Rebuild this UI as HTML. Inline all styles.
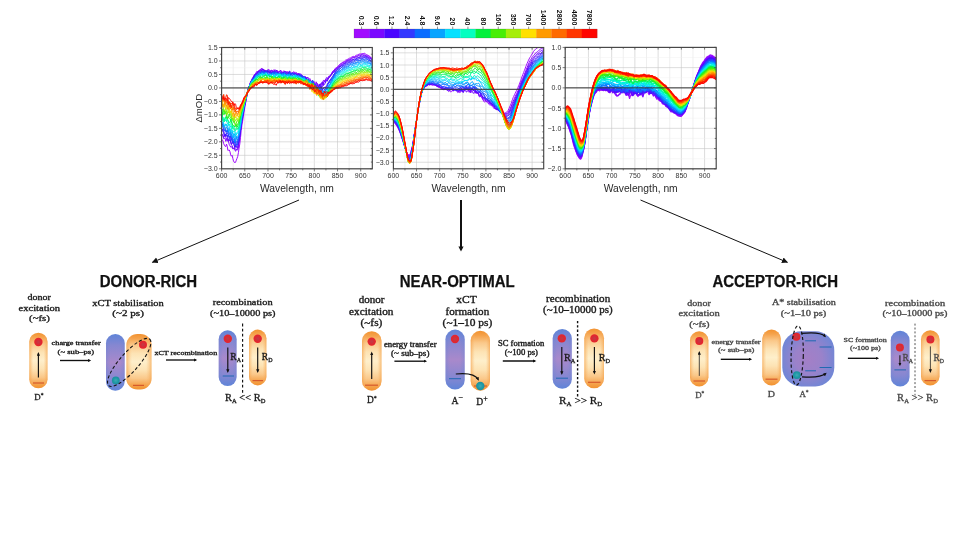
<!DOCTYPE html>
<html><head><meta charset="utf-8"><title>Transient absorption spectra</title>
<style>html,body{margin:0;padding:0;background:#fff;}body{width:964px;height:542px;overflow:hidden;}svg{display:block;filter:blur(0.4px);}text{white-space:pre;}</style>
</head><body>
<svg width="964" height="542" viewBox="0 0 964 542">
<rect width="964" height="542" fill="#fff"/>
<rect x="354" y="29.0" width="15.49" height="9.0" fill="#a10cff"/>
<rect x="369.19" y="29.0" width="15.49" height="9.0" fill="#7a08ff"/>
<rect x="384.38" y="29.0" width="15.49" height="9.0" fill="#4a06ff"/>
<rect x="399.56" y="29.0" width="15.49" height="9.0" fill="#3338ff"/>
<rect x="414.75" y="29.0" width="15.49" height="9.0" fill="#0a6cff"/>
<rect x="429.94" y="29.0" width="15.49" height="9.0" fill="#08a4ff"/>
<rect x="445.12" y="29.0" width="15.49" height="9.0" fill="#05e1ff"/>
<rect x="460.31" y="29.0" width="15.49" height="9.0" fill="#05ffc0"/>
<rect x="475.5" y="29.0" width="15.49" height="9.0" fill="#04f03c"/>
<rect x="490.69" y="29.0" width="15.49" height="9.0" fill="#48ee06"/>
<rect x="505.88" y="29.0" width="15.49" height="9.0" fill="#a6ee0a"/>
<rect x="521.06" y="29.0" width="15.49" height="9.0" fill="#ffe000"/>
<rect x="536.25" y="29.0" width="15.49" height="9.0" fill="#ff9a00"/>
<rect x="551.44" y="29.0" width="15.49" height="9.0" fill="#ff6a00"/>
<rect x="566.62" y="29.0" width="15.49" height="9.0" fill="#ff3600"/>
<rect x="581.81" y="29.0" width="15.49" height="9.0" fill="#ff0500"/>
<rect x="354.0" y="29.0" width="243.0" height="9.0" fill="none" stroke="#555" stroke-width="0.4" opacity="0.5"/>
<line x1="361.59" y1="26.6" x2="361.59" y2="29.0" stroke="#444" stroke-width="0.6"/>
<text transform="translate(359.09,25.4) rotate(90)" text-anchor="end" font-family="'Liberation Sans',Arial,sans-serif" font-size="7" font-weight="bold" fill="#111">0.3</text>
<line x1="376.78" y1="26.6" x2="376.78" y2="29.0" stroke="#444" stroke-width="0.6"/>
<text transform="translate(374.28,25.4) rotate(90)" text-anchor="end" font-family="'Liberation Sans',Arial,sans-serif" font-size="7" font-weight="bold" fill="#111">0.6</text>
<line x1="391.97" y1="26.6" x2="391.97" y2="29.0" stroke="#444" stroke-width="0.6"/>
<text transform="translate(389.47,25.4) rotate(90)" text-anchor="end" font-family="'Liberation Sans',Arial,sans-serif" font-size="7" font-weight="bold" fill="#111">1.2</text>
<line x1="407.16" y1="26.6" x2="407.16" y2="29.0" stroke="#444" stroke-width="0.6"/>
<text transform="translate(404.66,25.4) rotate(90)" text-anchor="end" font-family="'Liberation Sans',Arial,sans-serif" font-size="7" font-weight="bold" fill="#111">2.4</text>
<line x1="422.34" y1="26.6" x2="422.34" y2="29.0" stroke="#444" stroke-width="0.6"/>
<text transform="translate(419.84,25.4) rotate(90)" text-anchor="end" font-family="'Liberation Sans',Arial,sans-serif" font-size="7" font-weight="bold" fill="#111">4.8</text>
<line x1="437.53" y1="26.6" x2="437.53" y2="29.0" stroke="#444" stroke-width="0.6"/>
<text transform="translate(435.03,25.4) rotate(90)" text-anchor="end" font-family="'Liberation Sans',Arial,sans-serif" font-size="7" font-weight="bold" fill="#111">9.6</text>
<line x1="452.72" y1="26.6" x2="452.72" y2="29.0" stroke="#444" stroke-width="0.6"/>
<text transform="translate(450.22,25.4) rotate(90)" text-anchor="end" font-family="'Liberation Sans',Arial,sans-serif" font-size="7" font-weight="bold" fill="#111">20</text>
<line x1="467.91" y1="26.6" x2="467.91" y2="29.0" stroke="#444" stroke-width="0.6"/>
<text transform="translate(465.41,25.4) rotate(90)" text-anchor="end" font-family="'Liberation Sans',Arial,sans-serif" font-size="7" font-weight="bold" fill="#111">40</text>
<line x1="483.09" y1="26.6" x2="483.09" y2="29.0" stroke="#444" stroke-width="0.6"/>
<text transform="translate(480.59,25.4) rotate(90)" text-anchor="end" font-family="'Liberation Sans',Arial,sans-serif" font-size="7" font-weight="bold" fill="#111">80</text>
<line x1="498.28" y1="26.6" x2="498.28" y2="29.0" stroke="#444" stroke-width="0.6"/>
<text transform="translate(495.78,25.4) rotate(90)" text-anchor="end" font-family="'Liberation Sans',Arial,sans-serif" font-size="7" font-weight="bold" fill="#111">160</text>
<line x1="513.47" y1="26.6" x2="513.47" y2="29.0" stroke="#444" stroke-width="0.6"/>
<text transform="translate(510.97,25.4) rotate(90)" text-anchor="end" font-family="'Liberation Sans',Arial,sans-serif" font-size="7" font-weight="bold" fill="#111">350</text>
<line x1="528.66" y1="26.6" x2="528.66" y2="29.0" stroke="#444" stroke-width="0.6"/>
<text transform="translate(526.16,25.4) rotate(90)" text-anchor="end" font-family="'Liberation Sans',Arial,sans-serif" font-size="7" font-weight="bold" fill="#111">700</text>
<line x1="543.84" y1="26.6" x2="543.84" y2="29.0" stroke="#444" stroke-width="0.6"/>
<text transform="translate(541.34,25.4) rotate(90)" text-anchor="end" font-family="'Liberation Sans',Arial,sans-serif" font-size="7" font-weight="bold" fill="#111">1400</text>
<line x1="559.03" y1="26.6" x2="559.03" y2="29.0" stroke="#444" stroke-width="0.6"/>
<text transform="translate(556.53,25.4) rotate(90)" text-anchor="end" font-family="'Liberation Sans',Arial,sans-serif" font-size="7" font-weight="bold" fill="#111">2800</text>
<line x1="574.22" y1="26.6" x2="574.22" y2="29.0" stroke="#444" stroke-width="0.6"/>
<text transform="translate(571.72,25.4) rotate(90)" text-anchor="end" font-family="'Liberation Sans',Arial,sans-serif" font-size="7" font-weight="bold" fill="#111">4600</text>
<line x1="589.41" y1="26.6" x2="589.41" y2="29.0" stroke="#444" stroke-width="0.6"/>
<text transform="translate(586.91,25.4) rotate(90)" text-anchor="end" font-family="'Liberation Sans',Arial,sans-serif" font-size="7" font-weight="bold" fill="#111">7800</text>
<clipPath id="clip1"><rect x="221.6" y="47.5" width="150.70000000000002" height="121.30000000000001"/></clipPath>
<rect x="221.6" y="47.5" width="150.70000000000002" height="121.30000000000001" fill="#fff"/>
<line x1="233.19" y1="47.5" x2="233.19" y2="168.8" stroke="#e4e4e4" stroke-width="0.6"/>
<line x1="244.78" y1="47.5" x2="244.78" y2="168.8" stroke="#c6c6c6" stroke-width="0.6"/>
<line x1="256.38" y1="47.5" x2="256.38" y2="168.8" stroke="#e4e4e4" stroke-width="0.6"/>
<line x1="267.97" y1="47.5" x2="267.97" y2="168.8" stroke="#c6c6c6" stroke-width="0.6"/>
<line x1="279.56" y1="47.5" x2="279.56" y2="168.8" stroke="#e4e4e4" stroke-width="0.6"/>
<line x1="291.15" y1="47.5" x2="291.15" y2="168.8" stroke="#c6c6c6" stroke-width="0.6"/>
<line x1="302.75" y1="47.5" x2="302.75" y2="168.8" stroke="#e4e4e4" stroke-width="0.6"/>
<line x1="314.34" y1="47.5" x2="314.34" y2="168.8" stroke="#c6c6c6" stroke-width="0.6"/>
<line x1="325.93" y1="47.5" x2="325.93" y2="168.8" stroke="#e4e4e4" stroke-width="0.6"/>
<line x1="337.52" y1="47.5" x2="337.52" y2="168.8" stroke="#c6c6c6" stroke-width="0.6"/>
<line x1="349.12" y1="47.5" x2="349.12" y2="168.8" stroke="#e4e4e4" stroke-width="0.6"/>
<line x1="360.71" y1="47.5" x2="360.71" y2="168.8" stroke="#c6c6c6" stroke-width="0.6"/>
<line x1="221.6" y1="168.8" x2="372.3" y2="168.8" stroke="#c6c6c6" stroke-width="0.6"/>
<line x1="221.6" y1="162.06" x2="372.3" y2="162.06" stroke="#f0f0f0" stroke-width="0.45"/>
<line x1="221.6" y1="155.32" x2="372.3" y2="155.32" stroke="#c6c6c6" stroke-width="0.6"/>
<line x1="221.6" y1="148.58" x2="372.3" y2="148.58" stroke="#f0f0f0" stroke-width="0.45"/>
<line x1="221.6" y1="141.84" x2="372.3" y2="141.84" stroke="#c6c6c6" stroke-width="0.6"/>
<line x1="221.6" y1="135.11" x2="372.3" y2="135.11" stroke="#f0f0f0" stroke-width="0.45"/>
<line x1="221.6" y1="128.37" x2="372.3" y2="128.37" stroke="#c6c6c6" stroke-width="0.6"/>
<line x1="221.6" y1="121.63" x2="372.3" y2="121.63" stroke="#f0f0f0" stroke-width="0.45"/>
<line x1="221.6" y1="114.89" x2="372.3" y2="114.89" stroke="#c6c6c6" stroke-width="0.6"/>
<line x1="221.6" y1="108.15" x2="372.3" y2="108.15" stroke="#f0f0f0" stroke-width="0.45"/>
<line x1="221.6" y1="101.41" x2="372.3" y2="101.41" stroke="#c6c6c6" stroke-width="0.6"/>
<line x1="221.6" y1="94.67" x2="372.3" y2="94.67" stroke="#f0f0f0" stroke-width="0.45"/>
<line x1="221.6" y1="87.93" x2="372.3" y2="87.93" stroke="#c6c6c6" stroke-width="0.6"/>
<line x1="221.6" y1="81.19" x2="372.3" y2="81.19" stroke="#f0f0f0" stroke-width="0.45"/>
<line x1="221.6" y1="74.46" x2="372.3" y2="74.46" stroke="#c6c6c6" stroke-width="0.6"/>
<line x1="221.6" y1="67.72" x2="372.3" y2="67.72" stroke="#f0f0f0" stroke-width="0.45"/>
<line x1="221.6" y1="60.98" x2="372.3" y2="60.98" stroke="#c6c6c6" stroke-width="0.6"/>
<line x1="221.6" y1="54.24" x2="372.3" y2="54.24" stroke="#f0f0f0" stroke-width="0.45"/>
<line x1="221.6" y1="47.5" x2="372.3" y2="47.5" stroke="#c6c6c6" stroke-width="0.6"/>
<g clip-path="url(#clip1)"><g transform="scale(0.1)" fill="none" stroke-linejoin="round" stroke-width="10">
<path d="M2216,1391l7 6 7 13 7 27 7 14 7 12 7 3 7-25 7 21 7 43 7-3 7-2 7 18 7 31 7 13 7-9 7 31 7 25 7 12 7 8 7-7 7-20 7-18 7-19 7-38 7-45 7-43 7-62 7-71 7-53 7-40 7-45 7-47 7-40 7-47 7-37 7-29 7-39 7-27 7-21 7-26 7-22 7-13 7-16 7-24 7-5 7-9 7-17 7-3 7-16 7-14 7 8 7-4 7-16 7-4 7-4 7-3 7 0 7-8 7 8 7 8 7-1 7 2 7 5 7 6 7-5 7-8 7-8 7 15 7 13 7-12 7 8 7 8 7-11 7-11 7-5 7 12 7 7 7 0 7-12 7 2 7 13 7-4 7-1 7 4 7 7 7 0 7-4 7-7 7-6 7 8 7 0 7 3 7-2 7-1 7 3 7 8 7 2 7 3 7 14 7-7 7-6 7-2 7-16 7 6 7 17 7-5 7-4 7 4 7 5 7-2 7-1 7 12 7 7 7-2 7 9 7 3 7 3 7-1 7-4 7 11 7 10 7 8 7 18 7 16 7-15 7 16 7 2 7 1 7 7 7-5 7 5 7-7 7 34 7-10 7-35 7 17 7 21 7 0 7 6 7-18 7-7 7 10 7-1 7 1 7-2 7-24 7-17 7-4 7-9 7 3 7-6 7-9 7-9 7-9 7-7 7-5 7-7 7-21 7-9 7 0 7-12 7-15 7-3 7-3 7-9 7-3 7-10 7-9 7-5 7-4 7-6 7-6 7-4 7-3 7-3 7-9 7-6 7-2 7-5 7-2 7-3 7-5 7-4 7-2 7-4 7-5 7-5 7-1 7 0 7 1 7-6 7-7 7 0 7-2 7-4 7-3 7-3 7 1 7-3 7 0 7 0 7-4 7 1 7-2 7 1 7 8 7 9 7-1 7 2 7 5 7 1 7 8 7 11 7 2 7 1" stroke="#a10cff"/>
<path d="M2216,1341l7 5 7 14 7 28 7-3 7-1 7 30 7-15 7-16 7 12 7 25 7 27 7 11 7 13 7-5 7 12 7 11 7-1 7-11 7 24 7 12 7-18 7 2 7 3 7-18 7-61 7-59 7-54 7-48 7-50 7-45 7-25 7-37 7-39 7-24 7-40 7-52 7-32 7-16 7-19 7-31 7-25 7-13 7-14 7-12 7-15 7-13 7-7 7-1 7-9 7-8 7-10 7-4 7-1 7-11 7 2 7-11 7-15 7 12 7 4 7-4 7 21 7 1 7-13 7 2 7 7 7 3 7-5 7-8 7-3 7 8 7-7 7 4 7 14 7 9 7-13 7-17 7 4 7 3 7 6 7 4 7 3 7 3 7-1 7-11 7-3 7 11 7 9 7 4 7-14 7-6 7 10 7 6 7 8 7-2 7-11 7 2 7 7 7 0 7-1 7 8 7 2 7-3 7-5 7 0 7 3 7-11 7 6 7 13 7-1 7 0 7 9 7 0 7-13 7 7 7 16 7 9 7 1 7 5 7 14 7-13 7 3 7 6 7-15 7 12 7 15 7-12 7 12 7 33 7 18 7-2 7-28 7-6 7 34 7 27 7-3 7-13 7-5 7 0 7-8 7 4 7 1 7-8 7-3 7-7 7-24 7-5 7 10 7 10 7-11 7-7 7 3 7-25 7-19 7-2 7 3 7-8 7-14 7-12 7-18 7-7 7 1 7-5 7-10 7-9 7-5 7-7 7-6 7-8 7-10 7-6 7-2 7-4 7-5 7-3 7-5 7-2 7-2 7-8 7-7 7-2 7-6 7 0 7 0 7-7 7-5 7-2 7-4 7-4 7 2 7-1 7-6 7-5 7 3 7-5 7-7 7-3 7 0 7 1 7 0 7-8 7-2 7 1 7 1 7 4 7 4 7 4 7-3 7 5 7 2 7 0 7 9 7 6 7 4 7 5 7 6" stroke="#8a0aff"/>
<path d="M2216,1336l7 10 7 9 7 20 7-7 7-26 7 30 7 21 7-5 7 25 7-13 7 4 7 1 7 16 7 27 7 6 7 29 7 1 7 2 7 3 7-1 7 13 7-7 7-20 7-28 7-35 7-47 7-52 7-53 7-48 7-29 7-48 7-54 7-29 7-24 7-37 7-31 7-33 7-28 7-18 7-27 7-20 7-16 7-14 7-5 7-7 7-24 7-16 7-1 7-9 7-6 7-7 7-16 7-1 7 12 7-4 7-3 7-9 7-11 7 10 7 13 7-2 7-15 7 15 7 6 7-9 7-2 7 0 7 9 7 4 7 5 7-18 7-11 7 12 7 12 7 11 7-3 7-12 7-1 7 1 7 8 7 0 7-7 7-8 7-12 7 10 7 18 7 0 7 0 7 5 7-3 7 2 7-4 7-5 7 2 7 1 7 7 7 5 7-3 7-1 7-2 7-3 7 10 7 0 7 1 7 4 7-4 7 9 7-1 7-9 7 3 7 6 7 4 7 7 7 3 7 1 7 2 7 8 7 3 7-5 7 6 7 9 7 0 7 16 7 7 7-11 7 7 7 4 7 15 7 12 7-10 7-3 7 10 7 29 7 0 7-31 7-5 7 11 7 31 7-10 7-19 7 37 7-9 7-15 7 12 7-15 7-30 7-8 7 1 7-23 7-15 7 5 7 4 7-1 7-6 7-16 7-13 7-7 7-10 7-6 7-5 7-12 7-10 7-8 7-7 7-3 7-6 7-5 7-1 7-9 7-9 7-5 7-1 7-4 7-7 7-3 7-1 7-6 7-10 7-5 7-1 7-2 7-7 7 3 7-2 7-10 7-4 7-5 7-4 7 0 7-1 7-3 7-1 7-1 7-5 7-7 7 0 7 2 7-3 7-5 7-1 7-1 7 1 7 4 7 0 7-1 7 0 7 7 7 7 7-1 7 3 7 7 7 2 7 1 7 6 7 8" stroke="#7308ff"/>
<path d="M2216,1300l7 7 7 4 7 15 7 35 7-10 7 5 7 1 7-7 7 35 7 13 7 1 7-1 7 15 7 31 7-13 7-21 7 4 7 38 7 24 7-16 7 1 7 18 7-11 7-31 7-34 7-38 7-53 7-63 7-46 7-37 7-46 7-42 7-33 7-33 7-29 7-27 7-28 7-31 7-27 7-13 7-18 7-19 7-18 7-7 7-3 7-15 7-25 7-14 7 4 7-5 7-18 7-2 7 5 7-12 7-9 7 1 7 5 7-6 7-12 7 8 7 7 7 16 7 1 7-10 7 2 7-4 7 5 7 16 7-4 7-6 7 6 7-1 7 1 7 12 7-10 7-16 7 1 7-11 7 8 7 26 7 7 7-4 7-2 7-8 7 11 7-1 7-3 7 1 7-9 7 5 7 0 7 2 7 3 7 8 7-3 7-21 7-11 7 4 7 8 7 12 7-4 7-2 7 9 7 2 7 0 7 2 7 2 7 5 7 4 7-16 7 1 7 17 7-1 7-2 7 13 7 10 7-9 7 0 7 9 7-6 7 11 7 16 7 5 7-7 7 19 7 27 7-8 7-9 7-8 7-4 7 31 7 13 7-11 7 22 7-8 7 4 7 32 7-8 7-9 7 1 7-25 7-13 7-15 7 2 7 26 7-2 7-13 7-4 7-18 7-12 7 8 7-17 7-17 7-6 7-8 7-9 7-8 7-10 7-9 7-5 7-8 7-3 7-6 7-10 7-8 7-3 7-9 7-9 7 1 7-2 7-7 7-8 7-4 7-5 7-5 7-5 7-4 7-3 7-7 7-9 7 1 7 3 7-4 7-6 7-2 7-1 7-5 7-1 7-1 7-4 7 0 7 0 7-6 7-6 7-3 7 2 7-2 7-8 7-3 7 0 7 2 7-2 7-1 7 5 7 2 7-3 7 0 7 3 7 5 7 3 7 4 7 7 7-1 7 4 7 11" stroke="#5707ff"/>
<path d="M2216,1300l7 1 7-13 7 17 7 49 7 4 7-19 7 1 7-12 7 7 7 18 7 32 7 10 7-36 7 14 7 39 7 22 7-7 7 23 7 25 7-16 7-11 7 3 7-4 7-20 7-38 7-53 7-45 7-47 7-53 7-35 7-34 7-46 7-31 7-30 7-31 7-34 7-42 7-28 7-12 7-15 7-20 7-14 7-20 7-5 7-9 7-15 7-11 7-9 7 2 7-7 7-13 7-6 7-5 7-2 7 10 7-10 7-15 7 5 7 4 7-5 7 4 7 11 7 0 7-11 7 8 7 1 7-4 7 15 7-11 7-6 7 17 7 2 7-14 7-9 7 9 7 6 7-7 7 8 7 2 7-3 7 6 7 4 7-3 7-3 7 5 7 3 7-10 7-4 7 2 7-6 7 3 7-6 7 9 7 10 7-3 7-6 7-11 7 23 7 16 7-15 7-9 7 1 7 5 7 2 7-3 7 4 7 0 7 13 7 4 7-4 7 1 7-2 7 13 7 0 7 4 7 12 7 8 7-2 7-10 7-4 7 9 7 5 7 3 7 16 7 1 7-6 7 14 7 20 7 4 7 2 7 15 7-5 7 0 7 14 7 10 7 5 7-12 7 13 7-18 7-7 7 6 7-5 7 28 7 13 7-14 7-8 7-2 7-4 7 5 7-11 7-8 7-15 7-19 7-6 7-14 7-16 7-6 7-5 7-13 7-10 7-11 7-20 7-8 7-6 7-7 7-5 7-9 7-5 7-8 7-9 7-4 7-2 7-2 7-6 7-6 7-4 7-5 7-6 7 1 7 0 7-9 7-3 7 0 7-3 7-2 7-4 7-10 7-5 7 4 7 2 7-4 7-6 7-2 7 1 7-6 7-5 7 0 7 2 7 0 7-2 7 0 7-3 7-3 7 1 7-3 7 0 7 9 7 3 7-2 7 6 7 8 7 3 7 6 7 3 7 7" stroke="#4315ff"/>
<path d="M2216,1299l7 9 7-6 7-1 7-1 7 12 7-7 7 38 7 26 7-13 7 8 7-4 7 26 7 23 7-14 7-1 7 33 7-9 7-27 7 46 7 22 7-44 7-8 7 14 7-8 7-33 7-50 7-53 7-50 7-40 7-33 7-34 7-39 7-36 7-31 7-39 7-31 7-25 7-24 7-19 7-18 7-17 7-20 7-10 7-14 7-16 7 0 7-6 7-8 7-10 7-6 7-12 7-6 7 11 7-5 7-5 7-5 7-17 7-3 7 13 7 9 7-17 7-5 7 11 7-4 7-14 7-1 7 15 7 6 7-2 7 7 7 11 7-4 7 0 7 2 7-7 7-15 7 7 7 17 7-4 7-4 7-7 7 7 7 13 7 8 7 1 7-14 7-6 7 11 7 3 7-6 7-5 7 4 7 5 7 8 7 6 7-21 7 7 7 12 7-14 7 1 7 7 7-2 7-3 7 1 7 10 7 2 7-5 7 4 7-4 7-4 7-1 7 9 7 3 7-7 7 2 7 2 7 11 7 14 7-3 7 12 7 10 7-2 7 11 7 17 7 12 7-10 7-13 7-5 7 15 7 20 7 15 7 0 7 0 7 4 7-20 7 13 7 44 7 14 7 2 7 6 7-30 7-13 7 32 7-6 7-28 7 6 7 12 7-8 7-16 7-16 7-15 7-12 7-10 7-11 7-9 7 1 7-9 7-19 7-10 7-13 7-10 7-5 7-13 7-12 7-5 7-7 7-8 7-4 7 2 7-4 7-9 7-4 7-6 7-9 7-3 7 0 7-9 7-5 7 3 7-5 7-6 7-2 7-4 7-3 7 0 7-4 7-6 7-1 7-2 7-3 7-8 7-1 7 1 7-4 7 0 7-4 7-4 7-4 7 0 7 2 7 1 7-3 7-2 7-1 7 2 7 2 7 0 7 4 7 9 7 5 7 4 7-1 7 3 7 6 7 3" stroke="#3632ff"/>
<path d="M2216,1247l7-9 7 29 7 22 7 3 7 1 7 16 7 11 7-25 7 35 7 30 7-2 7 11 7-15 7 15 7 14 7 33 7 6 7-3 7 9 7-8 7 30 7 2 7-34 7-36 7-36 7-38 7-38 7-51 7-57 7-29 7-26 7-27 7-39 7-51 7-28 7-21 7-26 7-14 7-24 7-18 7-12 7-22 7-18 7-11 7-8 7-5 7 0 7-12 7-9 7 0 7-3 7-11 7-3 7 0 7-5 7-9 7-11 7-10 7 11 7 16 7-13 7-2 7 8 7-11 7 1 7 18 7 7 7-9 7-9 7 11 7 9 7-12 7-9 7 8 7 0 7-7 7 16 7 7 7-14 7 2 7 17 7-1 7-19 7-12 7 20 7-6 7-6 7 11 7-15 7 1 7 7 7 14 7-3 7-2 7 19 7-21 7-18 7 7 7 10 7 2 7-13 7 0 7 10 7 16 7 1 7 6 7 9 7-10 7-2 7 4 7-3 7-8 7-5 7 14 7 3 7 8 7 13 7-7 7 10 7 12 7 6 7 2 7-19 7 12 7 19 7 8 7 20 7 11 7-23 7-36 7 17 7 44 7 4 7 2 7 5 7-3 7 11 7 1 7 15 7 15 7 16 7 3 7-2 7-4 7-6 7-6 7-17 7 5 7 1 7-14 7-21 7-26 7-10 7-1 7-15 7-7 7-12 7-15 7 2 7-21 7-23 7 1 7-6 7-10 7-7 7-4 7-4 7-11 7-7 7-7 7-4 7-8 7-3 7 0 7-2 7-1 7-10 7-4 7-2 7-6 7 0 7-2 7-4 7-3 7-6 7-5 7 0 7 1 7-5 7-4 7-4 7-7 7-2 7 2 7 0 7-1 7-1 7-2 7-3 7-2 7-4 7 0 7 2 7 2 7-2 7-2 7 2 7 1 7 3 7 5 7 5 7-2 7 9 7 8 7 0" stroke="#2050ff"/>
<path d="M2216,1248l7-6 7-8 7 25 7 19 7 9 7 24 7 3 7 0 7-3 7 0 7 35 7-14 7-28 7 30 7 34 7 24 7-1 7 3 7 30 7-4 7-51 7 23 7 12 7-35 7-26 7-53 7-41 7-33 7-53 7-34 7-26 7-36 7-31 7-37 7-26 7-24 7-24 7-22 7-25 7-5 7-18 7-22 7-11 7-22 7-7 7 3 7-20 7-13 7-7 7-8 7 6 7-4 7-17 7-11 7 3 7 3 7 1 7 3 7-11 7-3 7 19 7 4 7-11 7-6 7 6 7 9 7 0 7 7 7 9 7-15 7-5 7 3 7-11 7-1 7 8 7-9 7-4 7 17 7 0 7-4 7 11 7 3 7-5 7 15 7 0 7-11 7 3 7 9 7 0 7-10 7-3 7 8 7-3 7 0 7 6 7-15 7 3 7 12 7-10 7-1 7 9 7-3 7-7 7 14 7 11 7-5 7 2 7 1 7 0 7-4 7 3 7 4 7-5 7 8 7 5 7-11 7 2 7 18 7 7 7 6 7 2 7-10 7 14 7 16 7-13 7 8 7 16 7 12 7 17 7 1 7-29 7 5 7 41 7 9 7 2 7-10 7 1 7-12 7 5 7 12 7 4 7 14 7 21 7 8 7-14 7-2 7 13 7-16 7-22 7 0 7-12 7-12 7-15 7-7 7-7 7-20 7-17 7-9 7-10 7-10 7-12 7-16 7-6 7-9 7-12 7-1 7-6 7-4 7 0 7-5 7-8 7-7 7-4 7-6 7 0 7-5 7-5 7-2 7-5 7-3 7-1 7-3 7-6 7-6 7-4 7 0 7 0 7-3 7-5 7 0 7-4 7-5 7 1 7-4 7-6 7-2 7-3 7-2 7-2 7-4 7 2 7-1 7-1 7 4 7 3 7 2 7-1 7 4 7 2 7 0 7 4 7 9 7 5 7 0 7 6" stroke="#0a6eff"/>
<path d="M2216,1235l7 36 7-2 7-18 7 2 7 24 7 10 7-18 7 6 7 19 7 32 7-39 7 14 7 53 7 2 7 16 7-8 7-24 7 33 7 43 7-21 7-30 7 0 7-5 7 0 7-23 7-41 7-38 7-56 7-40 7-42 7-38 7-18 7-34 7-40 7-26 7-13 7-24 7-33 7-16 7-10 7-23 7-18 7-4 7-8 7-11 7-12 7-11 7-12 7-9 7 7 7-5 7-18 7-7 7-5 7 1 7 9 7-8 7 1 7 18 7-11 7-8 7 9 7 4 7 8 7-1 7-5 7-9 7 13 7-2 7-7 7 13 7-12 7-6 7 15 7-12 7-4 7 11 7-7 7-7 7 5 7 3 7 2 7 0 7 1 7 10 7-17 7-4 7 12 7-12 7-1 7 20 7-2 7 3 7-2 7-14 7 10 7 11 7-4 7-3 7 7 7-2 7 6 7 6 7-8 7-1 7-3 7 7 7-1 7-3 7 8 7 9 7 6 7-7 7 2 7 5 7-8 7-4 7 0 7 12 7 23 7-6 7-6 7 3 7 8 7 4 7-3 7 10 7 9 7 8 7 9 7 9 7-2 7 16 7-2 7 2 7 16 7 5 7 21 7-20 7 6 7 43 7 9 7-8 7-27 7-4 7 10 7 6 7-1 7-21 7-18 7-1 7-4 7-16 7-5 7-11 7-16 7-4 7-16 7-22 7-8 7-5 7-15 7-13 7-7 7-10 7-3 7-4 7-6 7-4 7-5 7-5 7-7 7-5 7-2 7-3 7-5 7-2 7-2 7-5 7-3 7-3 7-3 7-8 7-6 7 0 7 0 7-6 7-4 7 2 7-2 7-3 7-5 7-1 7-4 7-1 7 0 7-2 7-4 7-4 7 3 7-4 7-3 7 4 7 3 7 2 7 1 7-1 7 3 7 3 7 3 7 3 7 2 7 0 7 10 7 8" stroke="#098eff"/>
<path d="M2216,1223l7-1 7 12 7 14 7 8 7-7 7-11 7 20 7 4 7 10 7 38 7-3 7-18 7 21 7 0 7-7 7 40 7 36 7-25 7-20 7 27 7 25 7-5 7-13 7-6 7-37 7-45 7-36 7-53 7-37 7-28 7-41 7-36 7-24 7-24 7-25 7-33 7-30 7-9 7-16 7-26 7-18 7-19 7-16 7 0 7-3 7-5 7-9 7-14 7-17 7-6 7 16 7-2 7-16 7-2 7 2 7-7 7-6 7-1 7 7 7-4 7-2 7 8 7 6 7 3 7-12 7 6 7 5 7-14 7 2 7 4 7 5 7-6 7-15 7 8 7 19 7 9 7-18 7-17 7 4 7 4 7 6 7 10 7-3 7-4 7 11 7-3 7-18 7 14 7 17 7-9 7-4 7 17 7-9 7-15 7 8 7-11 7-3 7 17 7 1 7 2 7 5 7-8 7 0 7 5 7-11 7-6 7 5 7 3 7 4 7-3 7 5 7 0 7 8 7 15 7 6 7 4 7-9 7-8 7 11 7 14 7 2 7 11 7 12 7-1 7 12 7 5 7-11 7 14 7 17 7 15 7-27 7 7 7 11 7-17 7 32 7 29 7-12 7-29 7 30 7 30 7-18 7-1 7-5 7 12 7 15 7 5 7-17 7-10 7 24 7-14 7-25 7-23 7-10 7-2 7-17 7-19 7-10 7-10 7-14 7-6 7-10 7-10 7-6 7-12 7-6 7-6 7-11 7-3 7-1 7-5 7-7 7-7 7-4 7-4 7-2 7-3 7-1 7-5 7-7 7 0 7-6 7-5 7 5 7-1 7-6 7-5 7-10 7 1 7 2 7-3 7-3 7-4 7-4 7 1 7-3 7-3 7 0 7-6 7-3 7 2 7 2 7-2 7-1 7-3 7 4 7 2 7-2 7 2 7 2 7 0 7 4 7 5 7 4 7 3 7 10" stroke="#07b0ff"/>
<path d="M2216,1183l7 7 7 26 7 16 7 29 7-2 7-11 7-7 7 20 7-6 7-18 7 35 7 24 7 17 7 15 7 7 7-4 7 5 7 25 7 4 7-6 7-6 7-29 7-8 7 7 7-12 7-33 7-43 7-50 7-39 7-28 7-33 7-31 7-38 7-23 7-17 7-25 7-28 7-19 7-10 7-16 7-15 7-21 7-29 7-3 7-2 7-14 7 2 7-5 7-10 7-3 7-17 7 0 7 2 7-16 7 2 7-1 7-8 7 0 7 3 7-2 7 14 7-4 7-25 7 4 7 8 7 15 7 8 7-4 7 4 7-11 7 2 7 7 7 8 7 1 7-13 7 4 7 6 7-17 7 4 7 20 7-3 7-14 7-19 7 6 7 19 7 5 7-11 7 4 7-2 7-15 7 9 7 6 7-4 7-5 7 11 7 3 7-4 7 12 7-3 7-2 7 6 7 8 7 0 7-16 7-15 7 5 7 6 7 7 7 8 7-2 7 8 7 9 7-3 7-1 7 10 7-1 7-2 7-1 7 2 7 13 7 3 7 3 7 12 7 8 7-8 7-5 7-1 7 31 7 25 7-9 7 1 7 8 7 16 7-8 7-1 7 32 7-8 7-20 7 30 7 8 7 8 7 2 7 0 7 22 7 2 7-2 7-9 7-13 7-6 7-4 7 13 7-17 7-23 7-14 7-27 7-13 7-6 7-11 7-13 7-10 7-9 7-9 7-13 7-10 7-7 7-6 7-3 7-6 7-6 7-7 7-4 7-1 7-2 7-9 7-5 7 1 7-8 7-6 7-1 7 0 7-7 7-5 7 1 7-1 7 1 7 0 7-7 7-6 7-1 7 1 7 0 7-4 7-2 7-5 7-8 7-6 7-2 7 5 7 1 7 4 7-2 7-7 7-3 7-2 7 2 7 2 7 1 7-1 7 6 7 6 7 3 7 0 7-1 7 6 7 10" stroke="#06d3ff"/>
<path d="M2216,1179l7 7 7 6 7 4 7-1 7 9 7 1 7-4 7 25 7 14 7 11 7-5 7 7 7 17 7 11 7 35 7-7 7 4 7 11 7-13 7 27 7 13 7-15 7-6 7-7 7-41 7-45 7-37 7-32 7-31 7-29 7-28 7-36 7-28 7-20 7-20 7-26 7-28 7-18 7-13 7-20 7-29 7-10 7-2 7-13 7 4 7-6 7-16 7-12 7-8 7 5 7-6 7-11 7-3 7-4 7 1 7-1 7-11 7-12 7 0 7 10 7-2 7-4 7-2 7 0 7 11 7 5 7-1 7 0 7 0 7 8 7 15 7 0 7 0 7-5 7-13 7 12 7-4 7-16 7 4 7-5 7-11 7 19 7 6 7-10 7 4 7-3 7 8 7 10 7 1 7 1 7-4 7 5 7 6 7-13 7-5 7 1 7 11 7 7 7-7 7-4 7 0 7-4 7-3 7 6 7 0 7-3 7 3 7-1 7-3 7 7 7 5 7 0 7-3 7 0 7 7 7 3 7 5 7 0 7 4 7 27 7-5 7-14 7 26 7 9 7 3 7-17 7-10 7 45 7 5 7-7 7-10 7 15 7 60 7-6 7-16 7 13 7 29 7-3 7-40 7 35 7 12 7-9 7-7 7-6 7 27 7-7 7-8 7 9 7-8 7-10 7 6 7-27 7-19 7 1 7-17 7-9 7-6 7-17 7-15 7-13 7-15 7-8 7-6 7-11 7-3 7-5 7-6 7-7 7-8 7-3 7 0 7-5 7-5 7-5 7-5 7-1 7-5 7-7 7 0 7-4 7-4 7 1 7-4 7-2 7-1 7-4 7-7 7-5 7 1 7-3 7-3 7 1 7-5 7-2 7-5 7-3 7 5 7-4 7-4 7 2 7 3 7-3 7-8 7 1 7 0 7-1 7 4 7 3 7 3 7 4 7 0 7 2 7 9 7 4 7 3" stroke="#05ebe9"/>
<path d="M2216,1173l7-2 7-1 7 34 7 16 7-44 7 12 7 30 7-25 7 1 7 37 7 23 7-11 7-8 7 21 7 37 7-12 7-18 7 16 7 25 7 1 7-7 7-6 7 9 7-5 7-34 7-27 7-41 7-39 7-26 7-31 7-24 7-25 7-35 7-26 7-26 7-16 7-11 7-25 7-25 7-24 7-15 7-1 7-11 7-9 7 1 7-22 7-15 7 2 7-7 7-11 7-4 7-3 7 1 7 8 7-15 7-17 7 4 7 7 7 2 7 6 7-7 7-8 7 7 7 2 7-3 7 0 7 2 7 11 7 1 7-21 7 7 7 16 7-9 7-7 7 2 7 17 7 2 7-3 7 9 7-11 7-3 7-2 7-22 7 1 7 16 7 11 7 10 7 1 7-1 7 1 7 1 7-6 7 3 7 7 7 3 7-11 7-9 7-3 7-5 7 8 7 3 7 6 7-8 7-14 7 14 7 14 7-3 7 5 7 8 7-12 7-3 7 9 7-2 7 6 7 7 7 0 7 10 7-3 7 5 7-7 7 0 7 3 7 8 7 18 7 6 7 25 7-7 7-16 7 21 7 0 7 1 7 21 7-7 7 2 7 35 7-5 7-23 7 33 7 27 7 21 7 10 7-19 7-6 7 21 7 2 7-25 7-4 7 13 7-20 7-15 7-1 7-4 7-4 7-10 7-19 7-17 7-16 7-14 7-11 7-10 7-6 7-3 7-10 7-11 7-7 7-7 7-5 7-3 7-7 7-8 7-3 7-5 7-4 7-1 7-4 7-10 7-2 7-1 7-8 7-3 7 1 7-4 7-4 7 2 7-2 7-5 7-3 7 0 7-5 7-1 7 2 7-5 7-6 7-3 7 1 7-3 7-5 7-4 7 2 7 1 7-3 7 3 7 0 7-5 7 0 7 4 7-1 7-2 7 1 7 6 7 4 7 0 7 5 7 8 7 2" stroke="#05fdc5"/>
<path d="M2216,1123l7 19 7 62 7 11 7-17 7-14 7-19 7 6 7 28 7 3 7 12 7 11 7 4 7-31 7-11 7 60 7 34 7 4 7 14 7 7 7-10 7-16 7-4 7 12 7-3 7-22 7-43 7-43 7-38 7-24 7-28 7-31 7-21 7-14 7-17 7-36 7-33 7-18 7-15 7-14 7-11 7-13 7-18 7-14 7-4 7-5 7-11 7-9 7 0 7-12 7-10 7 2 7-11 7-11 7 3 7-1 7 4 7 6 7 7 7-10 7-1 7 3 7-5 7 10 7-3 7-7 7-5 7-9 7 2 7 6 7 6 7 2 7-5 7 8 7 2 7-2 7-2 7-2 7 5 7 7 7-8 7 7 7 9 7-21 7 14 7 15 7-22 7 7 7-12 7 6 7 8 7-26 7 4 7 11 7 4 7 4 7-3 7 2 7 7 7-12 7 5 7 8 7-7 7 6 7-5 7-9 7 15 7 3 7-3 7 5 7-3 7 2 7-2 7 2 7 3 7-1 7 3 7 6 7 13 7 7 7-4 7-12 7-9 7 0 7 20 7 19 7 4 7 3 7-6 7-6 7 32 7 26 7-20 7-4 7 27 7-3 7 10 7 26 7 8 7 28 7-9 7-2 7 22 7 0 7-9 7-4 7 6 7 12 7-5 7-9 7-12 7-22 7-8 7-20 7-14 7-5 7-10 7-9 7-15 7-15 7-4 7-9 7-14 7-8 7-7 7-1 7-2 7-13 7-8 7 3 7-5 7-6 7 0 7 0 7-4 7-9 7-6 7-3 7-3 7-5 7 2 7-1 7-6 7 0 7-4 7-4 7-3 7 0 7-2 7-9 7-1 7 5 7-5 7-7 7-3 7 1 7-4 7-3 7 2 7-2 7-4 7-4 7-2 7 1 7-1 7 0 7 1 7 4 7 6 7-3 7 2 7 5 7 0 7 4 7 5 7 1" stroke="#04f87e"/>
<path d="M2216,1157l7-6 7-63 7 16 7 38 7-5 7-23 7 35 7 34 7-8 7 1 7 3 7 7 7 17 7 18 7 13 7 19 7 2 7 0 7 17 7-17 7-10 7 29 7-14 7-14 7-18 7-36 7-31 7-29 7-21 7-26 7-40 7-13 7-14 7-35 7-16 7-13 7-33 7-22 7-15 7-19 7-5 7-12 7-12 7-11 7-7 7-3 7-5 7-11 7-8 7 5 7 2 7-12 7-5 7-1 7-1 7-2 7-8 7-6 7 2 7-6 7 1 7-6 7-7 7 17 7 9 7 21 7-2 7-18 7-13 7 10 7 1 7-7 7 8 7 15 7 4 7-14 7-3 7-3 7 12 7-5 7-12 7 3 7-2 7-3 7 7 7 16 7 10 7-18 7-13 7 8 7 8 7 0 7-2 7 2 7 5 7-15 7-5 7 16 7 9 7 1 7-11 7-8 7 6 7 4 7 1 7 7 7-8 7-7 7-5 7 8 7 16 7-7 7 3 7 16 7 7 7-6 7-5 7 4 7-1 7-5 7 8 7 11 7 10 7 0 7-7 7 10 7 9 7 10 7 26 7 14 7-18 7-11 7-3 7 13 7 17 7-9 7 7 7 32 7 22 7-2 7 17 7 3 7-16 7 15 7-6 7-1 7 18 7-5 7-3 7-13 7-14 7-17 7-14 7-5 7-8 7-4 7-13 7-14 7-14 7-13 7-12 7-10 7-6 7-5 7-5 7-7 7-6 7-2 7-4 7-11 7-3 7 3 7-3 7-1 7-7 7-7 7-1 7-7 7-7 7 3 7 0 7-6 7-1 7-3 7-1 7-5 7-4 7 1 7-4 7-3 7-1 7-1 7-5 7-3 7 2 7 0 7-2 7-2 7-3 7-4 7 3 7-1 7-6 7 0 7 3 7-2 7 1 7 6 7 2 7-1 7-1 7 0 7 6 7 8 7 7" stroke="#09f038"/>
<path d="M2216,1118l7 7 7 17 7 1 7-31 7 9 7 8 7 18 7 37 7 2 7-32 7-17 7 33 7 6 7 7 7 5 7 0 7 35 7 3 7 9 7 21 7 7 7-13 7-14 7-5 7-17 7-40 7-30 7-13 7-35 7-36 7-19 7-8 7-18 7-32 7-23 7-24 7-12 7-14 7-18 7-16 7-16 7-10 7-7 7 2 7-5 7-10 7-6 7-14 7-16 7-1 7 6 7-3 7-7 7-12 7-8 7 3 7 4 7 13 7 3 7-4 7-7 7-6 7 7 7 4 7-14 7 3 7 16 7-4 7-1 7 1 7-7 7-14 7 15 7 12 7-12 7 1 7 2 7 2 7-8 7 1 7 8 7-3 7-1 7 1 7-5 7-1 7 5 7 1 7 8 7 5 7 0 7-6 7-2 7 8 7-6 7-9 7 12 7-7 7-10 7 11 7-6 7 0 7 9 7-11 7 3 7 13 7-10 7 6 7 7 7-6 7-12 7 9 7 16 7-6 7 2 7 14 7 1 7-6 7 3 7-5 7-1 7 9 7 9 7 18 7 10 7-8 7 8 7 7 7 10 7-11 7-29 7 29 7 29 7 6 7-3 7-1 7 23 7 16 7 7 7 17 7 1 7 4 7 7 7-3 7-3 7 3 7 0 7 4 7-3 7-13 7-6 7-12 7-14 7-1 7-10 7-14 7-15 7-10 7-3 7-12 7-17 7-9 7-4 7-9 7-2 7-6 7-10 7-5 7-5 7-4 7-2 7-3 7-5 7-8 7-3 7 0 7-1 7-1 7-7 7-2 7 2 7-5 7-3 7-7 7 2 7 0 7-8 7 1 7 0 7-5 7-7 7 1 7 4 7-7 7-8 7 0 7 5 7-6 7-6 7-1 7-2 7 2 7 0 7-4 7-3 7 7 7 6 7-7 7 0 7 8 7 1 7 1 7 3 7 5 7 5" stroke="#30ef19"/>
<path d="M2216,1095l7-1 7 9 7 14 7-5 7-19 7-3 7 28 7 4 7-1 7-1 7 7 7-2 7-4 7 36 7 34 7-3 7-3 7 20 7 27 7 21 7-19 7-25 7-4 7 11 7-20 7-32 7-25 7-31 7-15 7-18 7-17 7-21 7-23 7-27 7-28 7-21 7-19 7-9 7-15 7-14 7-14 7-14 7-2 7-7 7-11 7-5 7-9 7-15 7 1 7 5 7 4 7-7 7-13 7 6 7-7 7-16 7 6 7 5 7 2 7-6 7 3 7 7 7-20 7-2 7 9 7 2 7 10 7 0 7-10 7 6 7 1 7-14 7-5 7 19 7 14 7 0 7-13 7-15 7 3 7 10 7 13 7-7 7-8 7 7 7 0 7-10 7 0 7 11 7 15 7-5 7-14 7 0 7 4 7 2 7-6 7-4 7 4 7 5 7 5 7-7 7 3 7 8 7-4 7-13 7-2 7-1 7 2 7 11 7 8 7 3 7-14 7-2 7 6 7 0 7 7 7 8 7 2 7-3 7 0 7 4 7 5 7 14 7 8 7 7 7-7 7 17 7 18 7-43 7 6 7 46 7 3 7-23 7 9 7 16 7 4 7 21 7-31 7 3 7 53 7 14 7-3 7-3 7 3 7 8 7 24 7-3 7-11 7 3 7 2 7-6 7-14 7-14 7-7 7-12 7-18 7-7 7-8 7-12 7-15 7-5 7-5 7-11 7-8 7-13 7-5 7-4 7-4 7-8 7-8 7-2 7 1 7 1 7-9 7-5 7-1 7-4 7-1 7-4 7-5 7-2 7-1 7-3 7-2 7-4 7-6 7-2 7-1 7-2 7 5 7-3 7-7 7-1 7-2 7 1 7-2 7-7 7-6 7 0 7 2 7-6 7-1 7-2 7-3 7 6 7-2 7-5 7 5 7 1 7-1 7 1 7 3 7 9 7 2 7-2 7 1" stroke="#5eee07"/>
<path d="M2216,1050l7-6 7 30 7 21 7 6 7 10 7 5 7 32 7-1 7-32 7-29 7-4 7 55 7 10 7 19 7 24 7 17 7-19 7-22 7 36 7 9 7-20 7-3 7 5 7 6 7-9 7-32 7-38 7-17 7-9 7-34 7-23 7-21 7-25 7-18 7-25 7-17 7-13 7-8 7-8 7-19 7-22 7-13 7-13 7-3 7 3 7-9 7-5 7 0 7 0 7-10 7-4 7-3 7-3 7-7 7-5 7-1 7 3 7 8 7-16 7 3 7 6 7-1 7 14 7-4 7-16 7 9 7-1 7-2 7 11 7-5 7-2 7-15 7 6 7 11 7-17 7 18 7 19 7-17 7-8 7 1 7-10 7 5 7 15 7 15 7-8 7-12 7 0 7-7 7 11 7-10 7-15 7 6 7 14 7 8 7-4 7 0 7 3 7-4 7-8 7 1 7 4 7-5 7-3 7 22 7 4 7-14 7-8 7 3 7 7 7 4 7-3 7 1 7 9 7 4 7-4 7 2 7 17 7-5 7-3 7 5 7-5 7-4 7-2 7 20 7 16 7 12 7-14 7-14 7 7 7 14 7 47 7-15 7-20 7 25 7 8 7 1 7 2 7 35 7 1 7-5 7 26 7-19 7-7 7 27 7 29 7-4 7-22 7-1 7 8 7-3 7-9 7-16 7-21 7-14 7-3 7-7 7-16 7-7 7-7 7-17 7-10 7-4 7-5 7-4 7-3 7-4 7-12 7-9 7-3 7-1 7-1 7-1 7-3 7-6 7-2 7-3 7-3 7 3 7-3 7-3 7-2 7-8 7-4 7-1 7-5 7-4 7 1 7-3 7-4 7 1 7-2 7 0 7 0 7-5 7-5 7-2 7-1 7-5 7-5 7-2 7-1 7 2 7 2 7-2 7 0 7 2 7-4 7 0 7 6 7 0 7-3 7 3 7 5 7 5 7 7" stroke="#94ee09"/>
<path d="M2216,1066l7 5 7-31 7 18 7 7 7 3 7 34 7-23 7-8 7 16 7 42 7 6 7-2 7-24 7-3 7 42 7 21 7 16 7 7 7-12 7-8 7 7 7 6 7 9 7-21 7-11 7-1 7-35 7-27 7-15 7-33 7-19 7-19 7-20 7-21 7-26 7-9 7-9 7-14 7-14 7-21 7-5 7-9 7-9 7 0 7-4 7-18 7-14 7 4 7-2 7-8 7 2 7 0 7-26 7-2 7 8 7-7 7 4 7 4 7-10 7-1 7 4 7 3 7 1 7-2 7-7 7-4 7 11 7 20 7-6 7-20 7 11 7 18 7 1 7-19 7 0 7 9 7-8 7-11 7 2 7 9 7 3 7-11 7-10 7 11 7 17 7 4 7-12 7-1 7-2 7-6 7 4 7-2 7-1 7 9 7 5 7-19 7 6 7 16 7-12 7-2 7 11 7 6 7-7 7-12 7-5 7 6 7 2 7 7 7 6 7-1 7 2 7-6 7-3 7 13 7 1 7-1 7 17 7 2 7 6 7 2 7-10 7 5 7 2 7 5 7 10 7 16 7 5 7-1 7 11 7-3 7-2 7 26 7 29 7-10 7-18 7-1 7 2 7-4 7 13 7 24 7 25 7 16 7 0 7-8 7-4 7 4 7 3 7-8 7-7 7-4 7-8 7-3 7-3 7-15 7-17 7-7 7-6 7-19 7-7 7-1 7-11 7-4 7-7 7-13 7-7 7-2 7-4 7-3 7-4 7-3 7-1 7-4 7-6 7-3 7-3 7 2 7-4 7-12 7-2 7 2 7 2 7-3 7-3 7-3 7-3 7-3 7-6 7 4 7 0 7-5 7 2 7-3 7-4 7-6 7 0 7-3 7-9 7-2 7 1 7 0 7 2 7-3 7-4 7 0 7-5 7 0 7 4 7-1 7 4 7 7 7 0 7 2 7 1 7 3 7 2" stroke="#c8e906"/>
<path d="M2216,1022l7-8 7 30 7 6 7-14 7 30 7 12 7-22 7 8 7-7 7-8 7 45 7 24 7 7 7 1 7 8 7 4 7-8 7 7 7 12 7 31 7-18 7-10 7 5 7-8 7-7 7-31 7-19 7-17 7-8 7-16 7-26 7-14 7-19 7-20 7-24 7-7 7-8 7-19 7-18 7-13 7-8 7-10 7-9 7-13 7-1 7-2 7 0 7-6 7-15 7 0 7-6 7 2 7 11 7-7 7-10 7-9 7-2 7 0 7-4 7 2 7 12 7 5 7-20 7 7 7 14 7-23 7-4 7 15 7 3 7-11 7-7 7 11 7 3 7-7 7-2 7-8 7 10 7 19 7-5 7-21 7-2 7 10 7-11 7 9 7 10 7-3 7 6 7-4 7-10 7 7 7 13 7 4 7-6 7-7 7 0 7 4 7 5 7-12 7-1 7 2 7-3 7 5 7 12 7-7 7-9 7 0 7 12 7 15 7 2 7-3 7-15 7-6 7 8 7 5 7-3 7 5 7 5 7 0 7 21 7 7 7-23 7 3 7 16 7 7 7 8 7-13 7 2 7 28 7 38 7 1 7-7 7 22 7-27 7-25 7 42 7 5 7-23 7 28 7 4 7 17 7 29 7 3 7 4 7-20 7 5 7 20 7-5 7-14 7-10 7-10 7-4 7 4 7-11 7-16 7-8 7-10 7-20 7-5 7-3 7-14 7-5 7-1 7-5 7-9 7-9 7-3 7-3 7-7 7-6 7 3 7-2 7-6 7-5 7-2 7 0 7-3 7 0 7-4 7-5 7-3 7-2 7-1 7-2 7-1 7-6 7-3 7-2 7 0 7-2 7-1 7-1 7-4 7-5 7-4 7 0 7-4 7-4 7-1 7-4 7 0 7 0 7-2 7 0 7-1 7-3 7-1 7 3 7 4 7 0 7-1 7 0 7 3 7 5 7 2 7 4" stroke="#fce100"/>
<path d="M2216,1030l7-18 7-20 7 18 7 21 7 29 7 0 7-10 7 11 7 16 7 10 7 2 7 2 7-16 7 8 7 50 7 25 7 5 7 4 7-21 7-9 7 15 7 4 7 2 7 11 7-9 7-25 7-41 7-16 7-17 7-33 7-10 7-11 7-15 7-17 7-22 7-15 7-17 7-18 7-9 7-8 7-9 7-10 7-3 7-7 7-12 7 1 7-14 7-4 7 10 7-10 7 1 7 0 7-6 7-3 7-10 7-8 7-7 7-3 7 0 7 1 7 10 7-3 7 0 7 11 7-12 7-9 7 8 7 0 7-4 7 14 7 6 7-1 7-1 7-3 7-8 7-8 7 15 7 3 7 3 7 0 7-12 7-1 7 16 7 5 7-16 7-5 7-4 7 11 7 4 7-4 7 2 7-6 7-3 7 6 7 3 7 4 7 9 7-10 7-8 7 13 7 4 7-9 7-13 7-5 7 4 7 15 7 5 7-11 7-1 7 2 7 5 7-6 7-7 7 12 7 17 7-11 7 0 7 8 7-15 7 17 7 16 7-1 7 2 7-2 7-10 7 0 7 24 7-1 7 7 7 22 7-24 7 11 7 40 7-5 7 14 7 34 7-20 7-9 7 26 7 1 7 12 7 13 7-7 7-30 7-1 7 18 7 19 7 3 7-7 7-11 7-13 7-3 7-9 7-6 7-2 7-14 7-9 7-2 7-12 7-10 7-8 7-12 7-5 7-3 7-5 7-5 7 0 7-3 7-5 7 0 7-6 7-5 7-4 7-6 7 3 7 0 7-11 7-5 7-1 7-1 7 3 7 0 7-6 7-7 7 1 7 0 7-4 7 1 7-1 7-9 7-7 7 1 7-1 7-2 7 3 7 1 7-6 7-6 7-5 7-3 7 2 7 3 7-3 7-4 7 3 7 4 7-3 7-6 7 4 7 3 7-1 7 1 7 4 7 1 7 5" stroke="#ffba00"/>
<path d="M2216,1023l7 11 7 31 7 10 7-46 7-12 7 33 7 3 7 25 7 16 7-32 7-8 7 27 7 3 7-30 7 27 7 24 7 22 7 38 7-21 7-19 7 8 7 9 7 5 7-14 7-26 7-9 7 3 7-28 7-30 7-13 7-15 7-25 7-15 7-7 7-7 7-10 7-20 7-15 7-16 7-8 7-16 7-8 7 2 7-12 7-2 7-7 7-13 7 0 7-10 7-6 7 3 7 0 7 6 7-6 7-9 7-3 7-6 7 11 7 11 7-3 7-14 7-7 7 11 7 4 7-9 7-4 7 5 7 10 7-6 7-15 7 4 7-6 7 5 7 10 7-6 7-4 7 6 7 3 7 2 7-5 7-9 7 5 7-6 7 10 7 14 7-21 7 1 7 22 7-12 7-14 7 17 7-2 7-1 7 13 7-5 7-5 7 5 7 0 7-1 7-2 7-6 7-3 7 2 7 12 7 4 7-5 7-15 7-5 7 12 7 1 7 5 7 1 7-2 7 3 7-3 7 8 7 5 7 8 7 5 7-13 7-30 7 5 7 36 7 20 7-5 7 11 7 24 7-17 7 10 7-9 7-23 7 31 7 26 7 16 7 17 7-16 7-19 7 8 7 11 7 17 7 5 7 16 7 9 7-26 7-9 7 21 7 14 7-17 7-18 7 16 7 8 7-18 7-16 7-2 7-5 7-10 7-14 7-9 7 2 7-5 7-9 7-9 7 0 7-3 7-4 7-2 7-4 7-3 7-4 7-5 7-5 7-7 7-1 7 1 7-5 7-1 7 3 7-8 7-8 7-3 7 0 7 2 7-2 7-6 7-1 7 0 7-1 7-1 7-6 7-6 7 2 7 1 7-3 7-6 7-1 7-1 7-1 7 0 7-7 7-7 7 2 7 2 7-5 7-1 7 2 7-2 7-2 7-1 7-1 7 4 7 4 7 1 7 6 7 5 7-1" stroke="#ff9400"/>
<path d="M2216,1024l7-9 7-22 7 19 7 1 7-5 7-6 7 19 7 28 7 4 7-26 7-11 7 49 7 26 7 3 7 2 7-4 7-22 7 33 7 20 7-21 7 22 7 9 7-1 7-4 7-21 7-5 7-20 7-24 7-17 7-20 7-15 7-16 7-14 7-13 7-6 7-17 7-20 7-18 7 0 7-1 7-23 7-4 7-2 7-21 7-12 7 8 7-5 7-13 7-1 7-1 7-2 7 2 7-1 7-12 7-6 7-7 7 2 7 23 7 1 7-15 7-4 7 1 7 7 7-8 7-1 7 5 7-3 7 13 7-11 7 8 7 15 7-19 7-3 7-2 7-2 7 8 7-14 7-2 7 16 7 5 7 4 7-11 7-9 7 5 7 8 7-4 7 6 7 7 7-10 7 4 7-3 7-1 7 6 7-15 7-9 7 3 7 5 7 1 7-4 7-1 7-9 7 9 7 11 7 0 7 20 7 7 7-19 7-10 7 5 7-2 7-8 7 10 7 1 7-10 7 7 7 19 7-4 7-3 7 15 7 0 7 5 7-5 7-8 7 2 7 5 7 24 7 12 7-14 7 7 7-20 7 2 7 48 7-12 7-11 7 21 7 18 7 0 7-7 7 2 7 20 7 9 7-7 7 2 7 45 7 17 7-21 7-6 7-10 7-11 7-7 7 2 7-2 7-17 7-2 7 0 7-16 7-6 7 6 7-6 7-12 7-4 7-10 7-6 7-1 7-5 7-6 7-1 7-3 7-4 7-2 7-1 7-4 7-2 7 0 7-7 7-5 7 1 7-3 7-3 7-2 7-3 7 0 7-4 7-3 7-2 7 0 7 3 7-8 7-4 7 1 7-3 7-2 7-1 7 0 7-2 7-5 7-5 7-5 7 0 7-3 7-2 7 6 7 3 7-8 7-6 7 4 7 1 7 1 7-4 7-1 7 1 7 2 7 11 7 1 7 0" stroke="#ff7900"/>
<path d="M2216,994l7-18 7 4 7 9 7 0 7 33 7-3 7 3 7-6 7-18 7 25 7 12 7 0 7 20 7 2 7 7 7 11 7 17 7 12 7-10 7 14 7 12 7 0 7-9 7 1 7-6 7-31 7-16 7 5 7-13 7-31 7-13 7-16 7-18 7-11 7-10 7-10 7-13 7-14 7-14 7-12 7-6 7-7 7-10 7 1 7 0 7-8 7-7 7-6 7-4 7-1 7-8 7-11 7 7 7-2 7-5 7-10 7-4 7 11 7-3 7-1 7 1 7-10 7-2 7 5 7-6 7 11 7-3 7-11 7 5 7 10 7 1 7-8 7 8 7-12 7-7 7 17 7 2 7-8 7-6 7 3 7-1 7-6 7 17 7 13 7-2 7-4 7-16 7-3 7 16 7 6 7-13 7 1 7 7 7-5 7 11 7-3 7-13 7 2 7 7 7 8 7-2 7-6 7-4 7 1 7-9 7-6 7 14 7 11 7-12 7-1 7 4 7-9 7 12 7 13 7-1 7 6 7 9 7 0 7-10 7 2 7 11 7 4 7 14 7-13 7 13 7 26 7-25 7 12 7 4 7-27 7 22 7 17 7 9 7 1 7-10 7 9 7-10 7 2 7 6 7 4 7 35 7 9 7-14 7 21 7-5 7-12 7 9 7 6 7 0 7-12 7-2 7-4 7 4 7-13 7-11 7 9 7-7 7-11 7-11 7-5 7-5 7-4 7-10 7-8 7-3 7 1 7-1 7-3 7-3 7-6 7 1 7 1 7-3 7-2 7-4 7-3 7-2 7-4 7-6 7 0 7 0 7-5 7-3 7 0 7-4 7-6 7-1 7 0 7-5 7-6 7 3 7 1 7-5 7-1 7-1 7-4 7 0 7-2 7-1 7-1 7-1 7-7 7-8 7 1 7 2 7 0 7-3 7 0 7 1 7 5 7 2 7 2 7 6 7 4 7 0" stroke="#ff5c00"/>
<path d="M2216,966l7 21 7-6 7-37 7 35 7 33 7 0 7-17 7 10 7 39 7-5 7 21 7 9 7-41 7 5 7 13 7 5 7 9 7 11 7 24 7 7 7-4 7-10 7-12 7 9 7 12 7-6 7-20 7-28 7-17 7-5 7-9 7-20 7-19 7-9 7-12 7-21 7-11 7-12 7-16 7-3 7-8 7-7 7 0 7-5 7-5 7-7 7-8 7-5 7-7 7 13 7-1 7-11 7-3 7-9 7-2 7-13 7 9 7 7 7-9 7 12 7-4 7-11 7 7 7 4 7-22 7-2 7 31 7 3 7-9 7-3 7-2 7 4 7-4 7-3 7 12 7 3 7-7 7-11 7-6 7 8 7 4 7-4 7-13 7 5 7 11 7-9 7 9 7 4 7-8 7 5 7-3 7-9 7-3 7 7 7 6 7-15 7 8 7 12 7-11 7 0 7 2 7 0 7-1 7-6 7 6 7 5 7 0 7 4 7 0 7 6 7-3 7-14 7-3 7 4 7 17 7 1 7 1 7 12 7-15 7 9 7 10 7-7 7 11 7 14 7-1 7 0 7-3 7-14 7 30 7 24 7-8 7 13 7 15 7-11 7-7 7 27 7 9 7-23 7 13 7 21 7-29 7-20 7 39 7 30 7-18 7 0 7 5 7-7 7-9 7 11 7 13 7-14 7-23 7-10 7 7 7-8 7-14 7-2 7-1 7-7 7-8 7-4 7-2 7-3 7-1 7-1 7-5 7-4 7-2 7-5 7-5 7-2 7 1 7-1 7-5 7 0 7-2 7-6 7-6 7 2 7 2 7-4 7-4 7-5 7 0 7 5 7-4 7-6 7-3 7-3 7-6 7 0 7 3 7 0 7-4 7-8 7-1 7-3 7-3 7-3 7-2 7 4 7 1 7 0 7 1 7-4 7-6 7-4 7 2 7 6 7 3 7 0 7-1 7 7 7 2" stroke="#ff3e00"/>
<path d="M2216,963l7 28 7 1 7-24 7 21 7 12 7-28 7-25 7 4 7 48 7 44 7-25 7 15 7 30 7 14 7-29 7-31 7 26 7 17 7 16 7 11 7-6 7 7 7-3 7-1 7 10 7-26 7-19 7-8 7-11 7 2 7-20 7-19 7-16 7-12 7 0 7-21 7-22 7-10 7-3 7-13 7-8 7-2 7-10 7-5 7-12 7-3 7-3 7-10 7 7 7 5 7-10 7-7 7-8 7 3 7-4 7-16 7 5 7 12 7-1 7-5 7-3 7-3 7-1 7 2 7-4 7 12 7 15 7-17 7 3 7-2 7-2 7 5 7-2 7 3 7-7 7-2 7 4 7-15 7-3 7 21 7-6 7-12 7-2 7-6 7 14 7 5 7-14 7 7 7 6 7 19 7 5 7-30 7 8 7 14 7-13 7-6 7-8 7 14 7 9 7-15 7 7 7 5 7-17 7-7 7 7 7 21 7 4 7-16 7 2 7 4 7-17 7 2 7 25 7-1 7-1 7 5 7 1 7-4 7-1 7 17 7 6 7-10 7 6 7-3 7-8 7 24 7 9 7-29 7-11 7 26 7 11 7 12 7 33 7-11 7-17 7 4 7 8 7 6 7 9 7 2 7-12 7 10 7 4 7 21 7 16 7-28 7-21 7 11 7 13 7 8 7-7 7-15 7 7 7-3 7-13 7-3 7 3 7-4 7-3 7-7 7-8 7 4 7-7 7-9 7 2 7-5 7-2 7 1 7-7 7 3 7-3 7-7 7 0 7-1 7-3 7-2 7 0 7-4 7-1 7-7 7-2 7 3 7-4 7-4 7-4 7-4 7 1 7 0 7-3 7-4 7-3 7 0 7 4 7-8 7-9 7 2 7-2 7 0 7 0 7-2 7-4 7 0 7 1 7-2 7-5 7 0 7 0 7 3 7 1 7-4 7 4 7 5 7-1 7 1 7 4" stroke="#ff2100"/>
<path d="M2216,966l7-5 7 2 7 34 7 2 7-13 7-7 7 7 7 22 7-15 7-17 7 8 7 9 7 11 7 11 7 1 7 13 7 17 7 10 7-21 7 8 7 32 7 8 7 1 7-4 7 3 7 4 7-24 7-16 7-12 7-23 7-18 7-20 7-9 7-1 7-6 7-11 7-17 7-6 7-10 7-17 7-11 7-7 7-4 7-3 7-2 7 0 7-6 7-19 7-4 7 2 7 2 7-10 7-5 7-1 7-7 7 8 7-5 7-5 7 4 7-2 7 1 7 5 7-3 7 0 7 2 7 2 7 10 7 0 7-6 7-4 7-11 7 11 7 7 7 3 7 8 7-11 7 8 7 9 7-16 7-13 7 2 7 6 7-16 7-4 7 20 7-12 7-9 7 13 7-4 7-3 7 3 7 0 7 10 7-4 7-7 7 11 7 6 7-12 7-2 7 5 7-5 7-1 7 12 7-3 7-13 7-1 7-3 7 3 7 5 7-5 7 7 7 1 7-10 7 7 7 1 7 1 7 19 7 1 7-7 7 7 7 4 7-5 7-1 7 21 7 5 7-11 7 16 7 16 7 0 7 6 7-5 7-17 7-16 7 1 7 14 7 4 7 0 7 22 7 11 7-6 7 13 7 11 7 6 7 0 7 8 7-6 7-10 7 3 7-4 7-5 7 4 7 3 7 2 7 7 7-2 7-19 7-3 7 1 7-14 7 0 7-3 7-9 7 0 7-4 7-2 7 5 7-2 7-4 7 2 7-1 7-10 7-4 7 2 7-2 7-3 7-3 7-1 7 0 7-1 7-3 7-5 7-8 7-4 7-1 7-1 7 2 7 1 7-2 7 0 7-1 7-10 7-3 7-2 7 0 7 2 7-2 7-5 7-5 7-7 7 1 7 3 7-2 7-1 7 1 7-2 7-4 7-2 7 3 7 1 7 2 7-1 7 1 7 4 7 2 7 4" stroke="#ff0500"/>
</g>
</g>
<line x1="221.6" y1="87.93" x2="372.3" y2="87.93" stroke="#333" stroke-width="1"/>
<rect x="221.6" y="47.5" width="150.70000000000002" height="121.30000000000001" fill="none" stroke="#444" stroke-width="1.15"/>
<line x1="221.6" y1="168.8" x2="221.6" y2="171.4" stroke="#444" stroke-width="0.7"/>
<line x1="221.6" y1="47.5" x2="221.6" y2="49.7" stroke="#444" stroke-width="0.7"/>
<text x="221.6" y="178.10000000000002" text-anchor="middle" font-family="'Liberation Sans',Arial,sans-serif" font-size="7" fill="#333">600</text>
<line x1="244.78" y1="168.8" x2="244.78" y2="171.4" stroke="#444" stroke-width="0.7"/>
<line x1="244.78" y1="47.5" x2="244.78" y2="49.7" stroke="#444" stroke-width="0.7"/>
<text x="244.78" y="178.10000000000002" text-anchor="middle" font-family="'Liberation Sans',Arial,sans-serif" font-size="7" fill="#333">650</text>
<line x1="267.97" y1="168.8" x2="267.97" y2="171.4" stroke="#444" stroke-width="0.7"/>
<line x1="267.97" y1="47.5" x2="267.97" y2="49.7" stroke="#444" stroke-width="0.7"/>
<text x="267.97" y="178.10000000000002" text-anchor="middle" font-family="'Liberation Sans',Arial,sans-serif" font-size="7" fill="#333">700</text>
<line x1="291.15" y1="168.8" x2="291.15" y2="171.4" stroke="#444" stroke-width="0.7"/>
<line x1="291.15" y1="47.5" x2="291.15" y2="49.7" stroke="#444" stroke-width="0.7"/>
<text x="291.15" y="178.10000000000002" text-anchor="middle" font-family="'Liberation Sans',Arial,sans-serif" font-size="7" fill="#333">750</text>
<line x1="314.34" y1="168.8" x2="314.34" y2="171.4" stroke="#444" stroke-width="0.7"/>
<line x1="314.34" y1="47.5" x2="314.34" y2="49.7" stroke="#444" stroke-width="0.7"/>
<text x="314.34" y="178.10000000000002" text-anchor="middle" font-family="'Liberation Sans',Arial,sans-serif" font-size="7" fill="#333">800</text>
<line x1="337.52" y1="168.8" x2="337.52" y2="171.4" stroke="#444" stroke-width="0.7"/>
<line x1="337.52" y1="47.5" x2="337.52" y2="49.7" stroke="#444" stroke-width="0.7"/>
<text x="337.52" y="178.10000000000002" text-anchor="middle" font-family="'Liberation Sans',Arial,sans-serif" font-size="7" fill="#333">850</text>
<line x1="360.71" y1="168.8" x2="360.71" y2="171.4" stroke="#444" stroke-width="0.7"/>
<line x1="360.71" y1="47.5" x2="360.71" y2="49.7" stroke="#444" stroke-width="0.7"/>
<text x="360.71" y="178.10000000000002" text-anchor="middle" font-family="'Liberation Sans',Arial,sans-serif" font-size="7" fill="#333">900</text>
<line x1="233.19" y1="168.8" x2="233.19" y2="170.4" stroke="#444" stroke-width="0.7"/>
<line x1="233.19" y1="47.5" x2="233.19" y2="48.9" stroke="#444" stroke-width="0.7"/>
<line x1="256.38" y1="168.8" x2="256.38" y2="170.4" stroke="#444" stroke-width="0.7"/>
<line x1="256.38" y1="47.5" x2="256.38" y2="48.9" stroke="#444" stroke-width="0.7"/>
<line x1="279.56" y1="168.8" x2="279.56" y2="170.4" stroke="#444" stroke-width="0.7"/>
<line x1="279.56" y1="47.5" x2="279.56" y2="48.9" stroke="#444" stroke-width="0.7"/>
<line x1="302.75" y1="168.8" x2="302.75" y2="170.4" stroke="#444" stroke-width="0.7"/>
<line x1="302.75" y1="47.5" x2="302.75" y2="48.9" stroke="#444" stroke-width="0.7"/>
<line x1="325.93" y1="168.8" x2="325.93" y2="170.4" stroke="#444" stroke-width="0.7"/>
<line x1="325.93" y1="47.5" x2="325.93" y2="48.9" stroke="#444" stroke-width="0.7"/>
<line x1="349.12" y1="168.8" x2="349.12" y2="170.4" stroke="#444" stroke-width="0.7"/>
<line x1="349.12" y1="47.5" x2="349.12" y2="48.9" stroke="#444" stroke-width="0.7"/>
<line x1="221.6" y1="47.5" x2="219.0" y2="47.5" stroke="#444" stroke-width="0.7"/>
<line x1="372.3" y1="47.5" x2="370.1" y2="47.5" stroke="#444" stroke-width="0.7"/>
<text x="217.7" y="50" text-anchor="end" font-family="'Liberation Sans',Arial,sans-serif" font-size="7" fill="#333">1.5</text>
<line x1="221.6" y1="60.98" x2="219.0" y2="60.98" stroke="#444" stroke-width="0.7"/>
<line x1="372.3" y1="60.98" x2="370.1" y2="60.98" stroke="#444" stroke-width="0.7"/>
<text x="217.7" y="63.48" text-anchor="end" font-family="'Liberation Sans',Arial,sans-serif" font-size="7" fill="#333">1.0</text>
<line x1="221.6" y1="74.46" x2="219.0" y2="74.46" stroke="#444" stroke-width="0.7"/>
<line x1="372.3" y1="74.46" x2="370.1" y2="74.46" stroke="#444" stroke-width="0.7"/>
<text x="217.7" y="76.96" text-anchor="end" font-family="'Liberation Sans',Arial,sans-serif" font-size="7" fill="#333">0.5</text>
<line x1="221.6" y1="87.93" x2="219.0" y2="87.93" stroke="#444" stroke-width="0.7"/>
<line x1="372.3" y1="87.93" x2="370.1" y2="87.93" stroke="#444" stroke-width="0.7"/>
<text x="217.7" y="90.43" text-anchor="end" font-family="'Liberation Sans',Arial,sans-serif" font-size="7" fill="#333">0.0</text>
<line x1="221.6" y1="101.41" x2="219.0" y2="101.41" stroke="#444" stroke-width="0.7"/>
<line x1="372.3" y1="101.41" x2="370.1" y2="101.41" stroke="#444" stroke-width="0.7"/>
<text x="217.7" y="103.91" text-anchor="end" font-family="'Liberation Sans',Arial,sans-serif" font-size="7" fill="#333">−0.5</text>
<line x1="221.6" y1="114.89" x2="219.0" y2="114.89" stroke="#444" stroke-width="0.7"/>
<line x1="372.3" y1="114.89" x2="370.1" y2="114.89" stroke="#444" stroke-width="0.7"/>
<text x="217.7" y="117.39" text-anchor="end" font-family="'Liberation Sans',Arial,sans-serif" font-size="7" fill="#333">−1.0</text>
<line x1="221.6" y1="128.37" x2="219.0" y2="128.37" stroke="#444" stroke-width="0.7"/>
<line x1="372.3" y1="128.37" x2="370.1" y2="128.37" stroke="#444" stroke-width="0.7"/>
<text x="217.7" y="130.87" text-anchor="end" font-family="'Liberation Sans',Arial,sans-serif" font-size="7" fill="#333">−1.5</text>
<line x1="221.6" y1="141.84" x2="219.0" y2="141.84" stroke="#444" stroke-width="0.7"/>
<line x1="372.3" y1="141.84" x2="370.1" y2="141.84" stroke="#444" stroke-width="0.7"/>
<text x="217.7" y="144.34" text-anchor="end" font-family="'Liberation Sans',Arial,sans-serif" font-size="7" fill="#333">−2.0</text>
<line x1="221.6" y1="155.32" x2="219.0" y2="155.32" stroke="#444" stroke-width="0.7"/>
<line x1="372.3" y1="155.32" x2="370.1" y2="155.32" stroke="#444" stroke-width="0.7"/>
<text x="217.7" y="157.82" text-anchor="end" font-family="'Liberation Sans',Arial,sans-serif" font-size="7" fill="#333">−2.5</text>
<line x1="221.6" y1="168.8" x2="219.0" y2="168.8" stroke="#444" stroke-width="0.7"/>
<line x1="372.3" y1="168.8" x2="370.1" y2="168.8" stroke="#444" stroke-width="0.7"/>
<text x="217.7" y="171.3" text-anchor="end" font-family="'Liberation Sans',Arial,sans-serif" font-size="7" fill="#333">−3.0</text>
<line x1="221.6" y1="162.06" x2="220.0" y2="162.06" stroke="#444" stroke-width="0.7"/>
<line x1="372.3" y1="162.06" x2="370.90000000000003" y2="162.06" stroke="#444" stroke-width="0.7"/>
<line x1="221.6" y1="148.58" x2="220.0" y2="148.58" stroke="#444" stroke-width="0.7"/>
<line x1="372.3" y1="148.58" x2="370.90000000000003" y2="148.58" stroke="#444" stroke-width="0.7"/>
<line x1="221.6" y1="135.11" x2="220.0" y2="135.11" stroke="#444" stroke-width="0.7"/>
<line x1="372.3" y1="135.11" x2="370.90000000000003" y2="135.11" stroke="#444" stroke-width="0.7"/>
<line x1="221.6" y1="121.63" x2="220.0" y2="121.63" stroke="#444" stroke-width="0.7"/>
<line x1="372.3" y1="121.63" x2="370.90000000000003" y2="121.63" stroke="#444" stroke-width="0.7"/>
<line x1="221.6" y1="108.15" x2="220.0" y2="108.15" stroke="#444" stroke-width="0.7"/>
<line x1="372.3" y1="108.15" x2="370.90000000000003" y2="108.15" stroke="#444" stroke-width="0.7"/>
<line x1="221.6" y1="94.67" x2="220.0" y2="94.67" stroke="#444" stroke-width="0.7"/>
<line x1="372.3" y1="94.67" x2="370.90000000000003" y2="94.67" stroke="#444" stroke-width="0.7"/>
<line x1="221.6" y1="81.19" x2="220.0" y2="81.19" stroke="#444" stroke-width="0.7"/>
<line x1="372.3" y1="81.19" x2="370.90000000000003" y2="81.19" stroke="#444" stroke-width="0.7"/>
<line x1="221.6" y1="67.72" x2="220.0" y2="67.72" stroke="#444" stroke-width="0.7"/>
<line x1="372.3" y1="67.72" x2="370.90000000000003" y2="67.72" stroke="#444" stroke-width="0.7"/>
<line x1="221.6" y1="54.24" x2="220.0" y2="54.24" stroke="#444" stroke-width="0.7"/>
<line x1="372.3" y1="54.24" x2="370.90000000000003" y2="54.24" stroke="#444" stroke-width="0.7"/>
<text x="296.95" y="192.4" text-anchor="middle" font-family="'Liberation Sans',Arial,sans-serif" font-size="10.3" fill="#2a2a2a">Wavelength, nm</text>
<text transform="translate(202.1,108.15) rotate(-90)" text-anchor="middle" font-family="'Liberation Sans',Arial,sans-serif" font-size="9.6" fill="#2a2a2a">ΔmOD</text>
<clipPath id="clip2"><rect x="393.4" y="47.5" width="150.30000000000007" height="121.30000000000001"/></clipPath>
<rect x="393.4" y="47.5" width="150.30000000000007" height="121.30000000000001" fill="#fff"/>
<line x1="404.96" y1="47.5" x2="404.96" y2="168.8" stroke="#e4e4e4" stroke-width="0.6"/>
<line x1="416.52" y1="47.5" x2="416.52" y2="168.8" stroke="#c6c6c6" stroke-width="0.6"/>
<line x1="428.08" y1="47.5" x2="428.08" y2="168.8" stroke="#e4e4e4" stroke-width="0.6"/>
<line x1="439.65" y1="47.5" x2="439.65" y2="168.8" stroke="#c6c6c6" stroke-width="0.6"/>
<line x1="451.21" y1="47.5" x2="451.21" y2="168.8" stroke="#e4e4e4" stroke-width="0.6"/>
<line x1="462.77" y1="47.5" x2="462.77" y2="168.8" stroke="#c6c6c6" stroke-width="0.6"/>
<line x1="474.33" y1="47.5" x2="474.33" y2="168.8" stroke="#e4e4e4" stroke-width="0.6"/>
<line x1="485.89" y1="47.5" x2="485.89" y2="168.8" stroke="#c6c6c6" stroke-width="0.6"/>
<line x1="497.45" y1="47.5" x2="497.45" y2="168.8" stroke="#e4e4e4" stroke-width="0.6"/>
<line x1="509.02" y1="47.5" x2="509.02" y2="168.8" stroke="#c6c6c6" stroke-width="0.6"/>
<line x1="520.58" y1="47.5" x2="520.58" y2="168.8" stroke="#e4e4e4" stroke-width="0.6"/>
<line x1="532.14" y1="47.5" x2="532.14" y2="168.8" stroke="#c6c6c6" stroke-width="0.6"/>
<line x1="393.4" y1="168.31" x2="543.7" y2="168.31" stroke="#f0f0f0" stroke-width="0.45"/>
<line x1="393.4" y1="162.24" x2="543.7" y2="162.24" stroke="#c6c6c6" stroke-width="0.6"/>
<line x1="393.4" y1="156.16" x2="543.7" y2="156.16" stroke="#f0f0f0" stroke-width="0.45"/>
<line x1="393.4" y1="150.08" x2="543.7" y2="150.08" stroke="#c6c6c6" stroke-width="0.6"/>
<line x1="393.4" y1="144.01" x2="543.7" y2="144.01" stroke="#f0f0f0" stroke-width="0.45"/>
<line x1="393.4" y1="137.93" x2="543.7" y2="137.93" stroke="#c6c6c6" stroke-width="0.6"/>
<line x1="393.4" y1="131.85" x2="543.7" y2="131.85" stroke="#f0f0f0" stroke-width="0.45"/>
<line x1="393.4" y1="125.77" x2="543.7" y2="125.77" stroke="#c6c6c6" stroke-width="0.6"/>
<line x1="393.4" y1="119.7" x2="543.7" y2="119.7" stroke="#f0f0f0" stroke-width="0.45"/>
<line x1="393.4" y1="113.62" x2="543.7" y2="113.62" stroke="#c6c6c6" stroke-width="0.6"/>
<line x1="393.4" y1="107.54" x2="543.7" y2="107.54" stroke="#f0f0f0" stroke-width="0.45"/>
<line x1="393.4" y1="101.47" x2="543.7" y2="101.47" stroke="#c6c6c6" stroke-width="0.6"/>
<line x1="393.4" y1="95.39" x2="543.7" y2="95.39" stroke="#f0f0f0" stroke-width="0.45"/>
<line x1="393.4" y1="89.31" x2="543.7" y2="89.31" stroke="#c6c6c6" stroke-width="0.6"/>
<line x1="393.4" y1="83.23" x2="543.7" y2="83.23" stroke="#f0f0f0" stroke-width="0.45"/>
<line x1="393.4" y1="77.16" x2="543.7" y2="77.16" stroke="#c6c6c6" stroke-width="0.6"/>
<line x1="393.4" y1="71.08" x2="543.7" y2="71.08" stroke="#f0f0f0" stroke-width="0.45"/>
<line x1="393.4" y1="65" x2="543.7" y2="65" stroke="#c6c6c6" stroke-width="0.6"/>
<line x1="393.4" y1="58.93" x2="543.7" y2="58.93" stroke="#f0f0f0" stroke-width="0.45"/>
<line x1="393.4" y1="52.85" x2="543.7" y2="52.85" stroke="#c6c6c6" stroke-width="0.6"/>
<g clip-path="url(#clip2)"><g transform="scale(0.1)" fill="none" stroke-linejoin="round" stroke-width="10">
<path d="M3934,1225l7 3 7 5 7 6 7 9 7 12 7 11 7 15 7 13 7 18 7 19 7 22 7 21 7 19 7 23 7 23 7 26 7 19 7 21 7 11 7 14 7 8 7 8 7 0 7-13 7-20 7-26 7-27 7-39 7-45 7-46 7-50 7-43 7-41 7-40 7-42 7-42 7-36 7-34 7-37 7-32 7-25 7-12 7-11 7-13 7-9 7-8 7 3 7-4 7-4 7-12 7-3 7 4 7 3 7 1 7 2 7 4 7-2 7-4 7-1 7 7 7-1 7 8 7 0 7 14 7-4 7 1 7-4 7 7 7 5 7 6 7 10 7-1 7-2 7-5 7 5 7 5 7-9 7-2 7 2 7 13 7 12 7 5 7-3 7-7 7-4 7-5 7-5 7-1 7 0 7 2 7 2 7 1 7 16 7-11 7 15 7-22 7 11 7-21 7 7 7 8 7 0 7-1 7-10 7 9 7-7 7-7 7-1 7 24 7 13 7 2 7-29 7-5 7 4 7 8 7 7 7 2 7 12 7 14 7-5 7 1 7-4 7 22 7 7 7-5 7 4 7 16 7 13 7 13 7 12 7 10 7-1 7-7 7 5 7-1 7 5 7 5 7 8 7 1 7-1 7 0 7 7 7 23 7 13 7 10 7-6 7 8 7 1 7 5 7 2 7 8 7 7 7 5 7 4 7 4 7 5 7 4 7 0 7-1 7-4 7 0 7-8 7-2 7-7 7-10 7-16 7-18 7-14 7-16 7-23 7-19 7-20 7-14 7-17 7-13 7-14 7-15 7-16 7-14 7-18 7-15 7-20 7-18 7-22 7-19 7-19 7-16 7-20 7-17 7-22 7-15 7-19 7-15 7-17 7-13 7-14 7-10 7-12 7-12 7-11 7-14 7-8 7-10 7-4 7-7 7-5 7-5 7-4 7-6 7-6 7-6 7-3 7-2 7 0 7-3 7-2" stroke="#a10cff"/>
<path d="M3934,1218l7 3 7 6 7 7 7 9 7 12 7 15 7 14 7 16 7 14 7 20 7 21 7 23 7 19 7 21 7 21 7 23 7 23 7 20 7 17 7 15 7 10 7 12 7-1 7-11 7-27 7-25 7-29 7-37 7-45 7-44 7-46 7-43 7-47 7-43 7-48 7-40 7-37 7-31 7-32 7-32 7-28 7-17 7-13 7-5 7-9 7-8 7-4 7-6 7-2 7-3 7 3 7 2 7-6 7-1 7-1 7 2 7 1 7 1 7 5 7 0 7 5 7-3 7 6 7 3 7 6 7 1 7 7 7 5 7 10 7-1 7 1 7 0 7-3 7 7 7-12 7 4 7 4 7 17 7 6 7-6 7-5 7-10 7 0 7 0 7 4 7 2 7-2 7-3 7-7 7 6 7 19 7 12 7-6 7 6 7-2 7-1 7-16 7 6 7-11 7-17 7-8 7 4 7 1 7 7 7-12 7 20 7-8 7 34 7-8 7 11 7-8 7-7 7-11 7 4 7-1 7 12 7-7 7 17 7-6 7 11 7 2 7 8 7 12 7 12 7 3 7 3 7 11 7 13 7 9 7-1 7 0 7 0 7 8 7 6 7 11 7 15 7 5 7 5 7-3 7 10 7-3 7 8 7 1 7 11 7 6 7 12 7 3 7 0 7-1 7 1 7 6 7 7 7 9 7 5 7 6 7 4 7-2 7 5 7-2 7 3 7-4 7 2 7-4 7-8 7-12 7-13 7-14 7-16 7-19 7-16 7-19 7-15 7-18 7-15 7-16 7-13 7-15 7-14 7-19 7-20 7-21 7-18 7-18 7-15 7-15 7-16 7-19 7-19 7-17 7-19 7-18 7-16 7-18 7-16 7-15 7-10 7-11 7-14 7-8 7-9 7-7 7-8 7-11 7-4 7-6 7-4 7-8 7-7 7-5 7-6 7-2 7-4 7-2 7-3 7-2" stroke="#8b0aff"/>
<path d="M3934,1217l7 5 7 7 7 7 7 11 7 8 7 13 7 7 7 14 7 13 7 23 7 24 7 21 7 21 7 20 7 27 7 24 7 26 7 20 7 22 7 17 7 13 7 7 7 0 7-13 7-22 7-30 7-27 7-40 7-44 7-50 7-45 7-45 7-45 7-46 7-43 7-42 7-39 7-32 7-35 7-31 7-26 7-12 7-12 7-9 7-10 7-7 7-2 7-9 7-1 7-9 7 1 7 0 7 2 7 0 7-3 7-1 7 5 7 2 7 3 7 1 7 6 7 7 7 0 7-2 7 2 7 10 7 2 7 6 7-2 7 10 7 4 7 3 7-1 7-11 7-8 7 0 7 3 7 7 7 2 7 11 7-2 7-1 7-4 7 12 7-1 7 4 7-7 7-9 7-2 7 15 7 8 7 9 7-5 7-9 7-29 7-8 7 17 7 13 7 21 7-3 7-6 7-25 7 6 7 26 7-1 7-11 7-9 7 4 7 6 7 12 7-2 7 2 7-6 7 19 7-5 7 1 7-13 7 7 7-11 7 11 7 7 7 27 7 11 7-3 7-25 7 8 7 18 7 23 7-5 7 4 7 6 7 16 7 3 7 0 7-10 7 5 7 10 7 11 7 0 7 4 7 11 7 9 7 5 7 7 7 12 7 8 7 2 7 0 7 6 7 8 7 9 7 8 7 6 7 5 7 3 7 0 7 5 7 1 7 5 7-3 7 1 7 0 7-2 7-7 7-10 7-13 7-13 7-18 7-16 7-17 7-15 7-13 7-17 7-16 7-19 7-15 7-15 7-14 7-18 7-21 7-20 7-18 7-19 7-18 7-16 7-14 7-20 7-18 7-18 7-13 7-15 7-18 7-17 7-14 7-12 7-11 7-12 7-12 7-11 7-9 7-9 7-8 7-8 7-7 7-6 7-5 7-4 7-5 7-8 7-7 7-3 7-4 7-3 7-5 7 0" stroke="#7508ff"/>
<path d="M3934,1211l7 1 7 7 7 7 7 12 7 9 7 11 7 11 7 16 7 20 7 20 7 22 7 20 7 22 7 20 7 26 7 24 7 25 7 24 7 19 7 20 7 17 7 14 7-2 7-13 7-25 7-27 7-32 7-39 7-45 7-50 7-50 7-49 7-44 7-44 7-40 7-44 7-36 7-38 7-34 7-32 7-24 7-10 7-12 7-7 7-11 7-7 7-6 7-6 7-5 7-3 7 0 7 1 7-1 7-5 7 0 7 0 7 7 7-1 7 2 7 2 7 8 7 5 7-1 7-2 7 0 7 8 7 8 7 4 7 1 7-1 7 5 7 3 7 1 7-1 7 3 7 9 7 4 7 3 7-5 7-2 7 1 7-6 7-4 7-3 7 12 7 11 7-4 7-8 7 1 7 6 7-5 7-7 7-5 7 9 7 4 7 6 7-6 7 14 7 0 7 10 7-26 7-14 7-24 7 4 7 16 7 5 7 8 7-8 7 15 7 4 7 3 7-19 7-3 7-11 7-5 7 12 7 20 7 29 7-6 7 7 7-1 7-2 7-3 7 5 7 13 7 13 7 7 7 4 7 7 7 3 7 15 7 2 7-1 7-2 7 16 7 7 7 7 7 12 7 11 7 2 7-5 7 2 7 7 7 8 7 17 7 11 7 6 7-2 7 6 7 7 7 6 7 8 7 9 7 7 7 1 7 2 7 8 7 4 7 5 7-2 7 3 7-1 7-1 7-5 7-10 7-11 7-13 7-15 7-13 7-18 7-16 7-17 7-16 7-16 7-18 7-17 7-19 7-17 7-18 7-14 7-20 7-20 7-22 7-18 7-15 7-14 7-16 7-16 7-16 7-18 7-16 7-20 7-11 7-15 7-9 7-14 7-10 7-13 7-10 7-11 7-10 7-10 7-7 7-7 7-4 7-7 7-7 7-3 7-4 7 1 7-8 7-5 7-11 7-5 7-3" stroke="#5a07ff"/>
<path d="M3934,1206l7 3 7 6 7 6 7 8 7 10 7 13 7 15 7 16 7 19 7 17 7 21 7 23 7 23 7 22 7 25 7 26 7 26 7 27 7 23 7 21 7 18 7 9 7 3 7-13 7-22 7-30 7-34 7-41 7-47 7-56 7-48 7-46 7-41 7-50 7-44 7-38 7-38 7-34 7-37 7-27 7-24 7-15 7-16 7-14 7-8 7-6 7-3 7-5 7-4 7-5 7-2 7-1 7 0 7-1 7 2 7-2 7 3 7-2 7 6 7-2 7 9 7-2 7 6 7 0 7 8 7-4 7-2 7 7 7 11 7 1 7 3 7 1 7 7 7-12 7 2 7-6 7 13 7 4 7 2 7-5 7 6 7 2 7 1 7-5 7 2 7 2 7 0 7 4 7 6 7-1 7 5 7-4 7 9 7-10 7 1 7-3 7-6 7-14 7-18 7 16 7 5 7 8 7-10 7 14 7 1 7-11 7-9 7 4 7 16 7 8 7-7 7-17 7 7 7 6 7 18 7-1 7 0 7-4 7 7 7 13 7 0 7-5 7-3 7 17 7 11 7 7 7 7 7 11 7 8 7-1 7 5 7 0 7 7 7 4 7 10 7 9 7-1 7 4 7 11 7 13 7 5 7 3 7 1 7 10 7 3 7 11 7 5 7 12 7 1 7 5 7 8 7 8 7 10 7 4 7 7 7 8 7 7 7 4 7 1 7 4 7 8 7 1 7-3 7-7 7-2 7-6 7-11 7-14 7-20 7-17 7-20 7-14 7-16 7-17 7-20 7-19 7-18 7-17 7-19 7-21 7-18 7-17 7-16 7-20 7-17 7-17 7-14 7-17 7-17 7-15 7-15 7-15 7-17 7-15 7-12 7-10 7-10 7-11 7-9 7-11 7-5 7-10 7-6 7-8 7-8 7-6 7-7 7-4 7-6 7-8 7-4 7-6 7-1 7-3 7-3" stroke="#4511ff"/>
<path d="M3934,1209l7 2 7 3 7 3 7 8 7 10 7 14 7 8 7 13 7 17 7 23 7 25 7 23 7 23 7 23 7 28 7 29 7 26 7 24 7 25 7 24 7 18 7 10 7 1 7-7 7-24 7-29 7-36 7-41 7-53 7-52 7-50 7-44 7-48 7-49 7-42 7-39 7-35 7-38 7-37 7-32 7-22 7-14 7-11 7-15 7-10 7-7 7-2 7-5 7-7 7-10 7-1 7-3 7 6 7 0 7 5 7 0 7 2 7 2 7 1 7 1 7 0 7 2 7 1 7 0 7 2 7 2 7 7 7 4 7 1 7 6 7-2 7-1 7-6 7 7 7 13 7 8 7-1 7-9 7 0 7 3 7-2 7 3 7-6 7 3 7 4 7 4 7 8 7-2 7 12 7 7 7-8 7-9 7-11 7 9 7 0 7 4 7 3 7 9 7-5 7-11 7-6 7 4 7-4 7-20 7 5 7 0 7-2 7-7 7-5 7 34 7-9 7 11 7-3 7 6 7-6 7-18 7 0 7 10 7 15 7 13 7 5 7-2 7 7 7 6 7 4 7 3 7-4 7 1 7 14 7 20 7 21 7 6 7 0 7 4 7 5 7 9 7-1 7 4 7 7 7 6 7 5 7 4 7 8 7 12 7 8 7 11 7 1 7 6 7 7 7 6 7 12 7 2 7 10 7 7 7 12 7 8 7 5 7 6 7 5 7 9 7 4 7 6 7 2 7-3 7-4 7-8 7-9 7-16 7-22 7-17 7-21 7-19 7-21 7-19 7-18 7-16 7-17 7-19 7-19 7-17 7-16 7-19 7-19 7-18 7-15 7-17 7-18 7-16 7-16 7-14 7-13 7-14 7-17 7-16 7-8 7-11 7-10 7-15 7-14 7-7 7-7 7-5 7-10 7-6 7-10 7-6 7-9 7-1 7-4 7-6 7-6 7-5 7-4 7-7 7-3" stroke="#382dff"/>
<path d="M3934,1204l7 1 7 4 7 5 7 7 7 10 7 9 7 16 7 13 7 20 7 17 7 23 7 21 7 23 7 25 7 29 7 31 7 27 7 29 7 25 7 25 7 20 7 13 7 4 7-14 7-23 7-36 7-34 7-42 7-46 7-51 7-53 7-47 7-49 7-46 7-46 7-45 7-38 7-34 7-32 7-28 7-27 7-13 7-14 7-13 7-10 7-7 7-3 7-5 7-8 7-3 7-2 7 0 7 0 7-2 7-1 7-2 7 1 7 5 7 4 7 2 7 1 7-3 7-2 7 3 7 8 7 3 7 7 7 2 7 6 7 1 7 4 7 0 7 3 7 2 7 5 7-5 7 4 7-6 7 3 7-4 7 8 7 2 7 5 7-7 7-4 7-4 7 0 7 5 7-4 7 6 7 1 7-1 7 9 7-9 7 10 7-12 7-5 7-9 7 6 7 9 7 6 7 3 7 7 7-3 7-12 7 4 7 0 7 0 7-12 7 7 7-3 7 9 7-9 7-3 7 7 7 4 7 10 7-11 7 8 7 7 7 14 7 0 7 1 7 2 7 13 7 12 7 3 7 3 7 4 7 6 7 12 7 17 7 3 7-5 7 1 7 12 7 10 7-2 7 3 7 4 7 11 7 9 7 10 7 9 7 5 7 7 7 4 7 11 7 6 7 12 7 6 7 16 7 8 7 8 7 4 7 6 7 13 7 5 7 7 7 5 7 9 7 7 7 0 7-1 7-2 7-5 7-12 7-17 7-16 7-17 7-18 7-21 7-16 7-19 7-20 7-22 7-20 7-20 7-19 7-18 7-16 7-18 7-17 7-16 7-15 7-17 7-18 7-20 7-14 7-15 7-14 7-15 7-11 7-14 7-9 7-13 7-13 7-13 7-13 7-6 7-10 7-6 7-9 7-5 7-6 7-6 7-6 7-6 7-6 7-8 7-5 7-3 7-5 7-5 7-5" stroke="#2549ff"/>
<path d="M3934,1203l7-3 7 3 7 7 7 10 7 9 7 8 7 15 7 13 7 19 7 19 7 26 7 22 7 23 7 22 7 29 7 31 7 31 7 28 7 24 7 28 7 22 7 14 7 2 7-10 7-21 7-32 7-38 7-47 7-49 7-50 7-52 7-52 7-51 7-47 7-44 7-41 7-35 7-36 7-36 7-34 7-24 7-16 7-13 7-11 7-9 7-8 7-4 7-5 7-5 7-5 7 0 7-2 7 2 7-8 7-1 7-5 7 5 7 5 7 3 7 1 7 1 7 1 7 0 7-1 7 5 7 10 7 4 7 2 7-4 7-3 7-4 7 2 7 2 7 1 7 2 7 4 7 4 7 1 7 4 7 8 7 1 7 1 7-5 7 2 7-10 7-2 7 4 7 2 7 8 7-13 7 2 7-2 7 4 7 6 7-3 7 2 7-3 7 0 7 8 7-5 7 10 7-11 7 0 7-13 7 7 7-17 7 5 7-4 7 23 7-10 7 4 7-10 7 15 7-4 7 9 7-9 7 5 7 5 7 5 7 8 7 5 7 3 7 9 7-2 7 12 7 2 7 10 7 2 7 6 7 8 7 6 7 1 7 6 7 13 7 13 7 8 7 3 7 2 7 5 7 6 7 10 7 10 7 13 7 2 7 13 7 6 7 11 7 3 7 3 7 7 7 7 7 16 7 11 7 12 7 8 7 10 7 10 7 9 7 7 7 7 7 10 7 13 7 4 7-2 7-6 7-5 7-10 7-13 7-18 7-16 7-19 7-18 7-21 7-22 7-22 7-20 7-21 7-17 7-22 7-18 7-19 7-17 7-15 7-17 7-16 7-20 7-17 7-15 7-14 7-13 7-16 7-13 7-14 7-12 7-11 7-10 7-11 7-11 7-10 7-11 7-8 7-9 7-10 7-9 7-6 7-6 7-7 7-8 7-7 7-5 7-4 7-3 7-5 7-7 7-4" stroke="#0f66ff"/>
<path d="M3934,1201l7-2 7 3 7 1 7 7 7 9 7 13 7 11 7 16 7 19 7 21 7 22 7 24 7 24 7 27 7 28 7 29 7 32 7 28 7 31 7 25 7 24 7 13 7 3 7-8 7-22 7-31 7-41 7-46 7-52 7-54 7-56 7-49 7-46 7-44 7-46 7-46 7-39 7-34 7-32 7-31 7-26 7-16 7-10 7-11 7-13 7-12 7-4 7-4 7-2 7-11 7-4 7-4 7 0 7 1 7-4 7 2 7 1 7 0 7 4 7-3 7 2 7 1 7 8 7-1 7-4 7 1 7 2 7 6 7-1 7 7 7 3 7-3 7 1 7 6 7-1 7-1 7-2 7 10 7 8 7-3 7-2 7-4 7 4 7 5 7-2 7-2 7-14 7 8 7-5 7 11 7-1 7-3 7 0 7 0 7 9 7-5 7 2 7-10 7 2 7-6 7-1 7-7 7-5 7 5 7-1 7-7 7 6 7 11 7 10 7-4 7 8 7-7 7-2 7-9 7-1 7 4 7 3 7 8 7 1 7 4 7 1 7 3 7-1 7 13 7 6 7 19 7 5 7 11 7-4 7 4 7 2 7 6 7 4 7 7 7 17 7 17 7 11 7 6 7 6 7 9 7 12 7 3 7 10 7 6 7 11 7 10 7 4 7 8 7 6 7 13 7 12 7 14 7 5 7 10 7 9 7 16 7 10 7 8 7 11 7 13 7 15 7 6 7 4 7-5 7-2 7-5 7-6 7-15 7-16 7-20 7-19 7-22 7-19 7-23 7-26 7-21 7-20 7-19 7-19 7-18 7-15 7-19 7-18 7-18 7-15 7-13 7-14 7-15 7-18 7-15 7-14 7-14 7-14 7-12 7-10 7-11 7-12 7-11 7-10 7-9 7-13 7-7 7-9 7-7 7-7 7-7 7-7 7-7 7-8 7-3 7-7 7-2 7-8 7-6 7-4" stroke="#0985ff"/>
<path d="M3934,1195l7-3 7-1 7 2 7 7 7 15 7 15 7 14 7 12 7 18 7 21 7 25 7 23 7 24 7 28 7 28 7 31 7 27 7 31 7 31 7 29 7 24 7 12 7 3 7-7 7-19 7-35 7-41 7-48 7-45 7-52 7-52 7-56 7-49 7-49 7-44 7-46 7-42 7-34 7-30 7-27 7-25 7-19 7-20 7-18 7-10 7-4 7-5 7-8 7-4 7-2 7-6 7-6 7-8 7 2 7-3 7 3 7 0 7 0 7-3 7 3 7 2 7 5 7 3 7 2 7-2 7-4 7 6 7 4 7 2 7 0 7 11 7 1 7-3 7-8 7 10 7 9 7 0 7-8 7-6 7 6 7 3 7 5 7 1 7 6 7-3 7 0 7-8 7-2 7 2 7-5 7 9 7-7 7 4 7-13 7 14 7 0 7 0 7-20 7 17 7 11 7 8 7-11 7-13 7 2 7-11 7 3 7 3 7 12 7 6 7-10 7-12 7-2 7-5 7 15 7 16 7 7 7-10 7-13 7 6 7 3 7-8 7 1 7 11 7 19 7-4 7 4 7 2 7 11 7 4 7 14 7 9 7 8 7 3 7 8 7 13 7 11 7 14 7 5 7 11 7 6 7 14 7 8 7 11 7 6 7 9 7 8 7 10 7 14 7 7 7 11 7 6 7 16 7 8 7 14 7 9 7 13 7 8 7 12 7 14 7 17 7 12 7 9 7 3 7 3 7 0 7-4 7-11 7-15 7-17 7-18 7-19 7-24 7-21 7-25 7-23 7-22 7-17 7-20 7-18 7-20 7-19 7-17 7-20 7-18 7-17 7-15 7-13 7-17 7-11 7-14 7-13 7-16 7-12 7-13 7-11 7-12 7-11 7-10 7-11 7-9 7-10 7-7 7-9 7-9 7-8 7-7 7-5 7-6 7-6 7-8 7-7 7-2 7-4 7-4 7-6" stroke="#08a4ff"/>
<path d="M3934,1192l7-4 7 4 7 3 7 7 7 10 7 11 7 12 7 13 7 20 7 21 7 26 7 23 7 23 7 29 7 27 7 35 7 29 7 29 7 32 7 33 7 27 7 12 7 3 7-6 7-19 7-35 7-44 7-48 7-51 7-54 7-58 7-51 7-47 7-44 7-46 7-42 7-39 7-35 7-32 7-30 7-29 7-23 7-16 7-13 7-10 7-12 7-7 7-6 7-9 7-5 7-4 7 2 7-4 7-2 7-7 7 0 7-2 7 1 7-3 7 4 7-1 7 4 7-1 7 5 7 3 7 2 7 6 7 0 7 1 7-2 7 4 7-5 7-3 7 1 7 3 7 5 7 0 7 9 7 0 7-2 7-3 7 3 7 4 7 2 7 0 7-1 7 4 7 1 7 0 7 1 7-5 7 1 7-1 7 5 7 1 7-4 7-4 7-1 7 3 7-7 7-7 7-7 7 1 7 2 7 0 7 3 7-14 7-8 7-6 7 16 7 1 7-8 7-5 7-2 7 5 7-1 7-1 7 7 7 3 7 13 7-8 7 6 7 2 7 11 7 10 7 7 7 17 7 6 7 10 7 3 7 9 7 9 7 11 7 9 7 9 7 5 7 8 7 8 7 17 7 10 7 13 7 6 7 11 7 8 7 12 7 12 7 4 7 9 7 10 7 13 7 11 7 10 7 17 7 17 7 9 7 12 7 14 7 20 7 13 7 15 7 12 7 13 7 4 7 4 7 0 7-4 7-5 7-17 7-16 7-23 7-21 7-23 7-25 7-21 7-26 7-21 7-21 7-21 7-20 7-18 7-17 7-20 7-18 7-18 7-16 7-19 7-13 7-14 7-9 7-15 7-12 7-16 7-13 7-11 7-10 7-10 7-11 7-13 7-12 7-11 7-10 7-6 7-6 7-6 7-9 7-9 7-9 7-7 7-6 7-7 7-6 7-5 7-5 7-6 7-4" stroke="#06c6ff"/>
<path d="M3934,1189l7-5 7 2 7 4 7 8 7 12 7 9 7 10 7 12 7 20 7 22 7 23 7 22 7 24 7 27 7 31 7 35 7 32 7 33 7 33 7 30 7 30 7 16 7 5 7-9 7-20 7-33 7-43 7-50 7-54 7-55 7-53 7-51 7-50 7-50 7-43 7-44 7-35 7-40 7-34 7-35 7-26 7-19 7-14 7-14 7-13 7-11 7-8 7-4 7-9 7-5 7-7 7-1 7-3 7-3 7-4 7-4 7-4 7-2 7 3 7 2 7 0 7-6 7 4 7 7 7 5 7-1 7 1 7 2 7 2 7 5 7 2 7-1 7-7 7-1 7 0 7 4 7 6 7 7 7 3 7-4 7-7 7-8 7 5 7 9 7 5 7-4 7-2 7 9 7 4 7-8 7-2 7 2 7 6 7 0 7 5 7-5 7-4 7-3 7 13 7-11 7 0 7-13 7 12 7-8 7 5 7-9 7 1 7-13 7 4 7 1 7 4 7-17 7 2 7-3 7 12 7-9 7-1 7-2 7 2 7 5 7 6 7 6 7 13 7 4 7 8 7 1 7 4 7 4 7 7 7 7 7 19 7 9 7 12 7 3 7 16 7 8 7 8 7 5 7 13 7 12 7 11 7 6 7 9 7 12 7 15 7 13 7 11 7 13 7 10 7 14 7 14 7 14 7 14 7 14 7 20 7 13 7 16 7 13 7 16 7 15 7 15 7 9 7 10 7 2 7 0 7-5 7-8 7-11 7-20 7-19 7-20 7-23 7-26 7-25 7-24 7-23 7-26 7-21 7-20 7-15 7-16 7-20 7-18 7-19 7-15 7-13 7-12 7-16 7-18 7-15 7-11 7-11 7-12 7-10 7-12 7-9 7-14 7-6 7-11 7-12 7-10 7-11 7-7 7-10 7-3 7-8 7-9 7-10 7-5 7-5 7-7 7-5 7-8 7-1 7-5" stroke="#05e4f8"/>
<path d="M3934,1192l7-7 7 0 7 2 7 7 7 6 7 6 7 10 7 16 7 21 7 27 7 25 7 26 7 23 7 30 7 32 7 34 7 29 7 31 7 33 7 34 7 28 7 17 7 5 7-5 7-21 7-36 7-46 7-49 7-50 7-57 7-56 7-51 7-46 7-49 7-50 7-46 7-40 7-36 7-31 7-29 7-23 7-21 7-16 7-18 7-13 7-10 7-10 7-10 7-9 7-6 7-5 7-7 7-4 7-2 7-5 7-1 7-1 7 0 7-2 7-1 7 1 7 4 7 1 7 1 7-1 7 0 7 0 7 1 7 2 7-3 7-2 7 2 7 4 7 5 7 0 7 3 7 2 7 5 7 9 7-1 7-7 7-4 7 0 7 6 7-4 7 5 7 0 7 1 7 7 7-2 7 0 7 0 7-2 7 0 7-13 7 1 7 1 7 6 7 3 7 0 7-17 7-13 7-2 7 11 7 5 7-8 7-1 7 5 7-9 7-10 7 1 7 15 7 7 7-11 7-12 7-3 7 9 7 2 7-2 7-5 7 6 7 4 7 5 7 7 7 8 7 11 7 1 7 7 7 9 7 12 7 7 7 13 7 11 7 9 7 10 7 12 7 20 7 8 7 18 7 12 7 12 7 5 7 6 7 9 7 9 7 11 7 11 7 17 7 15 7 8 7 8 7 14 7 20 7 19 7 19 7 14 7 20 7 18 7 17 7 19 7 14 7 19 7 8 7 6 7-2 7-6 7-8 7-15 7-16 7-21 7-19 7-25 7-24 7-28 7-24 7-25 7-23 7-22 7-18 7-20 7-15 7-22 7-16 7-19 7-15 7-15 7-19 7-13 7-17 7-13 7-13 7-9 7-11 7-13 7-12 7-8 7-9 7-10 7-9 7-10 7-10 7-13 7-12 7-9 7-5 7-6 7-9 7-7 7-6 7-4 7-8 7-10 7-5 7 0 7 0" stroke="#05f5d5"/>
<path d="M3934,1185l7-6 7-3 7 2 7 8 7 13 7 11 7 11 7 13 7 21 7 21 7 26 7 24 7 26 7 26 7 30 7 33 7 36 7 32 7 34 7 32 7 30 7 15 7 5 7-7 7-18 7-32 7-42 7-48 7-52 7-57 7-57 7-54 7-51 7-45 7-48 7-46 7-41 7-36 7-35 7-32 7-23 7-18 7-17 7-21 7-14 7-12 7-6 7-9 7-10 7-5 7-3 7-6 7-7 7-7 7-3 7-4 7 0 7 1 7-2 7-3 7-1 7 0 7 0 7 2 7 4 7 3 7-3 7 3 7-4 7 6 7-4 7 7 7-2 7-2 7-6 7-4 7 4 7 5 7 4 7 0 7 3 7-2 7 2 7-5 7 2 7-1 7 7 7 3 7 8 7-2 7-1 7-9 7 4 7-15 7 3 7-12 7 10 7 10 7 6 7-3 7-1 7-7 7 9 7-12 7 0 7 2 7-6 7 2 7-8 7-5 7-22 7-7 7-2 7 14 7 3 7 0 7-7 7-3 7-1 7 9 7-6 7 14 7 1 7 12 7-2 7 14 7 14 7 11 7 5 7 11 7 13 7 8 7 4 7 10 7 16 7 18 7 4 7 11 7 11 7 16 7 8 7 9 7 18 7 17 7 16 7 10 7 15 7 13 7 15 7 11 7 15 7 17 7 20 7 18 7 14 7 15 7 18 7 26 7 20 7 19 7 11 7 15 7 10 7 6 7-5 7-6 7-10 7-10 7-17 7-20 7-21 7-24 7-26 7-28 7-26 7-25 7-22 7-20 7-16 7-19 7-21 7-22 7-20 7-16 7-14 7-14 7-17 7-14 7-13 7-14 7-14 7-12 7-7 7-13 7-11 7-14 7-8 7-8 7-10 7-10 7-13 7-8 7-11 7-6 7-11 7-4 7-8 7-7 7-9 7-4 7-4 7-7 7-5 7-3 7-3" stroke="#05fca3"/>
<path d="M3934,1185l7-8 7-1 7 2 7 8 7 5 7 9 7 11 7 17 7 20 7 21 7 24 7 23 7 30 7 33 7 37 7 32 7 32 7 29 7 33 7 35 7 30 7 19 7 3 7-6 7-18 7-32 7-45 7-50 7-50 7-55 7-58 7-55 7-53 7-47 7-48 7-45 7-42 7-36 7-38 7-32 7-27 7-19 7-16 7-15 7-19 7-12 7-12 7-7 7-7 7-6 7-4 7-6 7-4 7-3 7-7 7-6 7-4 7 0 7 3 7-3 7-2 7-1 7 0 7 2 7-1 7 3 7 1 7 2 7-3 7-2 7-2 7 2 7 2 7-3 7 5 7-3 7 6 7-4 7 6 7 3 7 6 7 4 7 1 7 3 7-7 7-5 7 7 7 9 7 3 7-14 7-7 7-1 7-2 7-4 7-6 7 2 7-1 7 14 7 0 7 9 7-15 7-13 7-11 7 9 7 8 7 0 7-10 7-8 7-7 7 10 7-4 7 3 7-13 7-3 7-3 7 2 7 11 7-1 7-8 7-10 7 4 7 9 7 3 7 6 7-2 7 12 7 6 7 16 7 10 7 13 7 12 7 13 7 11 7 9 7 13 7 13 7 15 7 15 7 9 7 13 7 14 7 17 7 11 7 11 7 13 7 15 7 12 7 14 7 13 7 19 7 19 7 23 7 13 7 14 7 12 7 21 7 20 7 23 7 20 7 23 7 18 7 15 7 8 7 3 7 2 7-3 7-7 7-14 7-15 7-19 7-21 7-26 7-26 7-29 7-26 7-26 7-22 7-23 7-18 7-22 7-19 7-21 7-15 7-17 7-16 7-17 7-15 7-15 7-12 7-14 7-14 7-11 7-10 7-12 7-12 7-10 7-10 7-10 7-8 7-9 7-11 7-10 7-11 7-4 7-9 7-5 7-14 7-5 7-7 7-4 7-10 7-4 7-4 7-4 7-7" stroke="#04f359"/>
<path d="M3934,1182l7-7 7-4 7 2 7 5 7 9 7 7 7 11 7 15 7 22 7 22 7 22 7 26 7 27 7 32 7 33 7 36 7 34 7 33 7 36 7 37 7 32 7 15 7 5 7-7 7-16 7-34 7-42 7-52 7-51 7-54 7-59 7-55 7-53 7-48 7-49 7-47 7-42 7-34 7-34 7-30 7-26 7-25 7-21 7-17 7-15 7-11 7-11 7-9 7-9 7-6 7-9 7-5 7-8 7 1 7-7 7-2 7-5 7 2 7-3 7-2 7-3 7-1 7-3 7 0 7-1 7 4 7-2 7 0 7-8 7-1 7 0 7 3 7 5 7-1 7 6 7 0 7 1 7 0 7-5 7 9 7 2 7 7 7-3 7 8 7-4 7-2 7-3 7 8 7 4 7-9 7-5 7-2 7 3 7-1 7-3 7-1 7-2 7-4 7 7 7 0 7 4 7-8 7-2 7-2 7-1 7-8 7-4 7 1 7-2 7-9 7-8 7-1 7 3 7-3 7-7 7-9 7-2 7 6 7 10 7 2 7-1 7-6 7-3 7 5 7 5 7 18 7 6 7 10 7 4 7 13 7 13 7 11 7 16 7 12 7 15 7 16 7 19 7 17 7 12 7 10 7 13 7 15 7 14 7 12 7 12 7 15 7 19 7 12 7 12 7 16 7 18 7 20 7 17 7 21 7 23 7 21 7 20 7 19 7 19 7 19 7 18 7 17 7 11 7 6 7 2 7-4 7-8 7-15 7-18 7-16 7-19 7-23 7-29 7-28 7-28 7-26 7-23 7-19 7-22 7-25 7-18 7-18 7-15 7-17 7-15 7-13 7-16 7-16 7-17 7-15 7-11 7-13 7-12 7-8 7-10 7-10 7-11 7-10 7-11 7-13 7-10 7-6 7-7 7-10 7-7 7-7 7-8 7-8 7-10 7-8 7-7 7-4 7-7 7-5 7-2" stroke="#1bef2a"/>
<path d="M3934,1178l7-8 7-5 7 0 7 5 7 7 7 12 7 11 7 18 7 18 7 24 7 22 7 30 7 25 7 34 7 32 7 37 7 33 7 34 7 41 7 36 7 29 7 14 7 6 7-5 7-17 7-34 7-43 7-52 7-51 7-59 7-56 7-60 7-49 7-50 7-46 7-46 7-41 7-36 7-35 7-30 7-29 7-22 7-18 7-16 7-16 7-14 7-14 7-11 7-13 7-5 7-7 7-6 7-4 7-6 7-3 7-5 7-3 7 0 7-4 7 0 7-1 7-3 7-2 7 1 7 1 7 0 7 3 7 2 7-3 7-9 7-3 7 2 7 0 7 7 7 0 7-1 7-3 7 1 7 11 7 4 7 6 7-6 7 2 7-4 7 6 7-8 7 5 7-4 7-3 7-5 7 3 7 6 7-3 7-7 7 9 7 2 7 11 7-15 7-1 7-7 7 3 7-4 7 0 7-8 7 0 7-2 7-2 7-11 7-15 7 0 7 6 7-3 7-9 7-11 7-5 7 7 7-1 7 3 7 3 7 12 7 8 7-3 7-4 7 2 7 5 7 9 7 8 7 8 7 10 7 12 7 13 7 15 7 10 7 15 7 10 7 17 7 14 7 22 7 16 7 15 7 12 7 14 7 16 7 13 7 12 7 11 7 13 7 16 7 21 7 20 7 20 7 18 7 17 7 16 7 19 7 24 7 23 7 24 7 19 7 21 7 13 7 18 7 10 7 12 7 1 7-1 7-10 7-12 7-19 7-18 7-23 7-26 7-29 7-28 7-22 7-23 7-20 7-25 7-23 7-22 7-19 7-18 7-20 7-21 7-15 7-16 7-15 7-13 7-12 7-10 7-14 7-14 7-15 7-10 7-8 7-8 7-8 7-12 7-13 7-9 7-6 7-9 7-10 7-11 7-4 7-10 7-8 7-9 7-7 7-6 7-6 7-7 7-7 7-3 7 0" stroke="#40ee0c"/>
<path d="M3934,1177l7-9 7-7 7 0 7 3 7 9 7 9 7 12 7 15 7 23 7 21 7 25 7 23 7 30 7 30 7 34 7 37 7 37 7 39 7 37 7 37 7 29 7 14 7 9 7-5 7-15 7-38 7-46 7-47 7-48 7-56 7-60 7-61 7-52 7-50 7-47 7-45 7-41 7-36 7-35 7-31 7-28 7-20 7-19 7-18 7-19 7-14 7-11 7-9 7-15 7-7 7-12 7-2 7-8 7-2 7-5 7-5 7-5 7-4 7 1 7-5 7-5 7-3 7 3 7 2 7-1 7-3 7 2 7 0 7 4 7-5 7-4 7-1 7 2 7 1 7 1 7 5 7 2 7 0 7-1 7 0 7 2 7 6 7 5 7 2 7-11 7 1 7 0 7 5 7-1 7 4 7 0 7 2 7-11 7-9 7 3 7 8 7 11 7-2 7-2 7-5 7-8 7-1 7 3 7 8 7-13 7-15 7-5 7 7 7 1 7-13 7-15 7-5 7-2 7-2 7-1 7-7 7 0 7 3 7 9 7 7 7-2 7-2 7 2 7 0 7 1 7 2 7 16 7 20 7 13 7 13 7 13 7 12 7 9 7 10 7 17 7 11 7 16 7 11 7 22 7 14 7 17 7 9 7 15 7 15 7 19 7 12 7 12 7 16 7 20 7 19 7 19 7 20 7 22 7 20 7 19 7 22 7 21 7 23 7 19 7 21 7 17 7 16 7 13 7 11 7 4 7 0 7-8 7-14 7-19 7-21 7-19 7-26 7-25 7-29 7-25 7-29 7-23 7-20 7-18 7-21 7-20 7-23 7-20 7-16 7-13 7-13 7-19 7-16 7-14 7-12 7-14 7-14 7-12 7-8 7-8 7-10 7-10 7-11 7-9 7-10 7-11 7-10 7-8 7-5 7-8 7-12 7-8 7-9 7-5 7-3 7-4 7-4 7-6 7-2 7-4" stroke="#72ee08"/>
<path d="M3934,1172l7-9 7-5 7-4 7 5 7 10 7 12 7 9 7 15 7 21 7 23 7 24 7 28 7 29 7 33 7 35 7 36 7 38 7 34 7 39 7 34 7 29 7 16 7 9 7-3 7-15 7-32 7-46 7-51 7-53 7-54 7-60 7-60 7-56 7-46 7-46 7-45 7-44 7-37 7-35 7-31 7-28 7-21 7-21 7-20 7-16 7-15 7-10 7-11 7-9 7-12 7-8 7-9 7-1 7-6 7-4 7-8 7-2 7 0 7-3 7-2 7-5 7 1 7-4 7-4 7-5 7-2 7 7 7 2 7 1 7-3 7-2 7 4 7-1 7 4 7-2 7-2 7 5 7-1 7 6 7 4 7 6 7 5 7-8 7-6 7-4 7 2 7 9 7 2 7 2 7-11 7-5 7-10 7 1 7 1 7 11 7 2 7 6 7-7 7 3 7-5 7 5 7-6 7-5 7-5 7-7 7 2 7-12 7 0 7-11 7-7 7 2 7 3 7 4 7-18 7-5 7-5 7 5 7-4 7 7 7-4 7 14 7 5 7 0 7-7 7 1 7 6 7 6 7 5 7 20 7 14 7 14 7 16 7 13 7 16 7 9 7 15 7 18 7 21 7 19 7 13 7 14 7 15 7 14 7 12 7 12 7 15 7 19 7 22 7 16 7 17 7 16 7 21 7 23 7 20 7 26 7 19 7 24 7 15 7 21 7 21 7 21 7 16 7 14 7 10 7 6 7-7 7-9 7-11 7-14 7-24 7-22 7-28 7-22 7-30 7-22 7-26 7-20 7-22 7-19 7-25 7-20 7-23 7-17 7-18 7-15 7-14 7-15 7-14 7-14 7-13 7-11 7-11 7-13 7-15 7-14 7-11 7-9 7-9 7-11 7-9 7-10 7-7 7-8 7-10 7-6 7-6 7-4 7-9 7-10 7-6 7-1 7-3 7-6 7-6 7-2" stroke="#a6ee0a"/>
<path d="M3934,1170l7-7 7-8 7-3 7 0 7 11 7 12 7 13 7 13 7 21 7 21 7 25 7 28 7 29 7 33 7 33 7 39 7 39 7 35 7 43 7 36 7 29 7 12 7 6 7 0 7-13 7-34 7-46 7-50 7-49 7-58 7-56 7-62 7-50 7-52 7-46 7-49 7-44 7-39 7-35 7-31 7-27 7-19 7-16 7-16 7-19 7-18 7-15 7-12 7-11 7-8 7-5 7-4 7-10 7-9 7-5 7-2 7-3 7-9 7-2 7-3 7-1 7 0 7 1 7 1 7-2 7-7 7-2 7-3 7 6 7 0 7-1 7-1 7 3 7 6 7 0 7-3 7-4 7-1 7 2 7 6 7 4 7 0 7-1 7 1 7 3 7-1 7-5 7 1 7 4 7 1 7-6 7-3 7 3 7 5 7 4 7-4 7 1 7-8 7-1 7-6 7-7 7-2 7 4 7 3 7-5 7-7 7-1 7-6 7-3 7 1 7-1 7-6 7-18 7-3 7 0 7-3 7-1 7-3 7 3 7-3 7 2 7 8 7 2 7 5 7 2 7 4 7 5 7 13 7 19 7 16 7 12 7 16 7 11 7 11 7 10 7 20 7 19 7 16 7 18 7 17 7 18 7 10 7 13 7 16 7 17 7 12 7 15 7 15 7 22 7 14 7 20 7 19 7 25 7 21 7 19 7 19 7 25 7 21 7 24 7 21 7 22 7 16 7 13 7 11 7 4 7-1 7-7 7-14 7-16 7-24 7-20 7-25 7-25 7-28 7-26 7-25 7-22 7-19 7-23 7-21 7-23 7-22 7-19 7-18 7-14 7-15 7-14 7-14 7-14 7-15 7-17 7-11 7-8 7-9 7-13 7-13 7-11 7-11 7-10 7-7 7-5 7-10 7-11 7-10 7-4 7-5 7-3 7-6 7-6 7-6 7-7 7-8 7-8 7-4 7-2" stroke="#d7e604"/>
<path d="M3934,1168l7-12 7-8 7-2 7 4 7 8 7 10 7 13 7 14 7 23 7 22 7 29 7 22 7 29 7 32 7 39 7 40 7 35 7 36 7 33 7 40 7 30 7 21 7 5 7-2 7-15 7-32 7-43 7-49 7-50 7-59 7-59 7-57 7-51 7-51 7-49 7-49 7-47 7-41 7-32 7-28 7-24 7-25 7-23 7-22 7-17 7-13 7-8 7-7 7-11 7-13 7-14 7-6 7-5 7-4 7-7 7-4 7-2 7-4 7-4 7-5 7 2 7-1 7 2 7 1 7-1 7-3 7-5 7-4 7-2 7-3 7 4 7-2 7 7 7-1 7 4 7-2 7 0 7 6 7 1 7 5 7-4 7 1 7 0 7 2 7 6 7-3 7 1 7-5 7 6 7-7 7 5 7-9 7 5 7-6 7 4 7-5 7 1 7-5 7-1 7-4 7-4 7 2 7-5 7 1 7-1 7-1 7-3 7-16 7 0 7-5 7 0 7 0 7-7 7-1 7-15 7-7 7-5 7 10 7 5 7 1 7-5 7 4 7 7 7 6 7 6 7-2 7 11 7 10 7 17 7 14 7 13 7 13 7 11 7 15 7 13 7 15 7 20 7 21 7 16 7 15 7 14 7 16 7 12 7 15 7 14 7 18 7 15 7 19 7 12 7 19 7 18 7 22 7 20 7 20 7 23 7 23 7 24 7 24 7 20 7 20 7 19 7 18 7 12 7 7 7 6 7-1 7-5 7-13 7-16 7-17 7-21 7-23 7-26 7-28 7-28 7-29 7-20 7-20 7-19 7-25 7-22 7-18 7-18 7-15 7-20 7-15 7-13 7-13 7-13 7-14 7-14 7-13 7-14 7-9 7-14 7-12 7-14 7-5 7-5 7-8 7-11 7-15 7-11 7-7 7-5 7-6 7-8 7-6 7-5 7-5 7-2 7-4 7-6 7-4 7-2" stroke="#ffd800"/>
<path d="M3934,1166l7-9 7-13 7-1 7-2 7 8 7 11 7 14 7 16 7 19 7 23 7 29 7 25 7 27 7 34 7 39 7 40 7 36 7 34 7 39 7 36 7 34 7 16 7 7 7-4 7-12 7-28 7-42 7-48 7-52 7-57 7-59 7-58 7-56 7-54 7-48 7-46 7-39 7-39 7-40 7-34 7-28 7-17 7-19 7-17 7-18 7-16 7-18 7-9 7-11 7-10 7-8 7-7 7-1 7-9 7-7 7-7 7-4 7 0 7-4 7-4 7-3 7-1 7 0 7-3 7 2 7-1 7 3 7-5 7-3 7-2 7-2 7 4 7 1 7 6 7-1 7 0 7-1 7 5 7 2 7 2 7-3 7 2 7-3 7 2 7 5 7 4 7 5 7-9 7-5 7-4 7 1 7 8 7 7 7 3 7-5 7-3 7-3 7-3 7-8 7-6 7-4 7 0 7 2 7-3 7-2 7-9 7-5 7-7 7 3 7-14 7-9 7-11 7 2 7-5 7-2 7 0 7 5 7-2 7 8 7-3 7 3 7 2 7-2 7 8 7-3 7 14 7 5 7 16 7 4 7 11 7 7 7 18 7 14 7 20 7 19 7 17 7 18 7 18 7 21 7 17 7 14 7 13 7 13 7 16 7 15 7 18 7 17 7 15 7 17 7 15 7 20 7 23 7 21 7 19 7 18 7 18 7 20 7 21 7 25 7 23 7 18 7 19 7 14 7 14 7 2 7-4 7-7 7-11 7-13 7-20 7-17 7-24 7-23 7-27 7-25 7-26 7-24 7-20 7-24 7-21 7-20 7-14 7-15 7-20 7-21 7-17 7-16 7-10 7-18 7-15 7-17 7-13 7-14 7-12 7-8 7-6 7-7 7-9 7-14 7-11 7-12 7-7 7-11 7-6 7-8 7-4 7-7 7-1 7-7 7-5 7-7 7-3 7-5 7-6 7-2" stroke="#ffb100"/>
<path d="M3934,1162l7-14 7-9 7-4 7 3 7 6 7 12 7 13 7 18 7 19 7 22 7 28 7 29 7 29 7 34 7 36 7 41 7 34 7 36 7 39 7 38 7 31 7 13 7 10 7-2 7-9 7-30 7-42 7-49 7-50 7-56 7-59 7-62 7-55 7-53 7-51 7-47 7-43 7-34 7-35 7-34 7-28 7-22 7-21 7-20 7-19 7-16 7-11 7-12 7-4 7-11 7-9 7-12 7-4 7-6 7-5 7-6 7-7 7-3 7-2 7 1 7 0 7-6 7-2 7-4 7 1 7 0 7-6 7 2 7 3 7 8 7-1 7 0 7-3 7-1 7-2 7 3 7-1 7 1 7-1 7 2 7 4 7 5 7-3 7-2 7 1 7 8 7 1 7 0 7 1 7-2 7-4 7-4 7 5 7 4 7-1 7-5 7-10 7 1 7 2 7 1 7 2 7-8 7-6 7-15 7-3 7-2 7 1 7-7 7 7 7-2 7-3 7-16 7-4 7-7 7-6 7-6 7 2 7 4 7 0 7-3 7-3 7 4 7 9 7 10 7 0 7 3 7 7 7 12 7 12 7 14 7 18 7 15 7 13 7 12 7 16 7 19 7 16 7 18 7 16 7 20 7 16 7 18 7 15 7 14 7 10 7 16 7 16 7 17 7 16 7 16 7 19 7 22 7 21 7 24 7 15 7 21 7 19 7 22 7 22 7 21 7 21 7 15 7 12 7 10 7 5 7 2 7-5 7-9 7-15 7-14 7-19 7-24 7-26 7-25 7-26 7-26 7-24 7-25 7-20 7-21 7-19 7-21 7-18 7-16 7-15 7-17 7-19 7-15 7-14 7-13 7-16 7-12 7-12 7-12 7-8 7-10 7-7 7-9 7-9 7-10 7-13 7-11 7-9 7-6 7-5 7-6 7-6 7-7 7-5 7-4 7-3 7-6 7-5 7-5 7-1" stroke="#ff8f00"/>
<path d="M3934,1157l7-12 7-9 7-3 7 0 7 7 7 8 7 12 7 15 7 25 7 22 7 26 7 26 7 35 7 36 7 39 7 36 7 36 7 37 7 40 7 38 7 29 7 16 7 10 7 1 7-8 7-33 7-44 7-49 7-47 7-55 7-58 7-63 7-59 7-53 7-48 7-45 7-45 7-38 7-33 7-32 7-28 7-25 7-21 7-19 7-17 7-13 7-15 7-9 7-13 7-8 7-12 7-8 7-7 7-3 7-4 7-3 7-6 7-3 7-5 7-3 7-2 7 0 7-2 7-2 7-1 7-2 7-1 7-2 7-3 7 2 7-3 7 3 7-3 7 4 7 0 7 7 7-2 7 3 7-1 7 3 7-1 7-5 7 0 7-1 7 5 7 2 7 5 7 1 7 1 7-3 7 0 7 4 7-5 7-3 7-2 7 2 7-2 7-6 7 3 7 6 7-3 7-12 7-4 7-1 7 4 7-7 7-5 7-7 7-3 7-10 7-5 7-7 7-2 7-5 7-5 7-3 7 2 7-3 7 0 7-4 7 5 7 5 7 10 7 3 7 3 7 0 7 8 7 13 7 17 7 13 7 12 7 9 7 14 7 17 7 19 7 19 7 17 7 23 7 19 7 18 7 10 7 12 7 12 7 13 7 17 7 13 7 17 7 17 7 17 7 21 7 19 7 22 7 17 7 18 7 23 7 21 7 22 7 14 7 19 7 19 7 24 7 16 7 16 7 9 7 7 7-1 7-6 7-9 7-14 7-18 7-18 7-21 7-20 7-25 7-27 7-28 7-25 7-21 7-19 7-22 7-22 7-22 7-19 7-14 7-15 7-13 7-19 7-14 7-15 7-15 7-16 7-14 7-12 7-9 7-12 7-8 7-13 7-9 7-9 7-9 7-8 7-10 7-7 7-10 7-5 7-5 7-5 7-8 7-3 7-4 7-4 7-5 7-2 7-2 7-4" stroke="#ff7500"/>
<path d="M3934,1158l7-17 7-10 7-4 7 8 7 7 7 10 7 6 7 13 7 22 7 24 7 27 7 26 7 33 7 36 7 39 7 42 7 39 7 36 7 38 7 37 7 29 7 16 7 4 7 4 7-10 7-27 7-43 7-47 7-47 7-56 7-63 7-65 7-56 7-50 7-48 7-44 7-43 7-41 7-40 7-34 7-26 7-23 7-21 7-16 7-15 7-16 7-17 7-13 7-9 7-7 7-7 7-6 7-4 7-6 7-6 7-7 7-7 7-6 7-2 7-2 7 1 7-4 7-1 7-4 7 0 7-3 7-1 7 3 7-2 7-2 7-5 7 5 7-1 7 5 7-2 7 3 7 1 7 0 7 0 7 5 7 5 7 5 7-1 7 2 7 0 7-3 7 1 7 3 7 2 7-5 7-2 7-4 7 1 7-3 7 0 7 3 7-1 7 3 7-5 7-7 7-3 7-5 7 7 7-3 7 2 7-16 7-6 7-10 7 8 7-7 7-4 7-12 7 3 7-4 7-7 7-15 7-3 7 7 7 5 7 0 7 0 7 0 7 6 7 1 7 3 7 8 7 2 7 13 7 10 7 22 7 13 7 15 7 16 7 19 7 15 7 15 7 20 7 23 7 18 7 11 7 10 7 16 7 13 7 17 7 13 7 16 7 14 7 15 7 15 7 21 7 20 7 22 7 19 7 19 7 19 7 17 7 20 7 19 7 21 7 18 7 19 7 13 7 14 7 10 7 9 7 4 7-2 7-13 7-15 7-18 7-12 7-19 7-26 7-24 7-25 7-21 7-23 7-19 7-21 7-22 7-22 7-22 7-18 7-20 7-18 7-19 7-13 7-9 7-15 7-17 7-18 7-14 7-11 7-13 7-7 7-12 7-10 7-11 7-11 7-10 7-8 7-7 7-9 7-7 7-4 7-5 7-6 7-6 7-5 7-4 7-7 7-2 7-3 7-2 7-2" stroke="#ff5900"/>
<path d="M3934,1150l7-15 7-7 7-6 7 1 7 7 7 11 7 9 7 15 7 19 7 25 7 27 7 31 7 33 7 35 7 37 7 38 7 39 7 37 7 39 7 38 7 32 7 14 7 6 7 1 7-5 7-27 7-40 7-47 7-45 7-60 7-62 7-65 7-56 7-52 7-48 7-48 7-41 7-39 7-36 7-33 7-26 7-23 7-21 7-20 7-20 7-15 7-10 7-9 7-13 7-11 7-11 7-4 7-8 7-4 7-3 7-2 7-8 7-7 7-5 7 1 7-2 7-2 7-3 7-5 7-1 7 1 7 4 7 2 7 2 7-3 7 0 7-6 7 0 7-3 7 6 7 3 7 1 7-4 7 4 7 2 7 5 7 0 7 2 7 5 7 4 7 1 7-4 7-7 7-9 7-6 7 2 7 0 7 5 7 2 7-2 7 2 7-2 7 7 7-8 7-1 7-6 7 3 7-2 7-2 7-6 7-5 7-1 7-1 7-11 7-9 7-8 7-4 7-3 7-6 7-1 7-1 7 2 7-3 7-3 7-4 7 7 7 3 7 5 7 0 7 3 7 9 7 10 7 9 7 14 7 8 7 18 7 12 7 18 7 16 7 17 7 15 7 21 7 13 7 17 7 10 7 19 7 21 7 18 7 13 7 10 7 15 7 15 7 17 7 19 7 14 7 21 7 15 7 20 7 18 7 19 7 18 7 19 7 19 7 21 7 18 7 17 7 15 7 13 7 12 7 6 7 1 7-2 7-8 7-13 7-17 7-15 7-16 7-19 7-25 7-27 7-25 7-24 7-18 7-23 7-18 7-21 7-17 7-22 7-19 7-17 7-15 7-14 7-15 7-15 7-15 7-17 7-17 7-13 7-11 7-9 7-11 7-10 7-11 7-11 7-10 7-7 7-10 7-6 7-8 7-2 7-5 7-4 7-6 7-6 7-4 7-3 7 1 7-4 7-3 7-4" stroke="#ff3c00"/>
<path d="M3934,1149l7-16 7-10 7-5 7 0 7 9 7 8 7 10 7 16 7 20 7 28 7 26 7 33 7 34 7 34 7 35 7 34 7 43 7 38 7 41 7 34 7 29 7 16 7 6 7 5 7-6 7-27 7-42 7-47 7-45 7-57 7-64 7-63 7-58 7-48 7-50 7-48 7-45 7-38 7-32 7-34 7-28 7-24 7-21 7-22 7-19 7-15 7-11 7-11 7-8 7-8 7-8 7-8 7-7 7-6 7-6 7-4 7-2 7-2 7-2 7-2 7-4 7-2 7-2 7 1 7-5 7-3 7-4 7 1 7-1 7 0 7-1 7-2 7 3 7 3 7 4 7-1 7 0 7-4 7-2 7 0 7 3 7 4 7-4 7-1 7-5 7 6 7 2 7 4 7 0 7 0 7 6 7-3 7 0 7-6 7 3 7 4 7 1 7-6 7-2 7 3 7 2 7-6 7-1 7-11 7-8 7-8 7 7 7-3 7-12 7-12 7-8 7 3 7-3 7 2 7-13 7-4 7 0 7 10 7 1 7-5 7-3 7 2 7-2 7 1 7 11 7 12 7 14 7 8 7 11 7 11 7 14 7 14 7 15 7 12 7 18 7 15 7 20 7 16 7 18 7 16 7 18 7 14 7 18 7 8 7 16 7 12 7 21 7 16 7 17 7 17 7 18 7 20 7 19 7 19 7 13 7 19 7 18 7 22 7 14 7 19 7 18 7 16 7 9 7 12 7 10 7 4 7-7 7-11 7-13 7-11 7-13 7-17 7-21 7-24 7-21 7-23 7-22 7-22 7-21 7-21 7-22 7-21 7-18 7-19 7-21 7-17 7-13 7-11 7-15 7-16 7-14 7-16 7-16 7-16 7-11 7-9 7-10 7-8 7-10 7-6 7-12 7-10 7-8 7-4 7-3 7-6 7-6 7-5 7-4 7-1 7-2 7 0 7-7 7-4 7-3" stroke="#ff2000"/>
<path d="M3934,1146l7-21 7-12 7-3 7 5 7 11 7 9 7 12 7 14 7 20 7 25 7 28 7 28 7 32 7 37 7 43 7 40 7 35 7 33 7 40 7 39 7 27 7 13 7 5 7 5 7-4 7-25 7-44 7-46 7-45 7-54 7-62 7-63 7-53 7-53 7-51 7-49 7-46 7-38 7-36 7-28 7-25 7-24 7-21 7-23 7-19 7-16 7-9 7-10 7-10 7-12 7-9 7-8 7-5 7-7 7-8 7-4 7-4 7-1 7-3 7-4 7-3 7-4 7 0 7 0 7 1 7-4 7-3 7-3 7 1 7-2 7 1 7 0 7 3 7-1 7 3 7-5 7 3 7 0 7 6 7 1 7 1 7 3 7 1 7 4 7 2 7-4 7-2 7-5 7 7 7 1 7 4 7-4 7-4 7-3 7 0 7-1 7-3 7-7 7 8 7 1 7 4 7-6 7-3 7-2 7 0 7-1 7-8 7-17 7-4 7-2 7 7 7-7 7-9 7-11 7-2 7-2 7 5 7-5 7 3 7 2 7-1 7-3 7-6 7 5 7 8 7 5 7 13 7 4 7 14 7 16 7 16 7 9 7 10 7 16 7 22 7 18 7 26 7 15 7 17 7 10 7 20 7 16 7 13 7 13 7 13 7 19 7 15 7 14 7 15 7 18 7 21 7 14 7 18 7 15 7 17 7 17 7 20 7 22 7 18 7 11 7 14 7 12 7 14 7 10 7 9 7 2 7-3 7-9 7-4 7-10 7-14 7-19 7-23 7-20 7-22 7-21 7-21 7-23 7-20 7-22 7-19 7-21 7-16 7-18 7-18 7-18 7-17 7-16 7-17 7-17 7-16 7-16 7-12 7-10 7-8 7-10 7-10 7-10 7-13 7-8 7-11 7-7 7-9 7-9 7-4 7-3 7-3 7-3 7-3 7 0 7-3 7-4 7-4 7 0 7 0" stroke="#ff0500"/>
</g>
</g>
<line x1="393.4" y1="89.31" x2="543.7" y2="89.31" stroke="#333" stroke-width="1"/>
<rect x="393.4" y="47.5" width="150.30000000000007" height="121.30000000000001" fill="none" stroke="#444" stroke-width="1.15"/>
<line x1="393.4" y1="168.8" x2="393.4" y2="171.4" stroke="#444" stroke-width="0.7"/>
<line x1="393.4" y1="47.5" x2="393.4" y2="49.7" stroke="#444" stroke-width="0.7"/>
<text x="393.4" y="178.10000000000002" text-anchor="middle" font-family="'Liberation Sans',Arial,sans-serif" font-size="7" fill="#333">600</text>
<line x1="416.52" y1="168.8" x2="416.52" y2="171.4" stroke="#444" stroke-width="0.7"/>
<line x1="416.52" y1="47.5" x2="416.52" y2="49.7" stroke="#444" stroke-width="0.7"/>
<text x="416.52" y="178.10000000000002" text-anchor="middle" font-family="'Liberation Sans',Arial,sans-serif" font-size="7" fill="#333">650</text>
<line x1="439.65" y1="168.8" x2="439.65" y2="171.4" stroke="#444" stroke-width="0.7"/>
<line x1="439.65" y1="47.5" x2="439.65" y2="49.7" stroke="#444" stroke-width="0.7"/>
<text x="439.65" y="178.10000000000002" text-anchor="middle" font-family="'Liberation Sans',Arial,sans-serif" font-size="7" fill="#333">700</text>
<line x1="462.77" y1="168.8" x2="462.77" y2="171.4" stroke="#444" stroke-width="0.7"/>
<line x1="462.77" y1="47.5" x2="462.77" y2="49.7" stroke="#444" stroke-width="0.7"/>
<text x="462.77" y="178.10000000000002" text-anchor="middle" font-family="'Liberation Sans',Arial,sans-serif" font-size="7" fill="#333">750</text>
<line x1="485.89" y1="168.8" x2="485.89" y2="171.4" stroke="#444" stroke-width="0.7"/>
<line x1="485.89" y1="47.5" x2="485.89" y2="49.7" stroke="#444" stroke-width="0.7"/>
<text x="485.89" y="178.10000000000002" text-anchor="middle" font-family="'Liberation Sans',Arial,sans-serif" font-size="7" fill="#333">800</text>
<line x1="509.02" y1="168.8" x2="509.02" y2="171.4" stroke="#444" stroke-width="0.7"/>
<line x1="509.02" y1="47.5" x2="509.02" y2="49.7" stroke="#444" stroke-width="0.7"/>
<text x="509.02" y="178.10000000000002" text-anchor="middle" font-family="'Liberation Sans',Arial,sans-serif" font-size="7" fill="#333">850</text>
<line x1="532.14" y1="168.8" x2="532.14" y2="171.4" stroke="#444" stroke-width="0.7"/>
<line x1="532.14" y1="47.5" x2="532.14" y2="49.7" stroke="#444" stroke-width="0.7"/>
<text x="532.14" y="178.10000000000002" text-anchor="middle" font-family="'Liberation Sans',Arial,sans-serif" font-size="7" fill="#333">900</text>
<line x1="404.96" y1="168.8" x2="404.96" y2="170.4" stroke="#444" stroke-width="0.7"/>
<line x1="404.96" y1="47.5" x2="404.96" y2="48.9" stroke="#444" stroke-width="0.7"/>
<line x1="428.08" y1="168.8" x2="428.08" y2="170.4" stroke="#444" stroke-width="0.7"/>
<line x1="428.08" y1="47.5" x2="428.08" y2="48.9" stroke="#444" stroke-width="0.7"/>
<line x1="451.21" y1="168.8" x2="451.21" y2="170.4" stroke="#444" stroke-width="0.7"/>
<line x1="451.21" y1="47.5" x2="451.21" y2="48.9" stroke="#444" stroke-width="0.7"/>
<line x1="474.33" y1="168.8" x2="474.33" y2="170.4" stroke="#444" stroke-width="0.7"/>
<line x1="474.33" y1="47.5" x2="474.33" y2="48.9" stroke="#444" stroke-width="0.7"/>
<line x1="497.45" y1="168.8" x2="497.45" y2="170.4" stroke="#444" stroke-width="0.7"/>
<line x1="497.45" y1="47.5" x2="497.45" y2="48.9" stroke="#444" stroke-width="0.7"/>
<line x1="520.58" y1="168.8" x2="520.58" y2="170.4" stroke="#444" stroke-width="0.7"/>
<line x1="520.58" y1="47.5" x2="520.58" y2="48.9" stroke="#444" stroke-width="0.7"/>
<line x1="393.4" y1="52.85" x2="390.79999999999995" y2="52.85" stroke="#444" stroke-width="0.7"/>
<line x1="543.7" y1="52.85" x2="541.5" y2="52.85" stroke="#444" stroke-width="0.7"/>
<text x="389.5" y="55.35" text-anchor="end" font-family="'Liberation Sans',Arial,sans-serif" font-size="7" fill="#333">1.5</text>
<line x1="393.4" y1="65" x2="390.79999999999995" y2="65" stroke="#444" stroke-width="0.7"/>
<line x1="543.7" y1="65" x2="541.5" y2="65" stroke="#444" stroke-width="0.7"/>
<text x="389.5" y="67.5" text-anchor="end" font-family="'Liberation Sans',Arial,sans-serif" font-size="7" fill="#333">1.0</text>
<line x1="393.4" y1="77.16" x2="390.79999999999995" y2="77.16" stroke="#444" stroke-width="0.7"/>
<line x1="543.7" y1="77.16" x2="541.5" y2="77.16" stroke="#444" stroke-width="0.7"/>
<text x="389.5" y="79.66" text-anchor="end" font-family="'Liberation Sans',Arial,sans-serif" font-size="7" fill="#333">0.5</text>
<line x1="393.4" y1="89.31" x2="390.79999999999995" y2="89.31" stroke="#444" stroke-width="0.7"/>
<line x1="543.7" y1="89.31" x2="541.5" y2="89.31" stroke="#444" stroke-width="0.7"/>
<text x="389.5" y="91.81" text-anchor="end" font-family="'Liberation Sans',Arial,sans-serif" font-size="7" fill="#333">0.0</text>
<line x1="393.4" y1="101.47" x2="390.79999999999995" y2="101.47" stroke="#444" stroke-width="0.7"/>
<line x1="543.7" y1="101.47" x2="541.5" y2="101.47" stroke="#444" stroke-width="0.7"/>
<text x="389.5" y="103.97" text-anchor="end" font-family="'Liberation Sans',Arial,sans-serif" font-size="7" fill="#333">−0.5</text>
<line x1="393.4" y1="113.62" x2="390.79999999999995" y2="113.62" stroke="#444" stroke-width="0.7"/>
<line x1="543.7" y1="113.62" x2="541.5" y2="113.62" stroke="#444" stroke-width="0.7"/>
<text x="389.5" y="116.12" text-anchor="end" font-family="'Liberation Sans',Arial,sans-serif" font-size="7" fill="#333">−1.0</text>
<line x1="393.4" y1="125.77" x2="390.79999999999995" y2="125.77" stroke="#444" stroke-width="0.7"/>
<line x1="543.7" y1="125.77" x2="541.5" y2="125.77" stroke="#444" stroke-width="0.7"/>
<text x="389.5" y="128.27" text-anchor="end" font-family="'Liberation Sans',Arial,sans-serif" font-size="7" fill="#333">−1.5</text>
<line x1="393.4" y1="137.93" x2="390.79999999999995" y2="137.93" stroke="#444" stroke-width="0.7"/>
<line x1="543.7" y1="137.93" x2="541.5" y2="137.93" stroke="#444" stroke-width="0.7"/>
<text x="389.5" y="140.43" text-anchor="end" font-family="'Liberation Sans',Arial,sans-serif" font-size="7" fill="#333">−2.0</text>
<line x1="393.4" y1="150.08" x2="390.79999999999995" y2="150.08" stroke="#444" stroke-width="0.7"/>
<line x1="543.7" y1="150.08" x2="541.5" y2="150.08" stroke="#444" stroke-width="0.7"/>
<text x="389.5" y="152.58" text-anchor="end" font-family="'Liberation Sans',Arial,sans-serif" font-size="7" fill="#333">−2.5</text>
<line x1="393.4" y1="162.24" x2="390.79999999999995" y2="162.24" stroke="#444" stroke-width="0.7"/>
<line x1="543.7" y1="162.24" x2="541.5" y2="162.24" stroke="#444" stroke-width="0.7"/>
<text x="389.5" y="164.74" text-anchor="end" font-family="'Liberation Sans',Arial,sans-serif" font-size="7" fill="#333">−3.0</text>
<line x1="393.4" y1="156.16" x2="391.79999999999995" y2="156.16" stroke="#444" stroke-width="0.7"/>
<line x1="543.7" y1="156.16" x2="542.3000000000001" y2="156.16" stroke="#444" stroke-width="0.7"/>
<line x1="393.4" y1="144.01" x2="391.79999999999995" y2="144.01" stroke="#444" stroke-width="0.7"/>
<line x1="543.7" y1="144.01" x2="542.3000000000001" y2="144.01" stroke="#444" stroke-width="0.7"/>
<line x1="393.4" y1="131.85" x2="391.79999999999995" y2="131.85" stroke="#444" stroke-width="0.7"/>
<line x1="543.7" y1="131.85" x2="542.3000000000001" y2="131.85" stroke="#444" stroke-width="0.7"/>
<line x1="393.4" y1="119.7" x2="391.79999999999995" y2="119.7" stroke="#444" stroke-width="0.7"/>
<line x1="543.7" y1="119.7" x2="542.3000000000001" y2="119.7" stroke="#444" stroke-width="0.7"/>
<line x1="393.4" y1="107.54" x2="391.79999999999995" y2="107.54" stroke="#444" stroke-width="0.7"/>
<line x1="543.7" y1="107.54" x2="542.3000000000001" y2="107.54" stroke="#444" stroke-width="0.7"/>
<line x1="393.4" y1="95.39" x2="391.79999999999995" y2="95.39" stroke="#444" stroke-width="0.7"/>
<line x1="543.7" y1="95.39" x2="542.3000000000001" y2="95.39" stroke="#444" stroke-width="0.7"/>
<line x1="393.4" y1="83.23" x2="391.79999999999995" y2="83.23" stroke="#444" stroke-width="0.7"/>
<line x1="543.7" y1="83.23" x2="542.3000000000001" y2="83.23" stroke="#444" stroke-width="0.7"/>
<line x1="393.4" y1="71.08" x2="391.79999999999995" y2="71.08" stroke="#444" stroke-width="0.7"/>
<line x1="543.7" y1="71.08" x2="542.3000000000001" y2="71.08" stroke="#444" stroke-width="0.7"/>
<line x1="393.4" y1="58.93" x2="391.79999999999995" y2="58.93" stroke="#444" stroke-width="0.7"/>
<line x1="543.7" y1="58.93" x2="542.3000000000001" y2="58.93" stroke="#444" stroke-width="0.7"/>
<text x="468.55" y="192.4" text-anchor="middle" font-family="'Liberation Sans',Arial,sans-serif" font-size="10.3" fill="#2a2a2a">Wavelength, nm</text>
<clipPath id="clip3"><rect x="565.2" y="47.4" width="151.0" height="121.4"/></clipPath>
<rect x="565.2" y="47.4" width="151.0" height="121.4" fill="#fff"/>
<line x1="576.82" y1="47.4" x2="576.82" y2="168.8" stroke="#e4e4e4" stroke-width="0.6"/>
<line x1="588.43" y1="47.4" x2="588.43" y2="168.8" stroke="#c6c6c6" stroke-width="0.6"/>
<line x1="600.05" y1="47.4" x2="600.05" y2="168.8" stroke="#e4e4e4" stroke-width="0.6"/>
<line x1="611.66" y1="47.4" x2="611.66" y2="168.8" stroke="#c6c6c6" stroke-width="0.6"/>
<line x1="623.28" y1="47.4" x2="623.28" y2="168.8" stroke="#e4e4e4" stroke-width="0.6"/>
<line x1="634.89" y1="47.4" x2="634.89" y2="168.8" stroke="#c6c6c6" stroke-width="0.6"/>
<line x1="646.51" y1="47.4" x2="646.51" y2="168.8" stroke="#e4e4e4" stroke-width="0.6"/>
<line x1="658.12" y1="47.4" x2="658.12" y2="168.8" stroke="#c6c6c6" stroke-width="0.6"/>
<line x1="669.74" y1="47.4" x2="669.74" y2="168.8" stroke="#e4e4e4" stroke-width="0.6"/>
<line x1="681.35" y1="47.4" x2="681.35" y2="168.8" stroke="#c6c6c6" stroke-width="0.6"/>
<line x1="692.97" y1="47.4" x2="692.97" y2="168.8" stroke="#e4e4e4" stroke-width="0.6"/>
<line x1="704.58" y1="47.4" x2="704.58" y2="168.8" stroke="#c6c6c6" stroke-width="0.6"/>
<line x1="565.2" y1="168.8" x2="716.2" y2="168.8" stroke="#c6c6c6" stroke-width="0.6"/>
<line x1="565.2" y1="158.68" x2="716.2" y2="158.68" stroke="#f0f0f0" stroke-width="0.45"/>
<line x1="565.2" y1="148.57" x2="716.2" y2="148.57" stroke="#c6c6c6" stroke-width="0.6"/>
<line x1="565.2" y1="138.45" x2="716.2" y2="138.45" stroke="#f0f0f0" stroke-width="0.45"/>
<line x1="565.2" y1="128.33" x2="716.2" y2="128.33" stroke="#c6c6c6" stroke-width="0.6"/>
<line x1="565.2" y1="118.22" x2="716.2" y2="118.22" stroke="#f0f0f0" stroke-width="0.45"/>
<line x1="565.2" y1="108.1" x2="716.2" y2="108.1" stroke="#c6c6c6" stroke-width="0.6"/>
<line x1="565.2" y1="97.98" x2="716.2" y2="97.98" stroke="#f0f0f0" stroke-width="0.45"/>
<line x1="565.2" y1="87.87" x2="716.2" y2="87.87" stroke="#c6c6c6" stroke-width="0.6"/>
<line x1="565.2" y1="77.75" x2="716.2" y2="77.75" stroke="#f0f0f0" stroke-width="0.45"/>
<line x1="565.2" y1="67.63" x2="716.2" y2="67.63" stroke="#c6c6c6" stroke-width="0.6"/>
<line x1="565.2" y1="57.52" x2="716.2" y2="57.52" stroke="#f0f0f0" stroke-width="0.45"/>
<line x1="565.2" y1="47.4" x2="716.2" y2="47.4" stroke="#c6c6c6" stroke-width="0.6"/>
<g clip-path="url(#clip3)"><g transform="scale(0.1)" fill="none" stroke-linejoin="round" stroke-width="14">
<path d="M5652,1198l7 13 7 14 7 17 7 12 7 18 7 21 7 22 7 19 7 22 7 28 7 32 7 30 7 22 7 18 7 20 7 15 7 19 7 15 7 12 7 11 7 9 7 4 7-12 7-19 7-28 7-30 7-33 7-39 7-46 7-52 7-52 7-43 7-44 7-42 7-44 7-30 7-25 7-27 7-29 7-27 7-17 7-12 7-11 7-7 7-9 7-7 7-2 7-6 7 9 7-13 7 9 7-10 7 6 7-6 7-1 7 4 7 8 7 3 7-5 7-5 7 12 7 12 7-3 7-10 7-9 7 0 7-1 7 22 7-11 7 4 7-20 7 20 7 3 7 7 7-15 7-14 7-5 7-4 7 18 7 2 7 24 7-16 7 5 7-15 7-5 7 23 7-14 7 16 7-21 7 49 7 7 7 25 7-24 7-2 7-51 7 5 7-15 7 8 7-30 7 16 7 5 7 45 7 11 7 13 7-19 7 1 7 2 7-10 7-9 7-4 7 18 7-23 7-22 7-13 7 16 7 1 7-3 7 6 7 30 7 10 7-27 7-4 7-28 7 24 7 2 7 19 7 8 7 1 7 24 7 13 7 14 7-4 7 2 7 13 7 5 7 3 7-3 7 13 7 18 7-2 7 7 7-5 7 8 7 1 7 8 7 13 7 9 7 4 7 4 7 9 7 8 7 6 7 2 7 6 7 3 7 6 7 3 7 8 7 8 7 9 7 5 7 1 7-3 7 2 7 2 7 1 7-8 7-9 7-8 7-8 7-9 7-18 7-18 7-23 7-19 7-22 7-24 7-21 7-19 7-20 7-29 7-20 7-19 7-18 7-27 7-24 7-22 7-21 7-15 7-13 7-16 7-21 7-17 7-14 7-12 7-15 7-9 7-9 7-8 7-11 7-8 7-12 7-7 7-3 7-4 7-5 7-5 7-1 7 4 7 1 7 6 7 2 7 8 7 2 7 11 7 4" stroke="#a10cff"/>
<path d="M5652,1201l7 11 7 8 7 14 7 15 7 18 7 18 7 18 7 19 7 22 7 27 7 28 7 28 7 23 7 24 7 25 7 19 7 18 7 13 7 14 7 7 7 9 7 3 7-8 7-20 7-30 7-26 7-32 7-41 7-53 7-50 7-45 7-41 7-43 7-43 7-42 7-37 7-29 7-24 7-22 7-23 7-22 7-19 7-19 7-10 7-6 7-2 7 0 7-2 7 2 7-5 7-1 7 5 7 7 7 3 7 1 7-8 7 0 7-5 7 12 7-4 7 9 7 1 7 15 7 1 7-14 7-11 7 4 7 8 7 7 7 4 7 9 7 17 7-4 7 16 7-8 7 2 7-14 7 2 7-18 7-3 7-10 7 5 7-13 7-4 7 13 7 22 7 16 7-1 7-12 7-7 7-18 7 1 7-22 7 0 7 5 7 11 7 46 7-22 7 5 7-39 7 37 7-25 7 7 7-18 7 17 7-1 7 8 7 5 7 9 7-18 7 5 7-25 7 21 7-13 7 8 7-33 7 19 7-15 7 12 7-12 7 25 7 4 7 4 7 5 7 18 7 16 7-12 7-4 7-6 7 15 7 7 7 11 7 10 7-1 7 7 7 3 7 22 7 6 7 12 7 3 7 4 7 9 7 6 7 9 7-2 7 7 7 8 7 9 7 8 7 14 7 13 7 0 7-2 7 3 7 9 7 5 7 2 7 3 7-1 7 6 7 4 7 10 7 2 7 4 7-1 7-4 7-8 7-8 7-7 7-12 7-9 7-19 7-19 7-21 7-23 7-18 7-22 7-15 7-21 7-21 7-24 7-21 7-19 7-25 7-19 7-24 7-17 7-21 7-16 7-18 7-17 7-17 7-17 7-16 7-13 7-8 7-8 7-11 7-14 7-11 7-10 7-5 7-5 7-2 7-8 7-4 7-5 7 3 7 2 7 3 7 1 7 6 7 2 7 6 7 1 7 8" stroke="#8b0aff"/>
<path d="M5652,1194l7 9 7 12 7 13 7 17 7 18 7 18 7 16 7 22 7 25 7 26 7 23 7 24 7 21 7 22 7 21 7 24 7 22 7 20 7 12 7 8 7 6 7-2 7-9 7-19 7-24 7-24 7-30 7-38 7-50 7-52 7-49 7-48 7-44 7-44 7-36 7-36 7-31 7-24 7-22 7-28 7-19 7-15 7-3 7-6 7-16 7-9 7-12 7 1 7-1 7 2 7 7 7 3 7 4 7-3 7 3 7-8 7-3 7-2 7 14 7 2 7-3 7-7 7 12 7 4 7-5 7 5 7 0 7 20 7-12 7-6 7-12 7-3 7 16 7 2 7-14 7-12 7 2 7 24 7 12 7-21 7-6 7-10 7 25 7 14 7-2 7-2 7-5 7 21 7 6 7-1 7 9 7-20 7-11 7-28 7 17 7 1 7 9 7-17 7-6 7-2 7 21 7 23 7 13 7 0 7-8 7 5 7-26 7-9 7 8 7 28 7 16 7-25 7-23 7-4 7-5 7 13 7-21 7-7 7-5 7 4 7 14 7 8 7 18 7 1 7 2 7-1 7 9 7 6 7 11 7 8 7-2 7 1 7-6 7 19 7 13 7 13 7-3 7 4 7 5 7 7 7 0 7 11 7 11 7 18 7 6 7 5 7-5 7 11 7 9 7 14 7-1 7 10 7 5 7 2 7-4 7 5 7 10 7 5 7 0 7 5 7 8 7 3 7 2 7-2 7 0 7-2 7-6 7-6 7-10 7-4 7-12 7-14 7-19 7-20 7-23 7-24 7-22 7-17 7-20 7-20 7-24 7-16 7-23 7-17 7-26 7-18 7-23 7-17 7-16 7-13 7-16 7-19 7-12 7-12 7-12 7-14 7-13 7-10 7-7 7-9 7-9 7-11 7-5 7-7 7-3 7-5 7-1 7-2 7 3 7 2 7 4 7 2 7 4 7-1 7 7 7 7" stroke="#7508ff"/>
<path d="M5652,1188l7 7 7 11 7 11 7 15 7 13 7 16 7 21 7 25 7 26 7 27 7 28 7 26 7 21 7 20 7 25 7 20 7 18 7 12 7 14 7 11 7 9 7 0 7-7 7-22 7-21 7-31 7-27 7-41 7-42 7-52 7-50 7-48 7-44 7-41 7-39 7-35 7-32 7-25 7-25 7-25 7-23 7-16 7-7 7-7 7-8 7-5 7-3 7 4 7-2 7-4 7-3 7 4 7 5 7 0 7-8 7 6 7 5 7 6 7 2 7-8 7 10 7-1 7 15 7-5 7-7 7-10 7-8 7 2 7 17 7 5 7 17 7-8 7 6 7-7 7-6 7 4 7-16 7-1 7-15 7 8 7-2 7 10 7-10 7 17 7-4 7 18 7-7 7 1 7 7 7-10 7-5 7-9 7 1 7 19 7 20 7 14 7-8 7-45 7-4 7-13 7 17 7-25 7 10 7 2 7 25 7 10 7 17 7 5 7-24 7-13 7-7 7 13 7 7 7-2 7 0 7-12 7-9 7 14 7 3 7-4 7-3 7 6 7 12 7-12 7-1 7 8 7 10 7 3 7 2 7-2 7 11 7 14 7 21 7 8 7 2 7 0 7 4 7-1 7 7 7 3 7 18 7 13 7 10 7 4 7 3 7 8 7 8 7 3 7 3 7 9 7 13 7 8 7-1 7 4 7 8 7 4 7 5 7-2 7 6 7 2 7 5 7 2 7 6 7 1 7 1 7-1 7-3 7-6 7-12 7-10 7-10 7-15 7-16 7-19 7-20 7-18 7-19 7-20 7-23 7-22 7-21 7-21 7-20 7-23 7-19 7-22 7-12 7-21 7-16 7-21 7-11 7-18 7-16 7-19 7-6 7-9 7-7 7-10 7-7 7-8 7-15 7-7 7-7 7-3 7-8 7-2 7-4 7-1 7 2 7 1 7 5 7 2 7 4 7 5 7 5 7 8" stroke="#5a07ff"/>
<path d="M5652,1182l7 9 7 13 7 12 7 11 7 13 7 18 7 17 7 22 7 26 7 26 7 25 7 21 7 26 7 24 7 24 7 21 7 19 7 15 7 11 7 7 7 9 7 1 7-6 7-20 7-20 7-27 7-29 7-40 7-45 7-48 7-51 7-43 7-42 7-40 7-42 7-36 7-32 7-30 7-27 7-24 7-17 7-17 7-12 7-11 7-4 7-3 7-5 7-2 7-5 7 3 7 1 7 10 7 0 7 2 7-3 7 9 7-7 7-2 7-7 7 5 7 0 7 1 7 1 7 4 7 15 7 0 7-2 7-14 7-4 7 12 7 19 7 2 7-10 7-7 7 14 7 0 7-2 7-6 7-11 7-20 7 5 7 14 7 20 7-1 7 6 7 1 7 14 7-21 7-10 7-3 7 23 7-13 7-26 7 2 7 12 7 8 7-3 7 14 7 18 7-3 7-4 7 3 7 2 7-16 7-20 7 0 7-9 7 14 7-2 7 30 7-15 7-1 7 2 7 13 7-17 7-21 7-8 7 7 7 19 7 7 7 18 7-5 7 0 7-10 7-8 7-3 7-8 7 16 7 12 7 19 7 8 7 8 7 6 7 6 7 3 7 2 7 9 7 19 7 12 7 7 7-3 7 9 7 2 7 4 7 2 7 9 7 14 7 16 7 11 7 4 7-2 7 1 7 5 7 9 7 7 7 7 7-1 7 5 7-1 7 8 7-1 7 4 7-1 7 0 7 2 7 0 7-2 7-7 7-11 7-9 7-12 7-14 7-16 7-21 7-14 7-20 7-18 7-22 7-18 7-21 7-21 7-18 7-16 7-23 7-22 7-25 7-20 7-20 7-15 7-12 7-15 7-13 7-16 7-11 7-12 7-10 7-13 7-6 7-6 7-6 7-11 7-10 7-8 7-10 7-6 7-5 7 3 7-1 7 1 7-1 7 4 7 3 7 3 7 7 7 12 7 8" stroke="#4511ff"/>
<path d="M5652,1177l7 8 7 12 7 8 7 13 7 16 7 21 7 16 7 19 7 24 7 26 7 25 7 24 7 24 7 23 7 23 7 24 7 17 7 18 7 11 7 16 7 8 7 5 7-12 7-16 7-25 7-23 7-30 7-39 7-46 7-54 7-49 7-48 7-40 7-42 7-40 7-34 7-33 7-28 7-28 7-24 7-17 7-14 7-11 7-9 7-2 7-4 7-4 7-6 7 0 7-6 7 5 7 3 7 3 7-1 7-4 7 2 7 4 7-1 7-4 7-8 7 10 7 4 7 7 7-4 7 3 7 0 7 9 7 5 7-3 7-3 7 5 7-3 7-3 7-1 7 10 7-1 7-2 7-2 7 12 7 4 7 5 7-10 7-11 7-13 7-4 7 8 7 11 7 3 7 5 7 0 7 11 7-4 7-2 7-24 7-6 7 3 7 10 7 10 7-13 7 0 7-31 7 19 7 8 7 28 7-12 7-8 7 8 7 9 7 3 7-18 7 3 7 15 7-3 7-17 7-21 7 16 7 7 7 6 7-10 7-1 7 3 7-1 7 5 7 7 7 13 7 5 7 2 7 4 7 5 7-1 7 3 7 6 7 6 7 10 7 5 7 13 7 7 7 9 7 6 7 11 7 7 7 6 7 1 7 5 7 0 7 5 7 8 7 13 7 8 7 4 7 7 7 1 7 10 7 3 7 7 7 4 7 5 7 4 7 4 7 1 7 4 7 3 7 8 7 4 7-2 7-4 7-4 7-5 7-6 7-10 7-12 7-14 7-18 7-20 7-19 7-14 7-16 7-20 7-24 7-20 7-19 7-18 7-15 7-21 7-21 7-25 7-17 7-18 7-18 7-14 7-15 7-10 7-16 7-13 7-14 7-10 7-6 7-9 7-10 7-12 7-10 7-7 7-3 7-2 7-5 7-7 7 0 7-2 7 1 7 1 7 2 7 6 7 3 7 7 7 6 7 6" stroke="#382dff"/>
<path d="M5652,1177l7 10 7 7 7 13 7 6 7 13 7 15 7 21 7 21 7 24 7 20 7 30 7 24 7 31 7 15 7 25 7 15 7 23 7 14 7 15 7 9 7 11 7 9 7-3 7-11 7-28 7-31 7-34 7-40 7-45 7-48 7-52 7-45 7-43 7-34 7-38 7-36 7-34 7-28 7-26 7-22 7-21 7-12 7-11 7-7 7-12 7-9 7-6 7 4 7 2 7-3 7-7 7 3 7 3 7 4 7-6 7-1 7-2 7 6 7-4 7 7 7-4 7 5 7-8 7-2 7-1 7 1 7 5 7 2 7-1 7 4 7 13 7 15 7-10 7-14 7-4 7 8 7 6 7-8 7 15 7 8 7 10 7-15 7-3 7 0 7 1 7 21 7-26 7-4 7-28 7 30 7 3 7-9 7-21 7 3 7 28 7 14 7 3 7-17 7 12 7-1 7 5 7-6 7-11 7 12 7 7 7 11 7-16 7-8 7 1 7 0 7-5 7-1 7 4 7 3 7-10 7 0 7 3 7 8 7 3 7-8 7-5 7 5 7 7 7 4 7-8 7 3 7-4 7 12 7 3 7 18 7 11 7 9 7 2 7 0 7 6 7 10 7 12 7 9 7 4 7 1 7 18 7 6 7 6 7-8 7 8 7 8 7 11 7 7 7 7 7 8 7 7 7 7 7 6 7 3 7 9 7 0 7 5 7 3 7 7 7 5 7 8 7 2 7 1 7-5 7 0 7-3 7-5 7-11 7-7 7-8 7-8 7-15 7-12 7-13 7-18 7-24 7-19 7-21 7-18 7-18 7-15 7-19 7-23 7-22 7-17 7-18 7-17 7-21 7-13 7-13 7-10 7-18 7-15 7-12 7-6 7-11 7-7 7-9 7-6 7-9 7-12 7-10 7-7 7-7 7-5 7-1 7 0 7 1 7-2 7 0 7 2 7 5 7 3 7 6 7 7 7 9" stroke="#2549ff"/>
<path d="M5652,1171l7 7 7 6 7 10 7 10 7 18 7 14 7 19 7 18 7 24 7 20 7 29 7 25 7 25 7 20 7 23 7 23 7 23 7 16 7 18 7 9 7 8 7-2 7-7 7-10 7-20 7-26 7-33 7-39 7-40 7-51 7-49 7-53 7-39 7-41 7-38 7-34 7-27 7-26 7-30 7-28 7-19 7-20 7-6 7-8 7-2 7-7 7-5 7-4 7-1 7-3 7-5 7-7 7-6 7 0 7 3 7 1 7 1 7-7 7 7 7 11 7 13 7 0 7-9 7-2 7-3 7 9 7 3 7 2 7-5 7-2 7-2 7-4 7 6 7 7 7 18 7-3 7 0 7 1 7-9 7-10 7-14 7 5 7 3 7 5 7 0 7 8 7 10 7 15 7 8 7-20 7-8 7-12 7 13 7 11 7-8 7-26 7-14 7 19 7 13 7 12 7 0 7 22 7-13 7-4 7-8 7 9 7 14 7 3 7-15 7-10 7-17 7 16 7-3 7 12 7-5 7-7 7 10 7-7 7 0 7-13 7 5 7 8 7-1 7 4 7 8 7 7 7 0 7-1 7 7 7 9 7 10 7 8 7 15 7 5 7 0 7 0 7 10 7 8 7 5 7 3 7 9 7 5 7 8 7 11 7 3 7 6 7 6 7 11 7 3 7 8 7 3 7 10 7-3 7 7 7 6 7 6 7 3 7 6 7 7 7 9 7 2 7 6 7 2 7 8 7-5 7 1 7-7 7-6 7-11 7-9 7-7 7-13 7-12 7-18 7-20 7-21 7-17 7-20 7-18 7-20 7-18 7-19 7-16 7-14 7-20 7-19 7-26 7-12 7-17 7-10 7-17 7-10 7-15 7-11 7-13 7-9 7-10 7-9 7-9 7-6 7-8 7-6 7-7 7-4 7-5 7 2 7-3 7 0 7-6 7-1 7 3 7 2 7 8 7 3 7 10 7 6" stroke="#0f66ff"/>
<path d="M5652,1166l7 3 7 4 7 9 7 14 7 13 7 16 7 15 7 23 7 22 7 24 7 26 7 26 7 21 7 19 7 22 7 25 7 23 7 16 7 16 7 12 7 13 7 4 7-4 7-14 7-20 7-27 7-32 7-41 7-44 7-48 7-51 7-48 7-43 7-39 7-37 7-39 7-34 7-26 7-23 7-22 7-22 7-12 7-13 7-7 7-11 7-9 7-10 7-2 7 4 7 4 7 2 7-1 7-2 7-2 7-6 7 0 7-2 7-3 7-2 7-2 7 0 7-1 7 4 7 7 7 8 7 5 7-6 7-7 7 0 7 8 7 16 7-10 7 4 7-6 7 0 7 1 7 1 7 3 7 3 7-7 7 7 7-7 7 2 7-4 7 12 7-8 7 7 7-20 7 18 7 1 7 16 7-13 7 1 7-5 7 22 7 0 7 2 7-11 7 11 7-2 7 7 7-29 7 5 7-24 7 10 7-5 7 21 7 5 7 0 7 10 7-9 7 11 7-13 7 25 7-12 7-7 7-21 7 1 7 7 7 1 7-4 7 2 7 1 7 6 7 4 7 6 7 7 7 7 7-5 7 8 7-4 7 13 7 12 7 13 7 6 7-4 7 12 7 10 7 14 7 8 7 8 7 2 7-1 7 5 7 4 7 15 7 10 7 10 7-1 7 7 7 9 7 11 7 0 7 5 7 6 7 11 7-2 7 3 7 2 7 8 7 7 7 4 7 4 7 3 7 2 7-4 7-6 7-10 7-3 7-10 7-8 7-18 7-13 7-11 7-13 7-20 7-19 7-19 7-16 7-18 7-19 7-17 7-18 7-21 7-24 7-18 7-15 7-16 7-15 7-13 7-10 7-15 7-16 7-10 7-10 7-6 7-11 7-8 7-8 7-5 7-6 7-6 7-3 7-8 7-6 7-9 7 0 7-1 7 0 7 2 7 2 7 3 7 2 7 9 7 7 7 6" stroke="#0985ff"/>
<path d="M5652,1163l7 2 7 3 7 10 7 14 7 15 7 14 7 16 7 19 7 28 7 24 7 26 7 21 7 20 7 23 7 24 7 24 7 20 7 15 7 16 7 12 7 11 7 3 7-6 7-12 7-17 7-26 7-34 7-39 7-42 7-50 7-49 7-46 7-42 7-41 7-40 7-36 7-35 7-29 7-23 7-25 7-20 7-22 7-8 7-11 7-8 7-6 7-6 7-1 7-2 7 0 7-2 7-5 7 1 7-3 7-1 7-1 7-3 7 0 7 3 7 1 7 1 7-2 7 0 7-3 7-2 7 11 7 7 7 5 7-4 7 2 7 2 7-8 7 2 7-1 7 5 7-1 7-6 7 2 7 5 7 7 7 18 7 10 7-4 7-11 7-21 7-5 7 6 7 11 7-7 7-3 7-1 7 23 7-4 7 6 7-1 7-7 7 4 7-4 7 12 7-10 7 2 7 0 7 3 7 8 7 1 7-8 7 8 7-10 7 3 7-9 7-5 7-1 7 4 7 3 7 2 7-4 7-1 7-2 7 0 7 15 7 3 7 2 7 1 7 7 7 12 7-3 7-5 7 7 7 1 7 16 7-5 7 11 7-1 7 5 7 6 7 14 7 8 7 0 7 7 7 4 7 10 7 9 7 5 7 8 7-6 7 5 7 7 7 13 7 14 7 9 7 5 7 4 7 5 7 8 7 4 7 2 7 5 7 8 7 7 7 1 7 9 7 7 7 6 7-3 7-4 7-5 7-8 7-2 7-6 7-3 7-12 7-10 7-15 7-12 7-16 7-14 7-17 7-17 7-17 7-21 7-19 7-22 7-15 7-14 7-16 7-18 7-22 7-18 7-17 7-14 7-13 7-10 7-8 7-10 7-9 7-8 7-8 7-9 7-10 7-6 7-9 7-6 7-8 7-3 7-3 7-1 7-6 7 0 7-3 7 3 7 1 7 4 7 5 7 3 7 5 7 6" stroke="#08a4ff"/>
<path d="M5652,1160l7 6 7 3 7 7 7 10 7 14 7 15 7 11 7 20 7 19 7 24 7 29 7 27 7 25 7 20 7 21 7 21 7 22 7 21 7 16 7 13 7 6 7 2 7-4 7-11 7-13 7-28 7-33 7-42 7-44 7-46 7-49 7-44 7-48 7-36 7-38 7-37 7-35 7-28 7-26 7-31 7-23 7-12 7-6 7-11 7-9 7-7 7-7 7-6 7-6 7-2 7 1 7-3 7-1 7-3 7 3 7-1 7-2 7-1 7-1 7-3 7 1 7 4 7 9 7 0 7 0 7-7 7 0 7 4 7 8 7 1 7 6 7-2 7 2 7 1 7 0 7 3 7-7 7 5 7-2 7-5 7-3 7-1 7 14 7 4 7 18 7-3 7 6 7-12 7 13 7-1 7 1 7-16 7 6 7 4 7-15 7-17 7-3 7 38 7 12 7-2 7-21 7-9 7-3 7 1 7-3 7 20 7-17 7 8 7-8 7 6 7-6 7-11 7 13 7 2 7 1 7 3 7 2 7 5 7-5 7 3 7 6 7-2 7-3 7-9 7 7 7 9 7 16 7 4 7 3 7-10 7-4 7-1 7 18 7 21 7 13 7 7 7-4 7 6 7 6 7 12 7 3 7 9 7 5 7 14 7 5 7 9 7 2 7 6 7 2 7 6 7 10 7 13 7 10 7 6 7 4 7 5 7 3 7 4 7 5 7 9 7 7 7 4 7 3 7 4 7 1 7 1 7-8 7-8 7-8 7-7 7-5 7-12 7-15 7-17 7-17 7-12 7-16 7-16 7-19 7-15 7-18 7-17 7-17 7-21 7-19 7-18 7-11 7-13 7-13 7-15 7-11 7-11 7-12 7-14 7-7 7-8 7-6 7-9 7-7 7-7 7-11 7-8 7-8 7-4 7-7 7-7 7-4 7 3 7 1 7-1 7 2 7 2 7 7 7 3 7 11 7 5" stroke="#06c6ff"/>
<path d="M5652,1154l7 2 7 4 7 8 7 10 7 13 7 13 7 11 7 22 7 17 7 29 7 21 7 26 7 21 7 26 7 26 7 24 7 17 7 16 7 14 7 13 7 15 7 5 7 2 7-12 7-13 7-27 7-34 7-42 7-49 7-43 7-47 7-43 7-44 7-43 7-38 7-37 7-30 7-32 7-28 7-25 7-21 7-20 7-16 7-12 7-8 7-8 7-1 7-2 7-1 7-9 7-10 7-5 7 0 7 0 7 0 7-4 7 2 7 3 7 1 7 1 7 0 7 5 7 7 7-8 7-11 7-6 7 0 7 15 7-2 7 0 7-12 7 12 7 5 7 9 7-8 7 9 7 1 7 10 7-5 7 2 7-8 7-2 7-2 7 8 7 7 7 3 7-4 7-2 7-2 7 6 7 2 7 7 7 13 7-4 7-7 7-6 7-8 7 12 7-13 7 12 7-10 7-1 7-4 7 2 7 15 7 15 7-1 7-18 7-14 7 1 7 8 7 1 7-12 7 7 7-1 7 9 7-1 7 10 7-6 7-6 7-3 7 8 7-1 7 2 7-4 7 10 7 9 7 12 7 8 7 3 7-1 7-5 7 2 7 11 7 16 7 13 7 7 7 3 7 6 7 9 7 3 7 2 7 5 7 11 7 6 7 6 7 6 7 15 7 12 7 13 7 9 7 3 7 2 7 4 7 6 7 6 7 4 7 11 7 4 7 4 7 4 7 4 7 6 7 3 7 4 7 2 7-6 7-3 7-12 7-7 7-8 7-9 7-8 7-16 7-14 7-19 7-14 7-16 7-17 7-19 7-20 7-21 7-20 7-14 7-13 7-13 7-18 7-12 7-12 7-15 7-13 7-11 7-7 7-12 7-10 7-9 7-4 7-8 7-8 7-8 7-7 7-8 7-5 7-4 7-2 7-5 7 0 7-1 7-4 7-4 7-1 7 10 7 4 7 5 7-1 7 6" stroke="#05e4f8"/>
<path d="M5652,1151l7 1 7 5 7 6 7 13 7 9 7 13 7 9 7 18 7 24 7 27 7 27 7 23 7 23 7 19 7 22 7 26 7 21 7 18 7 16 7 12 7 14 7-1 7-1 7-12 7-12 7-27 7-30 7-38 7-38 7-51 7-48 7-50 7-43 7-40 7-38 7-36 7-35 7-29 7-28 7-25 7-24 7-17 7-12 7-9 7-16 7-11 7-13 7 4 7-4 7 2 7-12 7-8 7-2 7 2 7 1 7-6 7 4 7 0 7 4 7-5 7 4 7 1 7-2 7 0 7 6 7 0 7 4 7-4 7 6 7-2 7-1 7-3 7 0 7 11 7 0 7 3 7-2 7 4 7 18 7-2 7 2 7-1 7-1 7 2 7-14 7 6 7-6 7 1 7 1 7 1 7-4 7 13 7 4 7 10 7-7 7-7 7-10 7 1 7 16 7 1 7-2 7-5 7 19 7-3 7-10 7-9 7 0 7-4 7-9 7-9 7 6 7-2 7 18 7 8 7 16 7-22 7-6 7-9 7 16 7 7 7 14 7-14 7-2 7-11 7 20 7 4 7 2 7-1 7 2 7 9 7 4 7 4 7 1 7 6 7 10 7 13 7 6 7 9 7 6 7 7 7 10 7 5 7 7 7-1 7 7 7 8 7 8 7 7 7 9 7 8 7 8 7 6 7 7 7 7 7 9 7 8 7 4 7 7 7 8 7 12 7 4 7 7 7 2 7 2 7-1 7 1 7 0 7-7 7-6 7-7 7-6 7-10 7-14 7-16 7-11 7-12 7-14 7-18 7-17 7-17 7-21 7-20 7-17 7-15 7-14 7-15 7-13 7-12 7-12 7-16 7-16 7-8 7-8 7-7 7-12 7-6 7-9 7-7 7-9 7-7 7-4 7-6 7-8 7-10 7-7 7-2 7-1 7 0 7-1 7-3 7 0 7 6 7 5 7 11 7 5 7 7" stroke="#05f5d5"/>
<path d="M5652,1143l7 1 7 1 7 8 7 8 7 12 7 13 7 17 7 18 7 21 7 21 7 26 7 24 7 24 7 21 7 22 7 20 7 23 7 16 7 26 7 13 7 17 7-3 7 1 7-12 7-10 7-26 7-33 7-44 7-43 7-50 7-46 7-50 7-37 7-39 7-36 7-36 7-36 7-25 7-30 7-25 7-25 7-19 7-16 7-15 7-14 7-12 7-9 7-8 7-5 7-6 7 0 7-4 7-2 7 0 7 4 7 4 7 1 7-6 7-4 7-2 7 1 7-2 7-6 7 5 7 1 7 4 7 2 7 4 7 8 7-1 7 0 7 5 7 5 7 7 7-7 7 1 7-4 7 6 7 1 7 0 7-5 7-2 7 4 7-3 7-5 7 2 7 11 7 14 7-11 7 2 7 2 7 10 7-11 7 0 7 4 7 16 7-3 7-10 7-9 7-2 7 10 7 0 7-1 7 8 7 9 7-13 7-2 7-15 7 16 7-12 7 3 7-3 7-4 7 8 7 0 7 15 7-1 7 0 7 1 7-3 7-9 7 6 7 6 7 14 7-3 7-6 7-3 7 0 7 8 7-2 7 11 7 11 7 14 7 2 7 3 7 10 7 12 7 7 7 7 7 4 7 9 7 0 7 4 7-1 7 12 7 8 7 12 7 6 7 9 7 8 7 13 7 9 7 6 7 8 7 8 7 8 7 0 7 7 7 8 7 6 7 4 7 7 7 9 7 3 7 0 7-2 7-2 7-5 7-6 7-6 7-5 7-6 7-14 7-14 7-18 7-11 7-14 7-15 7-18 7-13 7-16 7-14 7-20 7-14 7-21 7-16 7-16 7-13 7-11 7-10 7-8 7-10 7-11 7-11 7-8 7-7 7-7 7-7 7-9 7-5 7-5 7-3 7-4 7-11 7-8 7-5 7 1 7-1 7-1 7-1 7 3 7 5 7 2 7 6 7 5 7 8" stroke="#05fca3"/>
<path d="M5652,1140l7-1 7 5 7 3 7 9 7 13 7 16 7 11 7 16 7 17 7 25 7 23 7 25 7 23 7 20 7 24 7 21 7 24 7 21 7 20 7 15 7 11 7 2 7-2 7-7 7-14 7-25 7-34 7-38 7-42 7-44 7-48 7-45 7-43 7-41 7-39 7-37 7-29 7-30 7-33 7-32 7-26 7-16 7-17 7-11 7-12 7-10 7-7 7-8 7-6 7-13 7-2 7-4 7 3 7-1 7 7 7 0 7-6 7-9 7-4 7-4 7 0 7 4 7 9 7 3 7-9 7 4 7 0 7 4 7 1 7 3 7 13 7-1 7 11 7-5 7-5 7-10 7-1 7 8 7-7 7-1 7-3 7 14 7 6 7 11 7 0 7 3 7-10 7-4 7-2 7 9 7 21 7 4 7-4 7-19 7 15 7 16 7 4 7-11 7-12 7 5 7-9 7 10 7 1 7-2 7-12 7 2 7 3 7-1 7 0 7-1 7-3 7-4 7-1 7 9 7-5 7 6 7-2 7 7 7-7 7-2 7 0 7 10 7 3 7-4 7-9 7-5 7 6 7 10 7 11 7 8 7 12 7-1 7 5 7 5 7 13 7 6 7 6 7 5 7 7 7 2 7 10 7 6 7 12 7 5 7 3 7 4 7 7 7 10 7 10 7 5 7 11 7 8 7 12 7 8 7 9 7 9 7 7 7 6 7 8 7 8 7 8 7 6 7 2 7 3 7 4 7 1 7-1 7-10 7-9 7-4 7-4 7-6 7-11 7-13 7-14 7-16 7-15 7-16 7-15 7-13 7-14 7-18 7-18 7-19 7-14 7-13 7-12 7-16 7-13 7-11 7-7 7-10 7-9 7-8 7-10 7-4 7-10 7-3 7-8 7-4 7-7 7-8 7-7 7-7 7-6 7-5 7-3 7 0 7-2 7 1 7 1 7 5 7 6 7 9 7 8 7 3" stroke="#04f359"/>
<path d="M5652,1133l7 0 7 5 7 4 7 7 7 12 7 13 7 12 7 15 7 20 7 22 7 24 7 26 7 28 7 23 7 23 7 17 7 20 7 18 7 18 7 19 7 14 7 10 7-1 7-8 7-16 7-25 7-34 7-43 7-42 7-44 7-44 7-50 7-47 7-42 7-37 7-32 7-30 7-30 7-31 7-26 7-27 7-18 7-20 7-13 7-13 7-10 7-9 7-10 7-8 7-5 7-11 7-5 7-2 7 11 7-1 7-4 7-8 7 5 7 4 7 6 7-10 7-9 7-4 7 2 7 12 7-2 7 5 7-2 7 6 7 9 7-2 7-5 7-6 7 0 7 2 7 13 7-6 7 7 7-1 7 12 7 5 7-6 7-2 7 10 7-5 7-6 7-6 7 0 7 3 7-9 7 0 7 15 7 2 7 16 7-20 7 10 7 2 7 8 7-8 7-6 7 6 7 1 7-9 7 5 7 6 7 13 7-4 7-3 7 4 7-2 7 6 7-5 7 2 7-5 7-9 7-10 7-6 7 0 7 9 7-1 7 8 7-1 7 7 7 8 7 6 7 5 7-3 7 2 7 6 7 10 7 4 7 6 7 6 7 6 7 3 7 6 7 12 7 7 7 2 7 2 7 9 7 15 7 3 7 8 7-1 7 11 7 4 7 10 7 12 7 2 7 12 7 6 7 17 7 6 7 6 7 10 7 7 7 10 7 5 7 6 7 10 7 9 7 8 7 3 7-3 7-4 7-8 7-3 7-6 7-2 7-2 7-8 7-6 7-12 7-15 7-14 7-15 7-12 7-18 7-15 7-15 7-19 7-13 7-15 7-14 7-18 7-14 7-8 7-10 7-16 7-13 7-8 7-4 7-6 7-12 7-6 7-10 7-3 7-9 7-5 7-8 7-2 7-5 7-7 7-6 7-9 7-1 7-1 7 2 7 1 7-1 7 5 7 5 7 4 7 6 7 5" stroke="#1bef2a"/>
<path d="M5652,1129l7 1 7 5 7 5 7 5 7 8 7 10 7 15 7 17 7 24 7 23 7 20 7 19 7 22 7 24 7 23 7 20 7 22 7 23 7 20 7 22 7 12 7 8 7-2 7-6 7-13 7-27 7-36 7-40 7-44 7-41 7-48 7-44 7-46 7-41 7-37 7-33 7-33 7-32 7-29 7-28 7-25 7-21 7-20 7-14 7-14 7-14 7-14 7-10 7-5 7-4 7-4 7-4 7-2 7-6 7 4 7-2 7 2 7-4 7 3 7 1 7 2 7 1 7-4 7 2 7 0 7 12 7-2 7 0 7-6 7 0 7 7 7 0 7 5 7-7 7 3 7 0 7-1 7 4 7-5 7 7 7 0 7 1 7 0 7 1 7 7 7 2 7 0 7 2 7 8 7 14 7 1 7-3 7-19 7-2 7-6 7-2 7 4 7 11 7 6 7 4 7-3 7-3 7-5 7-7 7 15 7 3 7 0 7-1 7-1 7 4 7 5 7-7 7 5 7-11 7 0 7 5 7-3 7 9 7-8 7 6 7-8 7 7 7-3 7 5 7-1 7 6 7 6 7 0 7 1 7 3 7 12 7 6 7 4 7 3 7 3 7 15 7-1 7 12 7 5 7 19 7 3 7 2 7 2 7 9 7 8 7 8 7 4 7 7 7 8 7 15 7 8 7 11 7 8 7 10 7 6 7 11 7 14 7 10 7 7 7 5 7 1 7-1 7 5 7 6 7 6 7-2 7 1 7-5 7-5 7-8 7-4 7-5 7-10 7-8 7-13 7-10 7-15 7-17 7-15 7-15 7-13 7-14 7-14 7-17 7-18 7-16 7-10 7-11 7-9 7-12 7-10 7-7 7-5 7-9 7-10 7-8 7-6 7-4 7-8 7-6 7-6 7-5 7-2 7-8 7-7 7-8 7-3 7-1 7-1 7 3 7 1 7 4 7 2 7 4 7 7 7 5" stroke="#40ee0c"/>
<path d="M5652,1122l7-2 7 0 7 3 7 6 7 13 7 15 7 13 7 18 7 19 7 23 7 23 7 24 7 24 7 25 7 24 7 23 7 21 7 16 7 19 7 21 7 16 7 0 7-3 7-6 7-6 7-27 7-36 7-41 7-43 7-41 7-48 7-42 7-45 7-39 7-41 7-34 7-35 7-30 7-30 7-25 7-23 7-21 7-20 7-19 7-16 7-14 7-9 7-9 7-7 7-9 7-6 7-2 7-6 7-1 7-1 7 2 7-5 7-6 7 1 7 1 7 3 7-1 7 1 7 0 7 1 7-3 7 5 7-3 7 1 7-7 7 6 7 9 7 15 7 3 7-8 7 1 7 8 7 8 7-8 7 3 7 5 7 3 7 0 7-3 7 9 7-11 7 4 7-2 7 15 7 3 7-1 7-6 7 2 7 2 7-4 7 3 7 1 7 3 7-4 7-5 7-4 7 2 7 4 7 23 7 0 7-2 7-9 7-9 7 13 7-12 7 8 7-4 7 9 7-2 7 0 7 4 7 1 7-9 7-8 7-7 7 7 7 4 7 9 7-1 7-1 7-4 7 1 7 5 7 5 7 9 7 9 7 8 7 3 7 2 7 6 7 9 7 8 7 8 7 5 7 3 7 7 7 8 7 15 7 4 7 11 7 1 7 4 7 6 7 12 7 11 7 10 7 7 7 14 7 7 7 7 7 8 7 8 7 12 7 7 7 11 7 5 7 9 7 5 7 2 7 2 7 0 7-2 7-6 7-6 7-3 7-9 7-4 7-7 7-5 7-11 7-13 7-15 7-15 7-17 7-11 7-17 7-14 7-22 7-12 7-15 7-11 7-14 7-13 7-6 7-8 7-8 7-7 7-10 7-4 7-9 7-1 7-8 7-6 7-11 7-6 7-4 7-6 7-12 7-7 7-6 7 2 7-1 7-3 7-1 7 1 7 3 7 2 7 3 7 5 7 7 7 6" stroke="#72ee08"/>
<path d="M5652,1121l7-4 7 0 7 4 7 6 7 11 7 13 7 9 7 13 7 19 7 27 7 27 7 26 7 19 7 22 7 24 7 23 7 20 7 19 7 22 7 17 7 15 7 7 7 2 7-5 7-12 7-23 7-35 7-37 7-44 7-47 7-52 7-46 7-44 7-39 7-36 7-36 7-30 7-36 7-28 7-31 7-18 7-22 7-20 7-16 7-12 7-9 7-12 7-13 7-14 7-6 7-5 7 1 7-9 7 7 7-1 7-1 7-5 7-5 7 3 7-5 7 1 7 0 7 5 7 3 7-4 7-1 7 3 7-5 7 7 7 0 7 12 7 0 7 1 7 5 7 3 7 0 7 4 7-1 7-1 7 1 7-4 7 2 7-8 7 2 7 7 7 12 7 2 7-1 7-3 7 6 7 0 7 3 7-5 7 7 7 5 7-5 7-4 7-10 7 16 7 4 7 2 7-2 7-8 7 11 7-7 7 17 7-2 7 9 7-11 7-4 7-3 7 6 7 3 7 1 7 0 7-5 7-2 7 5 7 2 7-7 7-7 7-1 7 9 7 3 7 3 7 5 7 1 7 8 7-2 7 8 7-3 7 3 7 6 7 7 7 11 7-1 7 11 7 6 7 11 7 2 7 10 7 4 7 9 7 3 7 9 7 5 7 5 7 4 7 12 7 15 7 15 7 9 7 7 7 6 7 4 7 7 7 14 7 11 7 11 7 5 7 8 7 4 7 6 7 4 7 1 7-3 7-6 7 2 7-2 7 1 7-11 7-7 7-9 7-4 7-9 7-12 7-16 7-14 7-14 7-17 7-12 7-17 7-12 7-17 7-12 7-12 7-15 7-8 7-12 7-5 7-11 7-7 7-9 7-7 7-4 7-7 7-3 7-5 7-3 7-7 7-7 7-8 7-7 7-9 7-2 7-2 7 0 7-3 7-2 7-2 7-2 7-1 7 4 7 9 7 8 7 7" stroke="#a6ee0a"/>
<path d="M5652,1117l7-2 7-4 7 3 7 4 7 13 7 11 7 13 7 14 7 22 7 23 7 23 7 19 7 24 7 24 7 25 7 21 7 22 7 17 7 22 7 18 7 19 7 6 7 5 7-6 7-9 7-27 7-36 7-40 7-42 7-40 7-50 7-47 7-44 7-36 7-36 7-38 7-35 7-29 7-27 7-28 7-34 7-21 7-14 7-13 7-16 7-14 7-10 7-9 7-9 7-4 7-6 7-6 7-2 7-5 7 2 7-9 7 1 7-4 7 2 7 2 7-1 7-3 7-1 7-2 7 8 7 0 7 1 7 3 7 1 7 12 7 2 7 5 7-9 7-4 7 3 7 5 7 4 7 4 7-1 7-3 7-9 7 5 7 9 7 10 7 1 7 1 7-6 7-1 7 4 7 0 7-2 7 0 7 6 7 6 7 6 7-1 7-2 7-16 7 1 7 5 7 11 7-2 7-4 7 3 7 3 7 0 7 6 7-6 7 4 7-13 7 6 7 1 7 4 7-2 7-5 7 1 7 6 7 6 7 3 7-8 7 2 7-9 7 5 7-1 7 3 7 5 7 3 7 5 7 0 7 6 7-1 7 6 7 7 7 14 7 6 7 3 7 4 7 4 7 5 7 4 7 10 7 11 7 7 7 10 7 3 7 9 7 8 7 11 7 11 7 7 7 5 7 10 7 7 7 10 7 11 7 14 7 9 7 9 7 8 7 7 7 6 7 4 7 8 7 6 7 5 7 1 7-4 7-7 7-7 7-5 7-7 7-3 7-6 7-2 7-10 7-15 7-14 7-18 7-9 7-17 7-16 7-15 7-12 7-10 7-15 7-10 7-12 7-10 7-11 7-4 7-5 7-8 7-12 7-6 7-4 7-5 7-7 7-8 7-4 7-7 7-6 7-4 7-6 7-7 7-9 7-5 7 0 7-3 7 3 7 0 7 3 7 2 7 6 7 4 7 5 7 3" stroke="#d7e604"/>
<path d="M5652,1116l7-3 7-4 7 1 7 1 7 13 7 8 7 13 7 11 7 21 7 26 7 28 7 20 7 21 7 21 7 26 7 22 7 21 7 18 7 25 7 19 7 18 7 4 7 3 7-4 7-10 7-25 7-32 7-39 7-40 7-48 7-48 7-46 7-44 7-38 7-42 7-33 7-34 7-28 7-32 7-32 7-26 7-20 7-16 7-15 7-15 7-12 7-12 7-13 7-10 7-3 7-1 7-1 7-2 7-2 7-5 7 0 7 2 7-3 7-7 7 0 7 1 7 3 7-3 7 4 7 3 7-1 7-1 7-3 7-3 7-2 7 7 7 8 7 1 7 2 7-5 7 0 7 3 7 4 7 0 7-3 7 8 7 9 7 5 7-3 7 0 7 1 7-2 7-4 7 2 7 11 7 6 7-1 7-7 7 6 7-1 7 8 7-7 7-5 7 1 7 17 7 11 7-2 7-12 7-1 7-5 7-11 7 3 7 4 7 10 7 5 7-5 7 4 7-2 7 7 7-5 7-9 7-8 7 0 7 6 7 3 7 3 7-10 7 11 7-4 7 8 7-5 7 8 7 8 7 7 7 8 7-3 7-1 7 0 7 11 7 15 7 10 7 8 7-1 7 8 7 6 7 10 7 4 7 9 7 5 7 6 7 9 7 6 7 3 7 7 7 10 7 16 7 9 7 9 7 8 7 5 7 11 7 7 7 12 7 6 7 7 7 6 7 11 7 9 7 6 7-1 7-3 7-4 7-4 7-3 7-8 7-3 7-8 7-1 7-3 7-3 7-13 7-13 7-20 7-12 7-17 7-9 7-13 7-13 7-17 7-12 7-11 7-8 7-13 7-8 7-9 7-7 7-9 7-7 7-7 7-1 7-6 7 0 7-7 7-2 7-8 7-7 7-8 7-4 7-5 7-8 7-7 7-1 7-2 7 0 7-3 7 3 7 2 7 3 7 5 7 9 7 7" stroke="#ffd800"/>
<path d="M5652,1106l7-7 7-1 7 5 7 5 7 9 7 8 7 15 7 12 7 17 7 17 7 28 7 26 7 21 7 21 7 24 7 22 7 22 7 19 7 24 7 22 7 17 7 7 7 3 7-5 7-8 7-25 7-33 7-41 7-38 7-46 7-46 7-48 7-39 7-38 7-38 7-38 7-33 7-32 7-29 7-28 7-29 7-21 7-20 7-13 7-16 7-13 7-13 7-9 7-5 7-6 7-2 7-6 7-2 7-7 7 2 7 0 7 2 7-4 7-3 7-2 7-1 7-1 7-1 7 4 7 7 7 0 7-5 7-1 7 2 7 6 7 3 7 7 7 1 7 5 7 0 7 0 7 0 7 1 7-3 7 2 7-7 7 2 7 4 7 4 7 11 7-10 7 4 7 0 7 16 7 4 7 3 7-12 7 5 7-4 7 4 7-4 7-1 7 4 7-2 7 6 7-2 7 9 7-5 7 8 7-4 7-1 7-10 7 6 7 6 7 9 7-13 7 1 7-7 7 7 7 2 7 2 7 2 7-8 7-2 7-9 7 7 7-2 7 4 7 4 7 1 7 0 7 1 7 9 7 12 7 1 7 5 7-1 7 8 7 7 7 11 7 4 7 6 7 4 7 5 7 6 7 6 7 6 7 11 7 7 7 13 7 4 7 8 7 3 7 9 7 10 7 12 7 9 7 8 7 11 7 12 7 12 7 4 7 8 7 7 7 12 7 4 7 6 7 1 7 6 7 0 7-1 7-6 7-1 7-3 7-1 7-2 7-6 7-5 7-10 7-4 7-11 7-12 7-18 7-12 7-13 7-15 7-14 7-12 7-9 7-11 7-11 7-13 7-10 7-8 7-7 7-10 7-7 7-3 7-4 7-5 7-6 7-4 7-6 7 0 7-7 7-4 7-10 7-6 7-8 7-6 7-5 7 0 7-2 7-2 7-4 7 2 7 4 7 7 7 5 7 7 7 5" stroke="#ffb100"/>
<path d="M5652,1100l7-8 7-4 7 3 7 6 7 11 7 10 7 14 7 15 7 15 7 20 7 23 7 25 7 24 7 22 7 24 7 24 7 24 7 15 7 18 7 20 7 21 7 11 7 2 7-2 7-6 7-22 7-33 7-43 7-40 7-45 7-49 7-48 7-44 7-39 7-37 7-34 7-31 7-33 7-28 7-28 7-26 7-22 7-16 7-14 7-16 7-15 7-10 7-10 7-9 7-6 7-3 7-6 7-3 7-2 7 0 7-6 7 1 7 2 7 2 7-1 7-8 7 4 7 0 7 6 7-5 7-5 7-1 7 4 7 0 7 9 7 3 7 1 7 0 7 1 7 2 7-6 7 3 7-1 7 4 7-2 7 11 7 6 7 9 7-9 7 7 7 5 7 5 7-8 7 6 7 6 7 3 7-15 7 7 7 2 7 2 7-9 7 2 7 7 7 10 7-8 7 1 7-10 7 2 7 3 7 6 7 1 7-6 7-6 7-2 7 0 7 4 7 7 7 3 7 0 7-3 7 1 7 3 7 4 7-2 7-5 7 1 7 2 7 4 7-2 7 0 7 9 7 3 7 5 7 1 7 5 7 4 7 0 7 0 7 5 7 6 7 12 7 11 7 10 7 4 7 0 7 8 7 4 7 11 7 6 7 12 7 3 7 4 7 5 7 16 7 11 7 11 7 5 7 10 7 7 7 12 7 10 7 13 7 5 7 5 7 6 7 8 7 8 7 4 7 7 7 2 7-2 7-6 7-4 7-6 7-5 7-2 7-3 7 1 7-6 7-6 7-13 7-12 7-14 7-15 7-11 7-12 7-13 7-14 7-14 7-11 7-9 7-10 7-9 7-10 7-8 7-6 7-4 7-2 7-5 7-2 7-7 7-6 7-10 7-1 7-6 7-3 7-8 7-8 7-6 7-6 7-2 7 1 7-1 7 1 7-7 7-1 7 0 7 5 7 7 7 6 7 6" stroke="#ff8f00"/>
<path d="M5652,1101l7-8 7-6 7-3 7 4 7 7 7 7 7 11 7 14 7 22 7 19 7 28 7 22 7 25 7 20 7 27 7 22 7 23 7 21 7 25 7 22 7 15 7 9 7 3 7-1 7-7 7-28 7-34 7-42 7-39 7-44 7-47 7-44 7-43 7-40 7-36 7-35 7-27 7-32 7-32 7-30 7-26 7-18 7-21 7-16 7-15 7-14 7-10 7-11 7-5 7-9 7-5 7-2 7-2 7-3 7-5 7 0 7-4 7 2 7-2 7 3 7 0 7 3 7-1 7-4 7-2 7 7 7 4 7 2 7-4 7-2 7 1 7 1 7 0 7 10 7 1 7 9 7-8 7 4 7 4 7 6 7 1 7-1 7-5 7 5 7-8 7 5 7-8 7 12 7-2 7 5 7 4 7 7 7 4 7-8 7-8 7 1 7 1 7 11 7 5 7 0 7-2 7 0 7 13 7-1 7 5 7-8 7-6 7-7 7 1 7 7 7-1 7 4 7 1 7-6 7 0 7 1 7 12 7-9 7-1 7 0 7 9 7-4 7-4 7-5 7 7 7 2 7 1 7 1 7 10 7 13 7 10 7 0 7 4 7 6 7 7 7 6 7 7 7 5 7 3 7 2 7 6 7 4 7 8 7 9 7 13 7 7 7 8 7 2 7 7 7 5 7 10 7 9 7 11 7 12 7 11 7 9 7 10 7 7 7 9 7 10 7 12 7 7 7 2 7-1 7-2 7-2 7-1 7-3 7-7 7-8 7 0 7 0 7 0 7-8 7-9 7-11 7-11 7-11 7-12 7-10 7-13 7-13 7-13 7-14 7-14 7-11 7-8 7-2 7-3 7-6 7-9 7-6 7-5 7-5 7-5 7-4 7-3 7-4 7-2 7-5 7-9 7-7 7-4 7-5 7-8 7-4 7-5 7 0 7-5 7 3 7-2 7 3 7 2 7 10 7 6 7 6" stroke="#ff7500"/>
<path d="M5652,1098l7-9 7-7 7-2 7 3 7 6 7 11 7 9 7 14 7 19 7 25 7 24 7 23 7 20 7 22 7 22 7 21 7 22 7 25 7 27 7 22 7 12 7 8 7 5 7 1 7-5 7-25 7-35 7-39 7-38 7-40 7-49 7-48 7-43 7-39 7-34 7-37 7-33 7-33 7-26 7-27 7-22 7-26 7-18 7-19 7-12 7-14 7-10 7-10 7-6 7-9 7-4 7-8 7-1 7-5 7 1 7 2 7 3 7 0 7-7 7-2 7-2 7 0 7 1 7-1 7 4 7 1 7 2 7 0 7-3 7 4 7-3 7 4 7 1 7 12 7 6 7-2 7 8 7 0 7 8 7-7 7 2 7 1 7 4 7-3 7-1 7-2 7 7 7-4 7-3 7-3 7 2 7 4 7 9 7-2 7 6 7 0 7 8 7 2 7-4 7-3 7-7 7 2 7 6 7 6 7 4 7 1 7-9 7-1 7-1 7 5 7-4 7-4 7 5 7 5 7-2 7-1 7-3 7 4 7 3 7 1 7 3 7-7 7 2 7 7 7 2 7 9 7-3 7 7 7-2 7 2 7 0 7 5 7 8 7 7 7 3 7 4 7 9 7 8 7 10 7 8 7 3 7 2 7 1 7 10 7 10 7 11 7 5 7 9 7 4 7 6 7 8 7 15 7 12 7 11 7 9 7 6 7 3 7 6 7 7 7 13 7 14 7 6 7 2 7-2 7 0 7 0 7-2 7 0 7-8 7-6 7 0 7-3 7-1 7-7 7-2 7-13 7-12 7-16 7-7 7-12 7-10 7-14 7-10 7-11 7-9 7-10 7-9 7-10 7-5 7-5 7-3 7-5 7-6 7-5 7-5 7-5 7-5 7-5 7-3 7-4 7-4 7-6 7-7 7-9 7-11 7-2 7 0 7 1 7-1 7-1 7-1 7-1 7 2 7 9 7 9 7 6" stroke="#ff5900"/>
<path d="M5652,1092l7-10 7-5 7-6 7 4 7 7 7 11 7 12 7 10 7 23 7 21 7 27 7 21 7 20 7 23 7 21 7 23 7 22 7 22 7 24 7 22 7 17 7 9 7 5 7 3 7-5 7-23 7-35 7-38 7-42 7-42 7-52 7-44 7-47 7-36 7-37 7-35 7-33 7-31 7-31 7-25 7-24 7-20 7-23 7-14 7-13 7-10 7-12 7-4 7-9 7-3 7-15 7-4 7-6 7 2 7-1 7 0 7 0 7-1 7 0 7-3 7-2 7-5 7-1 7-1 7 2 7 1 7 5 7 2 7 2 7-3 7 4 7 10 7 1 7-3 7-8 7 5 7 4 7 9 7 8 7-2 7-4 7-3 7 10 7 7 7 4 7-1 7 10 7-2 7-5 7-8 7 2 7 7 7 3 7-1 7 6 7-1 7 2 7-2 7-1 7 6 7-3 7 6 7-7 7 6 7 0 7 4 7 2 7-3 7 1 7-7 7-5 7-2 7 4 7 8 7 2 7 0 7-5 7 1 7 1 7-3 7 3 7 0 7 0 7 0 7 5 7 7 7 2 7-1 7-1 7 2 7 4 7 10 7 7 7 8 7 7 7 3 7 8 7 6 7 12 7 6 7 8 7 5 7 8 7 4 7 2 7 6 7 4 7 11 7 3 7 14 7 6 7 13 7 8 7 10 7 8 7 12 7 11 7 7 7 5 7 9 7 8 7 2 7 1 7 2 7 4 7 1 7-8 7-3 7-8 7 0 7-2 7 1 7-1 7-8 7-6 7-10 7-7 7-15 7-11 7-8 7-11 7-15 7-15 7-9 7-11 7-5 7-9 7-5 7-12 7-3 7-11 7-2 7-6 7 6 7-4 7-3 7-4 7 0 7-2 7-9 7-12 7-6 7-6 7-3 7-9 7-2 7-7 7 1 7-2 7-1 7 1 7 0 7 7 7 6 7 10 7 5" stroke="#ff3c00"/>
<path d="M5652,1084l7-9 7-2 7-4 7-1 7 3 7 9 7 17 7 16 7 20 7 16 7 22 7 22 7 23 7 24 7 26 7 22 7 22 7 21 7 23 7 21 7 18 7 14 7 5 7 0 7-7 7-23 7-34 7-39 7-39 7-43 7-41 7-49 7-46 7-43 7-36 7-31 7-36 7-28 7-33 7-24 7-24 7-20 7-21 7-17 7-14 7-9 7-12 7-8 7-9 7-3 7-3 7-3 7 0 7-4 7-3 7-5 7 2 7 0 7 1 7-6 7 2 7 2 7 0 7-5 7 1 7 1 7-1 7-6 7 12 7 6 7 8 7-3 7 7 7-7 7 3 7-4 7 5 7-3 7 1 7 5 7 3 7 4 7 8 7-1 7 3 7-5 7 6 7 4 7 4 7 7 7-5 7-8 7-6 7 8 7 0 7 3 7 3 7 14 7-1 7-11 7-5 7 4 7 7 7 2 7 0 7-2 7 0 7-6 7 5 7-6 7 3 7-3 7 4 7 2 7-7 7 2 7-5 7 2 7-1 7-2 7 12 7-1 7 7 7-6 7 0 7 5 7 3 7 2 7 2 7 6 7 6 7 5 7 5 7 6 7 9 7 8 7 9 7 5 7 5 7 8 7 1 7 5 7 3 7 9 7 13 7 5 7 9 7 1 7 13 7 5 7 11 7 7 7 8 7 6 7 11 7 12 7 8 7 6 7 5 7 9 7 10 7 9 7 3 7-2 7-2 7-5 7-3 7-2 7-3 7-2 7-1 7 1 7-4 7-5 7-8 7-5 7-10 7-8 7-13 7-10 7-11 7-11 7-9 7-17 7-13 7-8 7-4 7-5 7-8 7-3 7-7 7-3 7-7 7 3 7-4 7-1 7-8 7 2 7-4 7-3 7-10 7-9 7-10 7-9 7-4 7-2 7-2 7-3 7 0 7 1 7 4 7 1 7 2 7 5 7 9 7 6" stroke="#ff2000"/>
<path d="M5652,1081l7-8 7-6 7-7 7 1 7 9 7 9 7 5 7 12 7 23 7 22 7 23 7 18 7 26 7 21 7 22 7 21 7 24 7 23 7 24 7 21 7 21 7 11 7 8 7-2 7-1 7-20 7-33 7-40 7-39 7-42 7-45 7-44 7-47 7-41 7-39 7-33 7-35 7-29 7-27 7-25 7-25 7-22 7-15 7-17 7-14 7-15 7-10 7-8 7-6 7-2 7-11 7-5 7-6 7 2 7-3 7-3 7 1 7 4 7 1 7 0 7-3 7-1 7-3 7-4 7 1 7 7 7 3 7-1 7 2 7 2 7 5 7-2 7 3 7 1 7-2 7-1 7 3 7 3 7-2 7 5 7 2 7 11 7-5 7-3 7 4 7 0 7 10 7-14 7 9 7-7 7 12 7-4 7 8 7 0 7 4 7-2 7-1 7 3 7 2 7 10 7-1 7 2 7-9 7-2 7 1 7 2 7-3 7-2 7 7 7-5 7-3 7-6 7 0 7 5 7 1 7 16 7-5 7 0 7-4 7 5 7 2 7-1 7-6 7 2 7 2 7 8 7 7 7 4 7 6 7-2 7 9 7 5 7 5 7 6 7 8 7 5 7 5 7 3 7 8 7 6 7 9 7 3 7 5 7 1 7 11 7 4 7 11 7 8 7 11 7 8 7 7 7 8 7 7 7 8 7 6 7 9 7 5 7 7 7 3 7 12 7 6 7 12 7-2 7 5 7-3 7 2 7-5 7-5 7-5 7 1 7-2 7-3 7-3 7 0 7-3 7-8 7-13 7-14 7-9 7-8 7-9 7-13 7-11 7-11 7-7 7-9 7-5 7-10 7-7 7-6 7 1 7 1 7-4 7-5 7-5 7 2 7 1 7-3 7-5 7-5 7-4 7-9 7-9 7-10 7-7 7-4 7-2 7 1 7-3 7 2 7 1 7 4 7 4 7 2 7 8 7 3" stroke="#ff0500"/>
</g>
</g>
<line x1="565.2" y1="87.87" x2="716.2" y2="87.87" stroke="#333" stroke-width="1"/>
<rect x="565.2" y="47.4" width="151.0" height="121.4" fill="none" stroke="#444" stroke-width="1.15"/>
<line x1="565.2" y1="168.8" x2="565.2" y2="171.4" stroke="#444" stroke-width="0.7"/>
<line x1="565.2" y1="47.4" x2="565.2" y2="49.6" stroke="#444" stroke-width="0.7"/>
<text x="565.2" y="178.10000000000002" text-anchor="middle" font-family="'Liberation Sans',Arial,sans-serif" font-size="7" fill="#333">600</text>
<line x1="588.43" y1="168.8" x2="588.43" y2="171.4" stroke="#444" stroke-width="0.7"/>
<line x1="588.43" y1="47.4" x2="588.43" y2="49.6" stroke="#444" stroke-width="0.7"/>
<text x="588.43" y="178.10000000000002" text-anchor="middle" font-family="'Liberation Sans',Arial,sans-serif" font-size="7" fill="#333">650</text>
<line x1="611.66" y1="168.8" x2="611.66" y2="171.4" stroke="#444" stroke-width="0.7"/>
<line x1="611.66" y1="47.4" x2="611.66" y2="49.6" stroke="#444" stroke-width="0.7"/>
<text x="611.66" y="178.10000000000002" text-anchor="middle" font-family="'Liberation Sans',Arial,sans-serif" font-size="7" fill="#333">700</text>
<line x1="634.89" y1="168.8" x2="634.89" y2="171.4" stroke="#444" stroke-width="0.7"/>
<line x1="634.89" y1="47.4" x2="634.89" y2="49.6" stroke="#444" stroke-width="0.7"/>
<text x="634.89" y="178.10000000000002" text-anchor="middle" font-family="'Liberation Sans',Arial,sans-serif" font-size="7" fill="#333">750</text>
<line x1="658.12" y1="168.8" x2="658.12" y2="171.4" stroke="#444" stroke-width="0.7"/>
<line x1="658.12" y1="47.4" x2="658.12" y2="49.6" stroke="#444" stroke-width="0.7"/>
<text x="658.12" y="178.10000000000002" text-anchor="middle" font-family="'Liberation Sans',Arial,sans-serif" font-size="7" fill="#333">800</text>
<line x1="681.35" y1="168.8" x2="681.35" y2="171.4" stroke="#444" stroke-width="0.7"/>
<line x1="681.35" y1="47.4" x2="681.35" y2="49.6" stroke="#444" stroke-width="0.7"/>
<text x="681.35" y="178.10000000000002" text-anchor="middle" font-family="'Liberation Sans',Arial,sans-serif" font-size="7" fill="#333">850</text>
<line x1="704.58" y1="168.8" x2="704.58" y2="171.4" stroke="#444" stroke-width="0.7"/>
<line x1="704.58" y1="47.4" x2="704.58" y2="49.6" stroke="#444" stroke-width="0.7"/>
<text x="704.58" y="178.10000000000002" text-anchor="middle" font-family="'Liberation Sans',Arial,sans-serif" font-size="7" fill="#333">900</text>
<line x1="576.82" y1="168.8" x2="576.82" y2="170.4" stroke="#444" stroke-width="0.7"/>
<line x1="576.82" y1="47.4" x2="576.82" y2="48.8" stroke="#444" stroke-width="0.7"/>
<line x1="600.05" y1="168.8" x2="600.05" y2="170.4" stroke="#444" stroke-width="0.7"/>
<line x1="600.05" y1="47.4" x2="600.05" y2="48.8" stroke="#444" stroke-width="0.7"/>
<line x1="623.28" y1="168.8" x2="623.28" y2="170.4" stroke="#444" stroke-width="0.7"/>
<line x1="623.28" y1="47.4" x2="623.28" y2="48.8" stroke="#444" stroke-width="0.7"/>
<line x1="646.51" y1="168.8" x2="646.51" y2="170.4" stroke="#444" stroke-width="0.7"/>
<line x1="646.51" y1="47.4" x2="646.51" y2="48.8" stroke="#444" stroke-width="0.7"/>
<line x1="669.74" y1="168.8" x2="669.74" y2="170.4" stroke="#444" stroke-width="0.7"/>
<line x1="669.74" y1="47.4" x2="669.74" y2="48.8" stroke="#444" stroke-width="0.7"/>
<line x1="692.97" y1="168.8" x2="692.97" y2="170.4" stroke="#444" stroke-width="0.7"/>
<line x1="692.97" y1="47.4" x2="692.97" y2="48.8" stroke="#444" stroke-width="0.7"/>
<line x1="565.2" y1="47.4" x2="562.6" y2="47.4" stroke="#444" stroke-width="0.7"/>
<line x1="716.2" y1="47.4" x2="714.0" y2="47.4" stroke="#444" stroke-width="0.7"/>
<text x="561.3000000000001" y="49.9" text-anchor="end" font-family="'Liberation Sans',Arial,sans-serif" font-size="7" fill="#333">1.0</text>
<line x1="565.2" y1="67.63" x2="562.6" y2="67.63" stroke="#444" stroke-width="0.7"/>
<line x1="716.2" y1="67.63" x2="714.0" y2="67.63" stroke="#444" stroke-width="0.7"/>
<text x="561.3000000000001" y="70.13" text-anchor="end" font-family="'Liberation Sans',Arial,sans-serif" font-size="7" fill="#333">0.5</text>
<line x1="565.2" y1="87.87" x2="562.6" y2="87.87" stroke="#444" stroke-width="0.7"/>
<line x1="716.2" y1="87.87" x2="714.0" y2="87.87" stroke="#444" stroke-width="0.7"/>
<text x="561.3000000000001" y="90.37" text-anchor="end" font-family="'Liberation Sans',Arial,sans-serif" font-size="7" fill="#333">0.0</text>
<line x1="565.2" y1="108.1" x2="562.6" y2="108.1" stroke="#444" stroke-width="0.7"/>
<line x1="716.2" y1="108.1" x2="714.0" y2="108.1" stroke="#444" stroke-width="0.7"/>
<text x="561.3000000000001" y="110.6" text-anchor="end" font-family="'Liberation Sans',Arial,sans-serif" font-size="7" fill="#333">−0.5</text>
<line x1="565.2" y1="128.33" x2="562.6" y2="128.33" stroke="#444" stroke-width="0.7"/>
<line x1="716.2" y1="128.33" x2="714.0" y2="128.33" stroke="#444" stroke-width="0.7"/>
<text x="561.3000000000001" y="130.83" text-anchor="end" font-family="'Liberation Sans',Arial,sans-serif" font-size="7" fill="#333">−1.0</text>
<line x1="565.2" y1="148.57" x2="562.6" y2="148.57" stroke="#444" stroke-width="0.7"/>
<line x1="716.2" y1="148.57" x2="714.0" y2="148.57" stroke="#444" stroke-width="0.7"/>
<text x="561.3000000000001" y="151.07" text-anchor="end" font-family="'Liberation Sans',Arial,sans-serif" font-size="7" fill="#333">−1.5</text>
<line x1="565.2" y1="168.8" x2="562.6" y2="168.8" stroke="#444" stroke-width="0.7"/>
<line x1="716.2" y1="168.8" x2="714.0" y2="168.8" stroke="#444" stroke-width="0.7"/>
<text x="561.3000000000001" y="171.3" text-anchor="end" font-family="'Liberation Sans',Arial,sans-serif" font-size="7" fill="#333">−2.0</text>
<line x1="565.2" y1="158.68" x2="563.6" y2="158.68" stroke="#444" stroke-width="0.7"/>
<line x1="716.2" y1="158.68" x2="714.8000000000001" y2="158.68" stroke="#444" stroke-width="0.7"/>
<line x1="565.2" y1="138.45" x2="563.6" y2="138.45" stroke="#444" stroke-width="0.7"/>
<line x1="716.2" y1="138.45" x2="714.8000000000001" y2="138.45" stroke="#444" stroke-width="0.7"/>
<line x1="565.2" y1="118.22" x2="563.6" y2="118.22" stroke="#444" stroke-width="0.7"/>
<line x1="716.2" y1="118.22" x2="714.8000000000001" y2="118.22" stroke="#444" stroke-width="0.7"/>
<line x1="565.2" y1="97.98" x2="563.6" y2="97.98" stroke="#444" stroke-width="0.7"/>
<line x1="716.2" y1="97.98" x2="714.8000000000001" y2="97.98" stroke="#444" stroke-width="0.7"/>
<line x1="565.2" y1="77.75" x2="563.6" y2="77.75" stroke="#444" stroke-width="0.7"/>
<line x1="716.2" y1="77.75" x2="714.8000000000001" y2="77.75" stroke="#444" stroke-width="0.7"/>
<line x1="565.2" y1="57.52" x2="563.6" y2="57.52" stroke="#444" stroke-width="0.7"/>
<line x1="716.2" y1="57.52" x2="714.8000000000001" y2="57.52" stroke="#444" stroke-width="0.7"/>
<text x="640.7" y="192.4" text-anchor="middle" font-family="'Liberation Sans',Arial,sans-serif" font-size="10.3" fill="#2a2a2a">Wavelength, nm</text>
<defs><marker id="ah" markerWidth="8" markerHeight="8" refX="5.5" refY="3" orient="auto" markerUnits="userSpaceOnUse"><path d="M0,0 L6,3 L0,6 Z" fill="#111"/></marker><marker id="ah2" markerWidth="8" markerHeight="8" refX="3" refY="2.6" orient="auto" markerUnits="userSpaceOnUse"><path d="M0,0 L5.2,2.6 L0,5.2 Z" fill="#111"/></marker><marker id="ahs" markerWidth="6" markerHeight="6" refX="2.2" refY="1.8" orient="auto" markerUnits="userSpaceOnUse"><path d="M0,0.2 L3.6,1.8 L0,3.4 Z" fill="#111"/></marker></defs>
<line x1="299" y1="200" x2="152.3" y2="262.4" stroke="#111" stroke-width="1" marker-end="url(#ah)"/>
<line x1="640.5" y1="200" x2="787.5" y2="262.4" stroke="#111" stroke-width="1" marker-end="url(#ah)"/>
<line x1="461" y1="200" x2="461" y2="249.4" stroke="#111" stroke-width="2" marker-end="url(#ah2)"/>
<text x="148.4" y="286.7" text-anchor="middle" font-family="'Liberation Sans',Arial,sans-serif" font-size="15.6" font-weight="bold" fill="#111" stroke="#111" stroke-width="0.25" textLength="97.5" lengthAdjust="spacingAndGlyphs">DONOR-RICH</text>
<text x="457.2" y="286.7" text-anchor="middle" font-family="'Liberation Sans',Arial,sans-serif" font-size="15.6" font-weight="bold" fill="#111" stroke="#111" stroke-width="0.25" textLength="115" lengthAdjust="spacingAndGlyphs">NEAR-OPTIMAL</text>
<text x="775.2" y="286.7" text-anchor="middle" font-family="'Liberation Sans',Arial,sans-serif" font-size="15.6" font-weight="bold" fill="#111" stroke="#111" stroke-width="0.25" textLength="125.6" lengthAdjust="spacingAndGlyphs">ACCEPTOR-RICH</text>
<defs>
<linearGradient id="gO" x1="0" y1="0" x2="0" y2="1"><stop offset="0" stop-color="#f29230"/><stop offset="0.08" stop-color="#f5a34c"/><stop offset="0.2" stop-color="#fac88a"/><stop offset="0.35" stop-color="#fde3b4"/><stop offset="0.5" stop-color="#feefcb"/><stop offset="0.65" stop-color="#fde3b4"/><stop offset="0.8" stop-color="#fac88a"/><stop offset="0.92" stop-color="#f5a34c"/><stop offset="1" stop-color="#f29230"/></linearGradient>
<linearGradient id="gOh" x1="0" y1="0" x2="1" y2="0"><stop offset="0" stop-color="#f39a3e" stop-opacity="0.6"/><stop offset="0.22" stop-color="#f8b871" stop-opacity="0"/><stop offset="0.78" stop-color="#f8b871" stop-opacity="0"/><stop offset="1" stop-color="#f39a3e" stop-opacity="0.6"/></linearGradient>
<linearGradient id="gB" x1="0" y1="0" x2="0" y2="1"><stop offset="0" stop-color="#5f84d8"/><stop offset="0.2" stop-color="#8687d1"/><stop offset="0.5" stop-color="#a989cb"/><stop offset="0.8" stop-color="#8687d1"/><stop offset="1" stop-color="#5f84d8"/></linearGradient>
<linearGradient id="gBh" x1="0" y1="0" x2="1" y2="0"><stop offset="0" stop-color="#5d86d8" stop-opacity="0.3"/><stop offset="0.25" stop-color="#5d86d8" stop-opacity="0"/><stop offset="0.75" stop-color="#5d86d8" stop-opacity="0"/><stop offset="1" stop-color="#5d86d8" stop-opacity="0.3"/></linearGradient>
<radialGradient id="gBr" cx="0.5" cy="0.5" r="0.66"><stop offset="0" stop-color="#a47fc6"/><stop offset="0.4" stop-color="#9a82ca"/><stop offset="1" stop-color="#6088da"/></radialGradient>
<radialGradient id="gR" cx="0.5" cy="0.5" r="0.5"><stop offset="0" stop-color="#c03c48"/><stop offset="0.5" stop-color="#d62c36"/><stop offset="1" stop-color="#ea222a"/></radialGradient>
<radialGradient id="gT" cx="0.5" cy="0.5" r="0.5"><stop offset="0" stop-color="#3fa9b4"/><stop offset="0.6" stop-color="#1f9aa6"/><stop offset="1" stop-color="#1b8f9e"/></radialGradient>
</defs>
<text x="39.1" y="299.7" text-anchor="middle" font-family="'Liberation Serif','DejaVu Serif',serif" font-size="8.8" font-weight="normal" fill="#1a1a1a" stroke="#1a1a1a" stroke-width="0.34" textLength="23.4" lengthAdjust="spacingAndGlyphs">donor</text>
<text x="39.35" y="310.5" text-anchor="middle" font-family="'Liberation Serif','DejaVu Serif',serif" font-size="8.8" font-weight="normal" fill="#1a1a1a" stroke="#1a1a1a" stroke-width="0.34" textLength="41.5" lengthAdjust="spacingAndGlyphs">excitation</text>
<text x="39.5" y="321.4" text-anchor="middle" font-family="'Liberation Serif','DejaVu Serif',serif" font-size="8.8" font-weight="normal" fill="#1a1a1a" stroke="#1a1a1a" stroke-width="0.34" textLength="20.8" lengthAdjust="spacingAndGlyphs">(~fs)</text>
<rect x="29.3" y="332.7" width="18.2" height="55.6" rx="9.1" fill="url(#gO)"/>
<rect x="29.3" y="332.7" width="18.2" height="55.6" rx="9.1" fill="url(#gOh)"/>
<circle cx="38.4" cy="342" r="4.2" fill="url(#gR)"/>
<line x1="38.4" y1="377.5" x2="38.4" y2="353.5" stroke="#111" stroke-width="1.15" marker-end="url(#ahs)"/>
<line x1="33" y1="383" x2="44" y2="383" stroke="#d65a2c" stroke-width="1.2"/>
<text x="34.3" y="400.3" font-family="'Liberation Serif','DejaVu Serif',serif" font-size="8.8" fill="#1a1a1a" stroke="#1a1a1a" stroke-width="0.3">D<tspan font-size="5.5" dy="-2.9">*</tspan></text>
<text x="76.15" y="345.2" text-anchor="middle" font-family="'Liberation Serif','DejaVu Serif',serif" font-size="6.9" font-weight="normal" fill="#1a1a1a" stroke="#1a1a1a" stroke-width="0.34" textLength="49.1" lengthAdjust="spacingAndGlyphs">charge transfer</text>
<text x="75.8" y="354" text-anchor="middle" font-family="'Liberation Serif','DejaVu Serif',serif" font-size="6.9" font-weight="normal" fill="#1a1a1a" stroke="#1a1a1a" stroke-width="0.34" textLength="36.4" lengthAdjust="spacingAndGlyphs">(~ sub–ps)</text>
<line x1="60" y1="360.5" x2="89.8" y2="360.5" stroke="#111" stroke-width="1.35" marker-end="url(#ahs)"/>
<rect x="106" y="334" width="18.7" height="56.7" rx="9.35" fill="url(#gB)"/>
<rect x="106" y="334" width="18.7" height="56.7" rx="9.35" fill="url(#gBh)"/>
<rect x="126.4" y="334" width="25.1" height="55.5" rx="11" fill="url(#gO)"/>
<rect x="126.4" y="334" width="25.1" height="55.5" rx="11" fill="url(#gOh)"/>
<line x1="133" y1="385.4" x2="144" y2="385.4" stroke="#d65a2c" stroke-width="1.2"/>
<circle cx="143" cy="344.7" r="4.0" fill="url(#gR)"/>
<circle cx="115.8" cy="380.4" r="3.9" fill="url(#gT)"/>
<ellipse cx="129.2" cy="362.4" rx="31" ry="9.4" transform="rotate(-48.5 129.2 362.4)" fill="none" stroke="#111" stroke-width="1.1" stroke-dasharray="3.2 2.2"/>
<text x="128.05" y="305.6" text-anchor="middle" font-family="'Liberation Serif','DejaVu Serif',serif" font-size="8.8" font-weight="normal" fill="#1a1a1a" stroke="#1a1a1a" stroke-width="0.34" textLength="71.5" lengthAdjust="spacingAndGlyphs">xCT stabilisation</text>
<text x="128.05" y="316.4" text-anchor="middle" font-family="'Liberation Serif','DejaVu Serif',serif" font-size="8.8" font-weight="normal" fill="#1a1a1a" stroke="#1a1a1a" stroke-width="0.34" textLength="31.7" lengthAdjust="spacingAndGlyphs">(~2 ps)</text>
<text x="185.8" y="354.7" text-anchor="middle" font-family="'Liberation Serif','DejaVu Serif',serif" font-size="6.9" font-weight="normal" fill="#1a1a1a" stroke="#1a1a1a" stroke-width="0.34" textLength="62.8" lengthAdjust="spacingAndGlyphs">xCT recombination</text>
<line x1="166" y1="360" x2="195.8" y2="360" stroke="#111" stroke-width="1.35" marker-end="url(#ahs)"/>
<rect x="218.7" y="330.3" width="17.9" height="55.7" rx="8.95" fill="url(#gB)"/>
<rect x="218.7" y="330.3" width="17.9" height="55.7" rx="8.95" fill="url(#gBh)"/>
<circle cx="227.8" cy="338.7" r="4.2" fill="url(#gR)"/>
<line x1="227.8" y1="347.5" x2="227.8" y2="371.5" stroke="#111" stroke-width="1.15" marker-end="url(#ahs)"/>
<line x1="222.7" y1="376" x2="234" y2="376" stroke="#2169b2" stroke-width="1.0"/>
<text x="230.3" y="360.3" font-family="'Liberation Serif','DejaVu Serif',serif" font-size="9.6" fill="#1a1a1a" stroke="#1a1a1a" stroke-width="0.3">R<tspan font-size="5.95" dy="1.92">A</tspan></text>
<line x1="242.6" y1="323.6" x2="242.6" y2="395.5" stroke="#111" stroke-width="1.15" stroke-dasharray="2.8 2.3"/>
<rect x="249" y="329.6" width="17.4" height="55.8" rx="8.7" fill="url(#gO)"/>
<rect x="249" y="329.6" width="17.4" height="55.8" rx="8.7" fill="url(#gOh)"/>
<circle cx="257.7" cy="338.7" r="4.2" fill="url(#gR)"/>
<line x1="257.7" y1="347.5" x2="257.7" y2="371.5" stroke="#111" stroke-width="1.15" marker-end="url(#ahs)"/>
<line x1="252.5" y1="380.6" x2="263" y2="380.6" stroke="#d65a2c" stroke-width="1.2"/>
<text x="261.8" y="360.3" font-family="'Liberation Serif','DejaVu Serif',serif" font-size="9.6" fill="#1a1a1a" stroke="#1a1a1a" stroke-width="0.3">R<tspan font-size="5.95" dy="1.92">D</tspan></text>
<text x="242.65" y="304.9" text-anchor="middle" font-family="'Liberation Serif','DejaVu Serif',serif" font-size="8.8" font-weight="normal" fill="#1a1a1a" stroke="#1a1a1a" stroke-width="0.34" textLength="59.9" lengthAdjust="spacingAndGlyphs">recombination</text>
<text x="242.75" y="315.9" text-anchor="middle" font-family="'Liberation Serif','DejaVu Serif',serif" font-size="8.8" font-weight="normal" fill="#1a1a1a" stroke="#1a1a1a" stroke-width="0.34" textLength="65.5" lengthAdjust="spacingAndGlyphs">(~10–10000 ps)</text>
<text x="245.25" y="401" text-anchor="middle" font-family="'Liberation Serif','DejaVu Serif',serif" font-size="9.4" fill="#1a1a1a" stroke="#1a1a1a" stroke-width="0.28" textLength="40.3" lengthAdjust="spacingAndGlyphs">R<tspan font-size="5.83" dy="1.88">A</tspan><tspan dy="-1.88"> &lt;&lt; R</tspan><tspan font-size="5.83" dy="1.88">D</tspan></text>
<text x="371.55" y="303.2" text-anchor="middle" font-family="'Liberation Serif','DejaVu Serif',serif" font-size="9.6" font-weight="normal" fill="#1a1a1a" stroke="#1a1a1a" stroke-width="0.34" textLength="25.7" lengthAdjust="spacingAndGlyphs">donor</text>
<text x="371.3" y="314.7" text-anchor="middle" font-family="'Liberation Serif','DejaVu Serif',serif" font-size="9.6" font-weight="normal" fill="#1a1a1a" stroke="#1a1a1a" stroke-width="0.34" textLength="44.4" lengthAdjust="spacingAndGlyphs">excitation</text>
<text x="371.4" y="326" text-anchor="middle" font-family="'Liberation Serif','DejaVu Serif',serif" font-size="9.6" font-weight="normal" fill="#1a1a1a" stroke="#1a1a1a" stroke-width="0.34" textLength="22" lengthAdjust="spacingAndGlyphs">(~fs)</text>
<rect x="362" y="331.2" width="19.5" height="59.5" rx="9.75" fill="url(#gO)"/>
<rect x="362" y="331.2" width="19.5" height="59.5" rx="9.75" fill="url(#gOh)"/>
<circle cx="371.7" cy="341.6" r="4.2" fill="url(#gR)"/>
<line x1="371.7" y1="379" x2="371.7" y2="353" stroke="#111" stroke-width="1.15" marker-end="url(#ahs)"/>
<line x1="365" y1="385.2" x2="378" y2="385.2" stroke="#d65a2c" stroke-width="1.2"/>
<text x="366.9" y="403.2" font-family="'Liberation Serif','DejaVu Serif',serif" font-size="9.4" fill="#1a1a1a" stroke="#1a1a1a" stroke-width="0.3">D<tspan font-size="5.8" dy="-3.1">*</tspan></text>
<text x="410.25" y="346.8" text-anchor="middle" font-family="'Liberation Serif','DejaVu Serif',serif" font-size="7.3" font-weight="normal" fill="#1a1a1a" stroke="#1a1a1a" stroke-width="0.34" textLength="52.7" lengthAdjust="spacingAndGlyphs">energy transfer</text>
<text x="410.25" y="356" text-anchor="middle" font-family="'Liberation Serif','DejaVu Serif',serif" font-size="7.3" font-weight="normal" fill="#1a1a1a" stroke="#1a1a1a" stroke-width="0.34" textLength="38.3" lengthAdjust="spacingAndGlyphs">(~ sub–ps)</text>
<line x1="394.4" y1="361.2" x2="425.7" y2="361.2" stroke="#111" stroke-width="1.35" marker-end="url(#ahs)"/>
<rect x="445.5" y="329.6" width="19.2" height="59.9" rx="9.6" fill="url(#gB)"/>
<rect x="445.5" y="329.6" width="19.2" height="59.9" rx="9.6" fill="url(#gBh)"/>
<circle cx="455" cy="339" r="4.2" fill="url(#gR)"/>
<line x1="449" y1="378.7" x2="461" y2="378.7" stroke="#2169b2" stroke-width="1.0"/>
<rect x="470.7" y="330.8" width="19.3" height="59.9" rx="9.65" fill="url(#gO)"/>
<rect x="470.7" y="330.8" width="19.3" height="59.9" rx="9.65" fill="url(#gOh)"/>
<line x1="474" y1="386" x2="487" y2="386" stroke="#d65a2c" stroke-width="1.2"/>
<circle cx="480.3" cy="386" r="4.2" fill="url(#gT)"/>
<path d="M455.8,374 C466,373 475,373.5 478.2,379.5" fill="none" stroke="#111" stroke-width="1.1" marker-end="url(#ahs)"/>
<text x="466.5" y="303.2" text-anchor="middle" font-family="'Liberation Serif','DejaVu Serif',serif" font-size="9.6" font-weight="normal" fill="#1a1a1a" stroke="#1a1a1a" stroke-width="0.34" textLength="20.4" lengthAdjust="spacingAndGlyphs">xCT</text>
<text x="467.35" y="314.7" text-anchor="middle" font-family="'Liberation Serif','DejaVu Serif',serif" font-size="9.6" font-weight="normal" fill="#1a1a1a" stroke="#1a1a1a" stroke-width="0.34" textLength="43.7" lengthAdjust="spacingAndGlyphs">formation</text>
<text x="467.45" y="326" text-anchor="middle" font-family="'Liberation Serif','DejaVu Serif',serif" font-size="9.6" font-weight="normal" fill="#1a1a1a" stroke="#1a1a1a" stroke-width="0.34" textLength="49.7" lengthAdjust="spacingAndGlyphs">(~1–10 ps)</text>
<text x="451.5" y="403.6" font-family="'Liberation Serif','DejaVu Serif',serif" font-size="9.6" fill="#1a1a1a" stroke="#1a1a1a" stroke-width="0.3">A<tspan font-size="8" dy="-3.17">−</tspan></text>
<text x="476.2" y="404.6" font-family="'Liberation Serif','DejaVu Serif',serif" font-size="9.6" fill="#1a1a1a" stroke="#1a1a1a" stroke-width="0.3">D<tspan font-size="8" dy="-3.17">+</tspan></text>
<text x="521.15" y="345.6" text-anchor="middle" font-family="'Liberation Serif','DejaVu Serif',serif" font-size="7.3" font-weight="normal" fill="#1a1a1a" stroke="#1a1a1a" stroke-width="0.34" textLength="46.3" lengthAdjust="spacingAndGlyphs">SC formation</text>
<text x="521.35" y="354.7" text-anchor="middle" font-family="'Liberation Serif','DejaVu Serif',serif" font-size="7.3" font-weight="normal" fill="#1a1a1a" stroke="#1a1a1a" stroke-width="0.34" textLength="33.3" lengthAdjust="spacingAndGlyphs">(~100 ps)</text>
<line x1="502.8" y1="361" x2="535" y2="361" stroke="#111" stroke-width="1.35" marker-end="url(#ahs)"/>
<rect x="552.7" y="329" width="19.1" height="59.8" rx="9.55" fill="url(#gB)"/>
<rect x="552.7" y="329" width="19.1" height="59.8" rx="9.55" fill="url(#gBh)"/>
<circle cx="561.8" cy="338.4" r="4.2" fill="url(#gR)"/>
<line x1="561.8" y1="347" x2="561.8" y2="373.5" stroke="#111" stroke-width="1.15" marker-end="url(#ahs)"/>
<line x1="556" y1="378.2" x2="568" y2="378.2" stroke="#2169b2" stroke-width="1.0"/>
<text x="564" y="360.5" font-family="'Liberation Serif','DejaVu Serif',serif" font-size="10.2" fill="#1a1a1a" stroke="#1a1a1a" stroke-width="0.3">R<tspan font-size="6.32" dy="2.04">A</tspan></text>
<line x1="577.6" y1="321" x2="577.6" y2="398" stroke="#111" stroke-width="1.4" stroke-dasharray="2.3 2"/>
<rect x="584.3" y="328.4" width="19.7" height="59.9" rx="9.85" fill="url(#gO)"/>
<rect x="584.3" y="328.4" width="19.7" height="59.9" rx="9.85" fill="url(#gOh)"/>
<circle cx="594.4" cy="338.4" r="4.2" fill="url(#gR)"/>
<line x1="594.4" y1="347" x2="594.4" y2="373" stroke="#111" stroke-width="1.15" marker-end="url(#ahs)"/>
<line x1="588" y1="382.3" x2="600.5" y2="382.3" stroke="#d65a2c" stroke-width="1.2"/>
<text x="598.7" y="360.5" font-family="'Liberation Serif','DejaVu Serif',serif" font-size="10.2" fill="#1a1a1a" stroke="#1a1a1a" stroke-width="0.3">R<tspan font-size="6.32" dy="2.04">D</tspan></text>
<text x="578.1" y="302" text-anchor="middle" font-family="'Liberation Serif','DejaVu Serif',serif" font-size="9.6" font-weight="normal" fill="#1a1a1a" stroke="#1a1a1a" stroke-width="0.34" textLength="64.2" lengthAdjust="spacingAndGlyphs">recombination</text>
<text x="577.85" y="313.3" text-anchor="middle" font-family="'Liberation Serif','DejaVu Serif',serif" font-size="9.6" font-weight="normal" fill="#1a1a1a" stroke="#1a1a1a" stroke-width="0.34" textLength="69.5" lengthAdjust="spacingAndGlyphs">(~10–10000 ps)</text>
<text x="580.7" y="404.2" text-anchor="middle" font-family="'Liberation Serif','DejaVu Serif',serif" font-size="10" fill="#1a1a1a" stroke="#1a1a1a" stroke-width="0.28" textLength="43.2" lengthAdjust="spacingAndGlyphs">R<tspan font-size="6.2" dy="2">A</tspan><tspan dy="-2"> &gt;&gt; R</tspan><tspan font-size="6.2" dy="2">D</tspan></text>
<text x="699.05" y="305.6" text-anchor="middle" font-family="'Liberation Serif','DejaVu Serif',serif" font-size="8.8" font-weight="normal" fill="#484848" stroke="#484848" stroke-width="0.34" textLength="23.5" lengthAdjust="spacingAndGlyphs">donor</text>
<text x="699.15" y="316.4" text-anchor="middle" font-family="'Liberation Serif','DejaVu Serif',serif" font-size="8.8" font-weight="normal" fill="#484848" stroke="#484848" stroke-width="0.34" textLength="41.5" lengthAdjust="spacingAndGlyphs">excitation</text>
<text x="699.4" y="326.7" text-anchor="middle" font-family="'Liberation Serif','DejaVu Serif',serif" font-size="8.8" font-weight="normal" fill="#484848" stroke="#484848" stroke-width="0.34" textLength="20.4" lengthAdjust="spacingAndGlyphs">(~fs)</text>
<rect x="690" y="331.2" width="18.4" height="55.2" rx="9.2" fill="url(#gO)"/>
<rect x="690" y="331.2" width="18.4" height="55.2" rx="9.2" fill="url(#gOh)"/>
<circle cx="699.3" cy="341" r="4.0" fill="url(#gR)"/>
<line x1="699.3" y1="375.9" x2="699.3" y2="352.5" stroke="#222" stroke-width="0.8" marker-end="url(#ahs)"/>
<line x1="693.5" y1="381" x2="705" y2="381" stroke="#d65a2c" stroke-width="1.2"/>
<text x="695.2" y="397.9" font-family="'Liberation Serif','DejaVu Serif',serif" font-size="8.8" fill="#484848" stroke="#484848" stroke-width="0.3">D<tspan font-size="5.5" dy="-2.9">*</tspan></text>
<text x="736.05" y="344.4" text-anchor="middle" font-family="'Liberation Serif','DejaVu Serif',serif" font-size="6.8" font-weight="normal" fill="#484848" stroke="#484848" stroke-width="0.34" textLength="49.1" lengthAdjust="spacingAndGlyphs">energy transfer</text>
<text x="736.2" y="352.4" text-anchor="middle" font-family="'Liberation Serif','DejaVu Serif',serif" font-size="6.8" font-weight="normal" fill="#484848" stroke="#484848" stroke-width="0.34" textLength="36.4" lengthAdjust="spacingAndGlyphs">(~ sub–ps)</text>
<line x1="720.8" y1="359.3" x2="750.7" y2="359.3" stroke="#111" stroke-width="1.35" marker-end="url(#ahs)"/>
<rect x="762.3" y="329.6" width="18.5" height="55.8" rx="9.25" fill="url(#gO)"/>
<rect x="762.3" y="329.6" width="18.5" height="55.8" rx="9.25" fill="url(#gOh)"/>
<line x1="765.5" y1="379.2" x2="777.5" y2="379.2" stroke="#d65a2c" stroke-width="1.2"/>
<text x="771.4" y="396.7" text-anchor="middle" font-family="'Liberation Serif','DejaVu Serif',serif" font-size="8.8" font-weight="normal" fill="#484848" stroke="#484848" stroke-width="0.34" textLength="7.2" lengthAdjust="spacingAndGlyphs">D</text>
<rect x="782.3" y="331.2" width="52" height="55.2" rx="19" fill="url(#gBr)"/>
<line x1="805.2" y1="340.8" x2="816" y2="340.8" stroke="#2169b2" stroke-width="1.0"/>
<line x1="819.6" y1="347" x2="831.6" y2="347" stroke="#2169b2" stroke-width="1.0"/>
<line x1="819.6" y1="367.5" x2="831.6" y2="367.5" stroke="#2169b2" stroke-width="1.0"/>
<line x1="805.2" y1="370.8" x2="816" y2="370.8" stroke="#2169b2" stroke-width="1.0"/>
<path d="M801.4,333.4 C810,332.5 820.5,332 825,336.2" fill="none" stroke="#111" stroke-width="1.3" marker-end="url(#ahs)"/>
<path d="M802,376.8 C810,377.4 821,377.6 825.6,373.6" fill="none" stroke="#111" stroke-width="1.3" marker-end="url(#ahs)"/>
<circle cx="796.4" cy="336.8" r="4.0" fill="url(#gR)"/>
<circle cx="796.8" cy="375.1" r="3.9" fill="url(#gT)"/>
<ellipse cx="797.2" cy="355.5" rx="6.1" ry="29.7" transform="rotate(1.5 797.2 355.5)" fill="none" stroke="#111" stroke-width="1.15" stroke-dasharray="3.2 2.4"/>
<text x="799.5" y="397.2" font-family="'Liberation Serif','DejaVu Serif',serif" font-size="8.8" fill="#484848" stroke="#484848" stroke-width="0.3">A<tspan font-size="5.5" dy="-2.9">*</tspan></text>
<text x="803.9" y="305.1" text-anchor="middle" font-family="'Liberation Serif','DejaVu Serif',serif" font-size="8.8" font-weight="normal" fill="#484848" stroke="#484848" stroke-width="0.34" textLength="64" lengthAdjust="spacingAndGlyphs">A* stabilisation</text>
<text x="803.55" y="315.9" text-anchor="middle" font-family="'Liberation Serif','DejaVu Serif',serif" font-size="8.8" font-weight="normal" fill="#484848" stroke="#484848" stroke-width="0.34" textLength="45.5" lengthAdjust="spacingAndGlyphs">(~1–10 ps)</text>
<text x="865.2" y="341.6" text-anchor="middle" font-family="'Liberation Serif','DejaVu Serif',serif" font-size="6.8" font-weight="normal" fill="#484848" stroke="#484848" stroke-width="0.34" textLength="43.2" lengthAdjust="spacingAndGlyphs">SC formation</text>
<text x="865.4" y="350" text-anchor="middle" font-family="'Liberation Serif','DejaVu Serif',serif" font-size="6.8" font-weight="normal" fill="#484848" stroke="#484848" stroke-width="0.34" textLength="30.8" lengthAdjust="spacingAndGlyphs">(~100 ps)</text>
<line x1="847.9" y1="358.3" x2="877.7" y2="358.3" stroke="#111" stroke-width="1.35" marker-end="url(#ahs)"/>
<rect x="890.8" y="330.8" width="18.7" height="55.6" rx="9.35" fill="url(#gB)"/>
<rect x="890.8" y="330.8" width="18.7" height="55.6" rx="9.35" fill="url(#gBh)"/>
<circle cx="899.9" cy="347.6" r="4.0" fill="url(#gR)"/>
<line x1="899.9" y1="355.2" x2="899.9" y2="364.8" stroke="#222" stroke-width="1.15" marker-end="url(#ahs)"/>
<line x1="894.4" y1="369.9" x2="906" y2="369.9" stroke="#2169b2" stroke-width="1.0"/>
<text x="902.4" y="360.8" font-family="'Liberation Serif','DejaVu Serif',serif" font-size="9.4" fill="#484848" stroke="#484848" stroke-width="0.3">R<tspan font-size="5.83" dy="1.88">A</tspan></text>
<line x1="915" y1="323.6" x2="915" y2="395.5" stroke="#555" stroke-width="1" stroke-dasharray="2 1.9"/>
<rect x="921" y="330.3" width="18.5" height="55.1" rx="9.25" fill="url(#gO)"/>
<rect x="921" y="330.3" width="18.5" height="55.1" rx="9.25" fill="url(#gOh)"/>
<circle cx="930.4" cy="339.6" r="4.0" fill="url(#gR)"/>
<line x1="930.4" y1="346.4" x2="930.4" y2="371.5" stroke="#222" stroke-width="0.8" marker-end="url(#ahs)"/>
<line x1="924.5" y1="380.6" x2="936" y2="380.6" stroke="#d65a2c" stroke-width="1.2"/>
<text x="933.5" y="360.8" font-family="'Liberation Serif','DejaVu Serif',serif" font-size="9.4" fill="#484848" stroke="#484848" stroke-width="0.3">R<tspan font-size="5.83" dy="1.88">D</tspan></text>
<text x="915.1" y="305.6" text-anchor="middle" font-family="'Liberation Serif','DejaVu Serif',serif" font-size="8.8" font-weight="normal" fill="#484848" stroke="#484848" stroke-width="0.34" textLength="60" lengthAdjust="spacingAndGlyphs">recombination</text>
<text x="914.95" y="316.4" text-anchor="middle" font-family="'Liberation Serif','DejaVu Serif',serif" font-size="8.8" font-weight="normal" fill="#484848" stroke="#484848" stroke-width="0.34" textLength="65.1" lengthAdjust="spacingAndGlyphs">(~10–10000 ps)</text>
<text x="917.5" y="400.8" text-anchor="middle" font-family="'Liberation Serif','DejaVu Serif',serif" font-size="9.4" fill="#484848" stroke="#484848" stroke-width="0.28" textLength="40.8" lengthAdjust="spacingAndGlyphs">R<tspan font-size="5.83" dy="1.88">A</tspan><tspan dy="-1.88"> &gt;&gt; R</tspan><tspan font-size="5.83" dy="1.88">D</tspan></text>
</svg>
</body></html>
